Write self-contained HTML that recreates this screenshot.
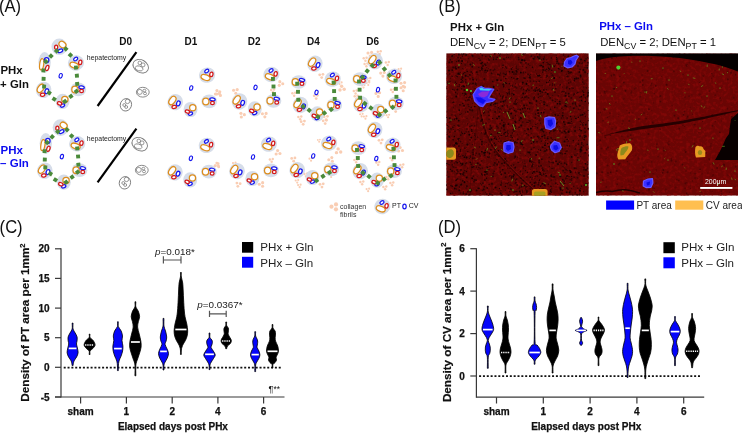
<!DOCTYPE html><html><head><meta charset="utf-8"><title>Figure</title><style>
html,body{margin:0;padding:0;background:#fff;}
body{width:742px;height:433px;overflow:hidden;position:relative;font-family:'Liberation Sans', Arial, Helvetica, sans-serif;}
svg{position:absolute;left:0;top:0;}
text{font-family:'Liberation Sans', Arial, Helvetica, sans-serif;}
</style></head><body>
<svg width="742" height="433" viewBox="0 0 742 433">
<g id="panelA"><circle cx="216.93" cy="90.62" r="1.55" fill="#f9cdb3"/><circle cx="219.25" cy="93.44" r="1.55" fill="#f9cdb3"/><circle cx="215.43" cy="94.02" r="1.55" fill="#f9cdb3"/><circle cx="233.60" cy="90.20" r="1.55" fill="#f9cdb3"/><circle cx="237.20" cy="89.60" r="1.55" fill="#f9cdb3"/><circle cx="235.80" cy="93.20" r="1.55" fill="#f9cdb3"/><circle cx="219.80" cy="91.80" r="1.55" fill="#f9cdb3"/><circle cx="220.40" cy="95.40" r="1.55" fill="#f9cdb3"/><circle cx="216.80" cy="94.00" r="1.55" fill="#f9cdb3"/><circle cx="240.92" cy="113.37" r="1.55" fill="#f9cdb3"/><circle cx="244.34" cy="114.65" r="1.55" fill="#f9cdb3"/><circle cx="241.32" cy="117.07" r="1.55" fill="#f9cdb3"/><circle cx="266.13" cy="113.42" r="1.55" fill="#f9cdb3"/><circle cx="264.85" cy="116.84" r="1.55" fill="#f9cdb3"/><circle cx="262.43" cy="113.82" r="1.55" fill="#f9cdb3"/><circle cx="279.81" cy="81.67" r="1.55" fill="#f9cdb3"/><circle cx="282.77" cy="83.79" r="1.55" fill="#f9cdb3"/><circle cx="279.24" cy="85.34" r="1.55" fill="#f9cdb3"/><circle cx="271.20" cy="89.96" r="1.24" fill="#f9cdb3"/><circle cx="274.08" cy="89.48" r="1.24" fill="#f9cdb3"/><circle cx="272.96" cy="92.36" r="1.24" fill="#f9cdb3"/><circle cx="216.78" cy="163.11" r="1.40" fill="#f9cdb3"/><circle cx="218.40" cy="165.97" r="1.40" fill="#f9cdb3"/><circle cx="214.92" cy="165.89" r="1.40" fill="#f9cdb3"/><circle cx="277.63" cy="150.62" r="1.55" fill="#f9cdb3"/><circle cx="279.95" cy="153.44" r="1.55" fill="#f9cdb3"/><circle cx="276.13" cy="154.02" r="1.55" fill="#f9cdb3"/><circle cx="269.90" cy="159.46" r="1.24" fill="#f9cdb3"/><circle cx="272.78" cy="158.98" r="1.24" fill="#f9cdb3"/><circle cx="271.66" cy="161.86" r="1.24" fill="#f9cdb3"/><circle cx="233.00" cy="163.09" r="1.08" fill="#f9cdb3"/><circle cx="235.52" cy="162.67" r="1.08" fill="#f9cdb3"/><circle cx="234.54" cy="165.19" r="1.08" fill="#f9cdb3"/><circle cx="218.17" cy="163.70" r="1.40" fill="#f9cdb3"/><circle cx="218.71" cy="166.94" r="1.40" fill="#f9cdb3"/><circle cx="215.47" cy="165.68" r="1.40" fill="#f9cdb3"/><circle cx="236.91" cy="183.08" r="1.40" fill="#f9cdb3"/><circle cx="240.14" cy="183.69" r="1.40" fill="#f9cdb3"/><circle cx="237.85" cy="186.30" r="1.40" fill="#f9cdb3"/><circle cx="262.63" cy="182.66" r="1.55" fill="#f9cdb3"/><circle cx="262.59" cy="186.31" r="1.55" fill="#f9cdb3"/><circle cx="259.29" cy="184.30" r="1.55" fill="#f9cdb3"/><circle cx="319.70" cy="74.83" r="1.40" fill="#f9cdb3"/><circle cx="322.94" cy="74.29" r="1.40" fill="#f9cdb3"/><circle cx="321.68" cy="77.53" r="1.40" fill="#f9cdb3"/><circle cx="341.64" cy="86.18" r="1.71" fill="#f9cdb3"/><circle cx="344.19" cy="89.28" r="1.71" fill="#f9cdb3"/><circle cx="339.99" cy="89.93" r="1.71" fill="#f9cdb3"/><circle cx="314.20" cy="95.83" r="1.40" fill="#f9cdb3"/><circle cx="317.44" cy="95.29" r="1.40" fill="#f9cdb3"/><circle cx="316.18" cy="98.53" r="1.40" fill="#f9cdb3"/><circle cx="292.40" cy="93.26" r="1.24" fill="#f9cdb3"/><circle cx="295.28" cy="92.78" r="1.24" fill="#f9cdb3"/><circle cx="294.16" cy="95.66" r="1.24" fill="#f9cdb3"/><circle cx="298.40" cy="116.96" r="1.24" fill="#f9cdb3"/><circle cx="301.28" cy="116.48" r="1.24" fill="#f9cdb3"/><circle cx="300.16" cy="119.36" r="1.24" fill="#f9cdb3"/><circle cx="324.20" cy="116.83" r="1.40" fill="#f9cdb3"/><circle cx="327.44" cy="116.29" r="1.40" fill="#f9cdb3"/><circle cx="326.18" cy="119.53" r="1.40" fill="#f9cdb3"/><circle cx="339.24" cy="81.51" r="1.08" fill="#f9cdb3"/><circle cx="341.63" cy="82.41" r="1.08" fill="#f9cdb3"/><circle cx="339.53" cy="84.10" r="1.08" fill="#f9cdb3"/><circle cx="301.20" cy="121.63" r="1.40" fill="#f9cdb3"/><circle cx="304.44" cy="121.09" r="1.40" fill="#f9cdb3"/><circle cx="303.18" cy="124.33" r="1.40" fill="#f9cdb3"/><circle cx="323.20" cy="120.83" r="1.40" fill="#f9cdb3"/><circle cx="326.44" cy="120.29" r="1.40" fill="#f9cdb3"/><circle cx="325.18" cy="123.53" r="1.40" fill="#f9cdb3"/><circle cx="317.80" cy="139.92" r="0.93" fill="#f9cdb3"/><circle cx="319.96" cy="139.56" r="0.93" fill="#f9cdb3"/><circle cx="319.12" cy="141.72" r="0.93" fill="#f9cdb3"/><circle cx="338.14" cy="148.88" r="1.71" fill="#f9cdb3"/><circle cx="340.69" cy="151.98" r="1.71" fill="#f9cdb3"/><circle cx="336.49" cy="152.63" r="1.71" fill="#f9cdb3"/><circle cx="331.80" cy="157.60" r="1.55" fill="#f9cdb3"/><circle cx="332.40" cy="161.20" r="1.55" fill="#f9cdb3"/><circle cx="328.80" cy="159.80" r="1.55" fill="#f9cdb3"/><circle cx="309.50" cy="158.69" r="1.08" fill="#f9cdb3"/><circle cx="312.02" cy="158.27" r="1.08" fill="#f9cdb3"/><circle cx="311.04" cy="160.79" r="1.08" fill="#f9cdb3"/><circle cx="291.70" cy="158.43" r="1.40" fill="#f9cdb3"/><circle cx="294.94" cy="157.89" r="1.40" fill="#f9cdb3"/><circle cx="293.68" cy="161.13" r="1.40" fill="#f9cdb3"/><circle cx="295.70" cy="180.49" r="1.08" fill="#f9cdb3"/><circle cx="298.22" cy="180.07" r="1.08" fill="#f9cdb3"/><circle cx="297.24" cy="182.59" r="1.08" fill="#f9cdb3"/><circle cx="298.10" cy="185.09" r="1.08" fill="#f9cdb3"/><circle cx="300.62" cy="184.67" r="1.08" fill="#f9cdb3"/><circle cx="299.64" cy="187.19" r="1.08" fill="#f9cdb3"/><circle cx="320.00" cy="184.33" r="1.40" fill="#f9cdb3"/><circle cx="323.24" cy="183.79" r="1.40" fill="#f9cdb3"/><circle cx="321.98" cy="187.03" r="1.40" fill="#f9cdb3"/><circle cx="304.40" cy="173.96" r="1.24" fill="#f9cdb3"/><circle cx="307.28" cy="173.48" r="1.24" fill="#f9cdb3"/><circle cx="306.16" cy="176.36" r="1.24" fill="#f9cdb3"/><circle cx="329.60" cy="174.89" r="1.08" fill="#f9cdb3"/><circle cx="332.12" cy="174.47" r="1.08" fill="#f9cdb3"/><circle cx="331.14" cy="176.99" r="1.08" fill="#f9cdb3"/><circle cx="368.00" cy="53.00" r="1.55" fill="#f9cdb3"/><circle cx="371.60" cy="52.40" r="1.55" fill="#f9cdb3"/><circle cx="370.20" cy="56.00" r="1.55" fill="#f9cdb3"/><circle cx="377.80" cy="51.66" r="1.24" fill="#f9cdb3"/><circle cx="380.68" cy="51.18" r="1.24" fill="#f9cdb3"/><circle cx="379.56" cy="54.06" r="1.24" fill="#f9cdb3"/><circle cx="363.70" cy="58.26" r="1.24" fill="#f9cdb3"/><circle cx="366.58" cy="57.78" r="1.24" fill="#f9cdb3"/><circle cx="365.46" cy="60.66" r="1.24" fill="#f9cdb3"/><circle cx="364.60" cy="63.96" r="1.24" fill="#f9cdb3"/><circle cx="367.48" cy="63.48" r="1.24" fill="#f9cdb3"/><circle cx="366.36" cy="66.36" r="1.24" fill="#f9cdb3"/><circle cx="385.90" cy="62.56" r="1.24" fill="#f9cdb3"/><circle cx="388.78" cy="62.08" r="1.24" fill="#f9cdb3"/><circle cx="387.66" cy="64.96" r="1.24" fill="#f9cdb3"/><circle cx="380.70" cy="73.10" r="1.55" fill="#f9cdb3"/><circle cx="384.30" cy="72.50" r="1.55" fill="#f9cdb3"/><circle cx="382.90" cy="76.10" r="1.55" fill="#f9cdb3"/><circle cx="367.40" cy="78.56" r="1.24" fill="#f9cdb3"/><circle cx="370.28" cy="78.08" r="1.24" fill="#f9cdb3"/><circle cx="369.16" cy="80.96" r="1.24" fill="#f9cdb3"/><circle cx="366.70" cy="82.89" r="1.08" fill="#f9cdb3"/><circle cx="369.22" cy="82.47" r="1.08" fill="#f9cdb3"/><circle cx="368.24" cy="84.99" r="1.08" fill="#f9cdb3"/><circle cx="362.00" cy="85.49" r="1.08" fill="#f9cdb3"/><circle cx="364.52" cy="85.07" r="1.08" fill="#f9cdb3"/><circle cx="363.54" cy="87.59" r="1.08" fill="#f9cdb3"/><circle cx="401.00" cy="83.20" r="1.55" fill="#f9cdb3"/><circle cx="404.60" cy="82.60" r="1.55" fill="#f9cdb3"/><circle cx="403.20" cy="86.20" r="1.55" fill="#f9cdb3"/><circle cx="353.80" cy="91.06" r="1.24" fill="#f9cdb3"/><circle cx="356.68" cy="90.58" r="1.24" fill="#f9cdb3"/><circle cx="355.56" cy="93.46" r="1.24" fill="#f9cdb3"/><circle cx="354.70" cy="96.26" r="1.24" fill="#f9cdb3"/><circle cx="357.58" cy="95.78" r="1.24" fill="#f9cdb3"/><circle cx="356.46" cy="98.66" r="1.24" fill="#f9cdb3"/><circle cx="376.00" cy="93.40" r="1.55" fill="#f9cdb3"/><circle cx="379.60" cy="92.80" r="1.55" fill="#f9cdb3"/><circle cx="378.20" cy="96.40" r="1.55" fill="#f9cdb3"/><circle cx="391.00" cy="89.66" r="1.24" fill="#f9cdb3"/><circle cx="393.88" cy="89.18" r="1.24" fill="#f9cdb3"/><circle cx="392.76" cy="92.06" r="1.24" fill="#f9cdb3"/><circle cx="401.00" cy="87.70" r="1.55" fill="#f9cdb3"/><circle cx="404.60" cy="87.10" r="1.55" fill="#f9cdb3"/><circle cx="403.20" cy="90.70" r="1.55" fill="#f9cdb3"/><circle cx="393.70" cy="108.83" r="1.40" fill="#f9cdb3"/><circle cx="396.94" cy="108.29" r="1.40" fill="#f9cdb3"/><circle cx="395.68" cy="111.53" r="1.40" fill="#f9cdb3"/><circle cx="360.10" cy="114.29" r="1.08" fill="#f9cdb3"/><circle cx="362.62" cy="113.87" r="1.08" fill="#f9cdb3"/><circle cx="361.64" cy="116.39" r="1.08" fill="#f9cdb3"/><circle cx="363.90" cy="116.59" r="1.08" fill="#f9cdb3"/><circle cx="366.42" cy="116.17" r="1.08" fill="#f9cdb3"/><circle cx="365.44" cy="118.69" r="1.08" fill="#f9cdb3"/><circle cx="382.30" cy="112.89" r="1.08" fill="#f9cdb3"/><circle cx="384.82" cy="112.47" r="1.08" fill="#f9cdb3"/><circle cx="383.84" cy="114.99" r="1.08" fill="#f9cdb3"/><circle cx="386.60" cy="115.19" r="1.08" fill="#f9cdb3"/><circle cx="389.12" cy="114.77" r="1.08" fill="#f9cdb3"/><circle cx="388.14" cy="117.29" r="1.08" fill="#f9cdb3"/><circle cx="398.60" cy="69.09" r="1.08" fill="#f9cdb3"/><circle cx="401.12" cy="68.67" r="1.08" fill="#f9cdb3"/><circle cx="400.14" cy="71.19" r="1.08" fill="#f9cdb3"/><circle cx="379.00" cy="140.33" r="1.40" fill="#f9cdb3"/><circle cx="382.24" cy="139.79" r="1.40" fill="#f9cdb3"/><circle cx="380.98" cy="143.03" r="1.40" fill="#f9cdb3"/><circle cx="400.13" cy="147.62" r="1.55" fill="#f9cdb3"/><circle cx="402.45" cy="150.44" r="1.55" fill="#f9cdb3"/><circle cx="398.63" cy="151.02" r="1.55" fill="#f9cdb3"/><circle cx="390.40" cy="157.96" r="1.24" fill="#f9cdb3"/><circle cx="393.28" cy="157.48" r="1.24" fill="#f9cdb3"/><circle cx="392.16" cy="160.36" r="1.24" fill="#f9cdb3"/><circle cx="376.40" cy="162.46" r="1.24" fill="#f9cdb3"/><circle cx="379.28" cy="161.98" r="1.24" fill="#f9cdb3"/><circle cx="378.16" cy="164.86" r="1.24" fill="#f9cdb3"/><circle cx="354.40" cy="159.96" r="1.24" fill="#f9cdb3"/><circle cx="357.28" cy="159.48" r="1.24" fill="#f9cdb3"/><circle cx="356.16" cy="162.36" r="1.24" fill="#f9cdb3"/><circle cx="400.40" cy="164.96" r="1.24" fill="#f9cdb3"/><circle cx="403.28" cy="164.48" r="1.24" fill="#f9cdb3"/><circle cx="402.16" cy="167.36" r="1.24" fill="#f9cdb3"/><circle cx="386.40" cy="176.96" r="1.24" fill="#f9cdb3"/><circle cx="389.28" cy="176.48" r="1.24" fill="#f9cdb3"/><circle cx="388.16" cy="179.36" r="1.24" fill="#f9cdb3"/><circle cx="360.40" cy="181.96" r="1.24" fill="#f9cdb3"/><circle cx="363.28" cy="181.48" r="1.24" fill="#f9cdb3"/><circle cx="362.16" cy="184.36" r="1.24" fill="#f9cdb3"/><circle cx="390.40" cy="182.96" r="1.24" fill="#f9cdb3"/><circle cx="393.28" cy="182.48" r="1.24" fill="#f9cdb3"/><circle cx="392.16" cy="185.36" r="1.24" fill="#f9cdb3"/><circle cx="366.60" cy="189.09" r="1.08" fill="#f9cdb3"/><circle cx="369.12" cy="188.67" r="1.08" fill="#f9cdb3"/><circle cx="368.14" cy="191.19" r="1.08" fill="#f9cdb3"/><circle cx="383.40" cy="186.96" r="1.24" fill="#f9cdb3"/><circle cx="386.28" cy="186.48" r="1.24" fill="#f9cdb3"/><circle cx="385.16" cy="189.36" r="1.24" fill="#f9cdb3"/><text x="119.2" y="44.6" font-size="10" font-weight="bold" fill="#111">D0</text><text x="184.5" y="44.6" font-size="10" font-weight="bold" fill="#111">D1</text><text x="247.7" y="44.6" font-size="10" font-weight="bold" fill="#111">D2</text><text x="307.0" y="44.6" font-size="10" font-weight="bold" fill="#111">D4</text><text x="366.2" y="44.6" font-size="10" font-weight="bold" fill="#111">D6</text><text font-size="11.4" font-weight="bold" fill="#111"><tspan x="0.5" y="74">PHx</tspan><tspan x="0.1" y="88">+ Gln</tspan></text><text font-size="11.5" font-weight="bold" fill="#0c0cf0"><tspan x="0.5" y="153.5">PHx</tspan><tspan x="0.1" y="167.3">– Gln</tspan></text><ellipse cx="59.30" cy="46.80" rx="7.84" ry="8.29" fill="#d6dde9" stroke="none" stroke-width="0.00"/><ellipse cx="62.44" cy="44.56" rx="3.70" ry="2.91" fill="#fff" stroke="#dc8c1c" stroke-width="1.25" transform="rotate(35.0 62.44 44.56)"/><ellipse cx="60.31" cy="50.83" rx="2.58" ry="1.57" fill="#fff" stroke="#1616ee" stroke-width="1.25" transform="rotate(-25.0 60.31 50.83)"/><ellipse cx="56.16" cy="47.36" rx="1.57" ry="2.13" fill="#fff" stroke="#d41818" stroke-width="1.25"/><ellipse cx="44.60" cy="62.50" rx="6.16" ry="10.42" fill="#d6dde9" stroke="none" stroke-width="0.00"/><ellipse cx="41.69" cy="64.29" rx="2.02" ry="5.60" fill="#fff" stroke="#dc8c1c" stroke-width="1.25" transform="rotate(8.0 41.69 64.29)"/><ellipse cx="46.62" cy="60.15" rx="2.24" ry="2.46" fill="#fff" stroke="#1616ee" stroke-width="1.25"/><ellipse cx="47.18" cy="67.99" rx="1.57" ry="2.69" fill="#fff" stroke="#d41818" stroke-width="1.25" transform="rotate(20.0 47.18 67.99)"/><ellipse cx="76.00" cy="63.00" rx="8.18" ry="7.62" fill="#d6dde9" stroke="none" stroke-width="0.00" transform="rotate(-20.0 76.00 63.00)"/><ellipse cx="74.43" cy="65.35" rx="4.70" ry="2.69" fill="#fff" stroke="#dc8c1c" stroke-width="1.25" transform="rotate(20.0 74.43 65.35)"/><ellipse cx="75.66" cy="58.97" rx="2.24" ry="1.51" fill="#fff" stroke="#1616ee" stroke-width="1.25" transform="rotate(-35.0 75.66 58.97)"/><ellipse cx="80.26" cy="62.33" rx="1.62" ry="2.30" fill="#fff" stroke="#d41818" stroke-width="1.25" transform="rotate(10.0 80.26 62.33)"/><ellipse cx="43.60" cy="89.90" rx="7.73" ry="8.18" fill="#d6dde9" stroke="none" stroke-width="0.00" transform="rotate(20.0 43.60 89.90)"/><ellipse cx="40.80" cy="88.33" rx="2.80" ry="4.70" fill="#fff" stroke="#dc8c1c" stroke-width="1.25" transform="rotate(35.0 40.80 88.33)"/><ellipse cx="46.74" cy="91.24" rx="1.74" ry="2.52" fill="#fff" stroke="#1616ee" stroke-width="1.25" transform="rotate(20.0 46.74 91.24)"/><ellipse cx="42.59" cy="94.72" rx="2.24" ry="1.57" fill="#fff" stroke="#d41818" stroke-width="1.25" transform="rotate(-10.0 42.59 94.72)"/><ellipse cx="78.30" cy="89.40" rx="7.84" ry="6.83" fill="#d6dde9" stroke="none" stroke-width="0.00"/><ellipse cx="74.94" cy="89.40" rx="3.14" ry="3.36" fill="#fff" stroke="#dc8c1c" stroke-width="1.25"/><ellipse cx="81.55" cy="87.38" rx="2.74" ry="1.46" fill="#fff" stroke="#1616ee" stroke-width="1.25" transform="rotate(10.0 81.55 87.38)"/><ellipse cx="81.55" cy="91.08" rx="1.90" ry="1.62" fill="#fff" stroke="#d41818" stroke-width="1.25"/><ellipse cx="62.60" cy="101.40" rx="6.94" ry="7.62" fill="#d6dde9" stroke="none" stroke-width="0.00"/><ellipse cx="64.84" cy="99.61" rx="3.14" ry="3.14" fill="#fff" stroke="#dc8c1c" stroke-width="1.25"/><ellipse cx="62.49" cy="105.54" rx="2.24" ry="1.46" fill="#fff" stroke="#1616ee" stroke-width="1.25" transform="rotate(-25.0 62.49 105.54)"/><ellipse cx="59.58" cy="103.42" rx="2.24" ry="1.57" fill="#fff" stroke="#d41818" stroke-width="1.25" transform="rotate(20.0 59.58 103.42)"/><ellipse cx="60.70" cy="75.80" rx="1.55" ry="2.30" fill="#fff" stroke="#1616ee" stroke-width="1.10" transform="rotate(15.0 60.70 75.80)"/><rect x="54.65" y="48.95" width="3.9" height="3.9" fill="#4a8a3a" transform="rotate(43 56.60 50.90)"/><rect x="49.05" y="54.05" width="3.9" height="3.9" fill="#4a8a3a" transform="rotate(43 51.00 56.00)"/><rect x="43.95" y="59.65" width="3.9" height="3.9" fill="#4a8a3a" transform="rotate(43 45.90 61.60)"/><rect x="41.45" y="68.45" width="3.9" height="3.9" fill="#4a8a3a" transform="rotate(92 43.40 70.40)"/><rect x="41.65" y="76.85" width="3.9" height="3.9" fill="#4a8a3a" transform="rotate(92 43.60 78.80)"/><rect x="42.15" y="84.65" width="3.9" height="3.9" fill="#4a8a3a" transform="rotate(92 44.10 86.60)"/><rect x="47.25" y="90.95" width="3.9" height="3.9" fill="#4a8a3a" transform="rotate(31 49.20 92.90)"/><rect x="52.25" y="97.15" width="3.9" height="3.9" fill="#4a8a3a" transform="rotate(31 54.20 99.10)"/><rect x="62.95" y="99.45" width="3.9" height="3.9" fill="#4a8a3a" transform="rotate(-37 64.90 101.40)"/><rect x="68.95" y="94.35" width="3.9" height="3.9" fill="#4a8a3a" transform="rotate(-37 70.90 96.30)"/><rect x="74.45" y="89.35" width="3.9" height="3.9" fill="#4a8a3a" transform="rotate(-37 76.40 91.30)"/><rect x="75.25" y="81.95" width="3.9" height="3.9" fill="#4a8a3a" transform="rotate(-5 77.20 83.90)"/><rect x="74.95" y="73.75" width="3.9" height="3.9" fill="#4a8a3a" transform="rotate(-5 76.90 75.70)"/><rect x="74.05" y="65.65" width="3.9" height="3.9" fill="#4a8a3a" transform="rotate(-5 76.00 67.60)"/><rect x="68.45" y="53.15" width="3.9" height="3.9" fill="#4a8a3a" transform="rotate(44 70.40 55.10)"/><rect x="63.85" y="46.95" width="3.9" height="3.9" fill="#4a8a3a" transform="rotate(44 65.80 48.90)"/><ellipse cx="60.50" cy="127.60" rx="7.84" ry="8.29" fill="#d6dde9" stroke="none" stroke-width="0.00"/><ellipse cx="63.64" cy="125.36" rx="3.70" ry="2.91" fill="#fff" stroke="#dc8c1c" stroke-width="1.25" transform="rotate(35.0 63.64 125.36)"/><ellipse cx="61.51" cy="131.63" rx="2.58" ry="1.57" fill="#fff" stroke="#1616ee" stroke-width="1.25" transform="rotate(-25.0 61.51 131.63)"/><ellipse cx="57.36" cy="128.16" rx="1.57" ry="2.13" fill="#fff" stroke="#d41818" stroke-width="1.25"/><ellipse cx="45.80" cy="143.30" rx="6.16" ry="10.42" fill="#d6dde9" stroke="none" stroke-width="0.00"/><ellipse cx="42.89" cy="145.09" rx="2.02" ry="5.60" fill="#fff" stroke="#dc8c1c" stroke-width="1.25" transform="rotate(8.0 42.89 145.09)"/><ellipse cx="47.82" cy="140.95" rx="2.24" ry="2.46" fill="#fff" stroke="#1616ee" stroke-width="1.25"/><ellipse cx="48.38" cy="148.79" rx="1.57" ry="2.69" fill="#fff" stroke="#d41818" stroke-width="1.25" transform="rotate(20.0 48.38 148.79)"/><ellipse cx="77.20" cy="143.80" rx="8.18" ry="7.62" fill="#d6dde9" stroke="none" stroke-width="0.00" transform="rotate(-20.0 77.20 143.80)"/><ellipse cx="75.63" cy="146.15" rx="4.70" ry="2.69" fill="#fff" stroke="#dc8c1c" stroke-width="1.25" transform="rotate(20.0 75.63 146.15)"/><ellipse cx="76.86" cy="139.77" rx="2.24" ry="1.51" fill="#fff" stroke="#1616ee" stroke-width="1.25" transform="rotate(-35.0 76.86 139.77)"/><ellipse cx="81.46" cy="143.13" rx="1.62" ry="2.30" fill="#fff" stroke="#d41818" stroke-width="1.25" transform="rotate(10.0 81.46 143.13)"/><ellipse cx="44.80" cy="170.70" rx="7.73" ry="8.18" fill="#d6dde9" stroke="none" stroke-width="0.00" transform="rotate(20.0 44.80 170.70)"/><ellipse cx="42.00" cy="169.13" rx="2.80" ry="4.70" fill="#fff" stroke="#dc8c1c" stroke-width="1.25" transform="rotate(35.0 42.00 169.13)"/><ellipse cx="47.94" cy="172.04" rx="1.74" ry="2.52" fill="#fff" stroke="#1616ee" stroke-width="1.25" transform="rotate(20.0 47.94 172.04)"/><ellipse cx="43.79" cy="175.52" rx="2.24" ry="1.57" fill="#fff" stroke="#d41818" stroke-width="1.25" transform="rotate(-10.0 43.79 175.52)"/><ellipse cx="79.50" cy="170.20" rx="7.84" ry="6.83" fill="#d6dde9" stroke="none" stroke-width="0.00"/><ellipse cx="76.14" cy="170.20" rx="3.14" ry="3.36" fill="#fff" stroke="#dc8c1c" stroke-width="1.25"/><ellipse cx="82.75" cy="168.18" rx="2.74" ry="1.46" fill="#fff" stroke="#1616ee" stroke-width="1.25" transform="rotate(10.0 82.75 168.18)"/><ellipse cx="82.75" cy="171.88" rx="1.90" ry="1.62" fill="#fff" stroke="#d41818" stroke-width="1.25"/><ellipse cx="63.80" cy="182.20" rx="6.94" ry="7.62" fill="#d6dde9" stroke="none" stroke-width="0.00"/><ellipse cx="66.04" cy="180.41" rx="3.14" ry="3.14" fill="#fff" stroke="#dc8c1c" stroke-width="1.25"/><ellipse cx="63.69" cy="186.34" rx="2.24" ry="1.46" fill="#fff" stroke="#1616ee" stroke-width="1.25" transform="rotate(-25.0 63.69 186.34)"/><ellipse cx="60.78" cy="184.22" rx="2.24" ry="1.57" fill="#fff" stroke="#d41818" stroke-width="1.25" transform="rotate(20.0 60.78 184.22)"/><ellipse cx="61.90" cy="156.60" rx="1.55" ry="2.30" fill="#fff" stroke="#1616ee" stroke-width="1.10" transform="rotate(15.0 61.90 156.60)"/><rect x="55.85" y="129.75" width="3.9" height="3.9" fill="#4a8a3a" transform="rotate(43 57.80 131.70)"/><rect x="50.25" y="134.85" width="3.9" height="3.9" fill="#4a8a3a" transform="rotate(43 52.20 136.80)"/><rect x="45.15" y="140.45" width="3.9" height="3.9" fill="#4a8a3a" transform="rotate(43 47.10 142.40)"/><rect x="42.65" y="149.25" width="3.9" height="3.9" fill="#4a8a3a" transform="rotate(92 44.60 151.20)"/><rect x="42.85" y="157.65" width="3.9" height="3.9" fill="#4a8a3a" transform="rotate(92 44.80 159.60)"/><rect x="43.35" y="165.45" width="3.9" height="3.9" fill="#4a8a3a" transform="rotate(92 45.30 167.40)"/><rect x="48.45" y="171.75" width="3.9" height="3.9" fill="#4a8a3a" transform="rotate(31 50.40 173.70)"/><rect x="53.45" y="177.95" width="3.9" height="3.9" fill="#4a8a3a" transform="rotate(31 55.40 179.90)"/><rect x="64.15" y="180.25" width="3.9" height="3.9" fill="#4a8a3a" transform="rotate(-37 66.10 182.20)"/><rect x="70.15" y="175.15" width="3.9" height="3.9" fill="#4a8a3a" transform="rotate(-37 72.10 177.10)"/><rect x="75.65" y="170.15" width="3.9" height="3.9" fill="#4a8a3a" transform="rotate(-37 77.60 172.10)"/><rect x="76.45" y="162.75" width="3.9" height="3.9" fill="#4a8a3a" transform="rotate(-5 78.40 164.70)"/><rect x="76.15" y="154.55" width="3.9" height="3.9" fill="#4a8a3a" transform="rotate(-5 78.10 156.50)"/><rect x="75.25" y="146.45" width="3.9" height="3.9" fill="#4a8a3a" transform="rotate(-5 77.20 148.40)"/><rect x="69.65" y="133.95" width="3.9" height="3.9" fill="#4a8a3a" transform="rotate(44 71.60 135.90)"/><rect x="65.05" y="127.75" width="3.9" height="3.9" fill="#4a8a3a" transform="rotate(44 67.00 129.70)"/><line x1="97.6" y1="106" x2="136.4" y2="52.1" stroke="#000" stroke-width="2.2"/><line x1="97.6" y1="182.4" x2="136.4" y2="128.7" stroke="#000" stroke-width="2.2"/><text x="86.8" y="60.2" font-size="6.9" fill="#222">hepatectomy</text><text x="86.8" y="140.7" font-size="6.9" fill="#222">hepatectomy</text><ellipse cx="140.70" cy="66.20" rx="8.20" ry="6.30" fill="none" stroke="#7e7e7e" stroke-width="0.90" transform="rotate(30.0 140.70 66.20)"/><ellipse cx="139.10" cy="68.40" rx="4.00" ry="2.40" fill="none" stroke="#7e7e7e" stroke-width="0.80" transform="rotate(15.0 139.10 68.40)"/><ellipse cx="139.80" cy="62.90" rx="1.80" ry="1.80" fill="none" stroke="#7e7e7e" stroke-width="0.80"/><ellipse cx="143.00" cy="64.90" rx="2.00" ry="2.00" fill="none" stroke="#7e7e7e" stroke-width="0.80"/><ellipse cx="142.80" cy="92.20" rx="6.40" ry="4.90" fill="none" stroke="#7e7e7e" stroke-width="0.90"/><ellipse cx="139.80" cy="91.90" rx="2.50" ry="2.50" fill="none" stroke="#7e7e7e" stroke-width="0.80"/><ellipse cx="144.40" cy="90.60" rx="1.50" ry="1.30" fill="none" stroke="#7e7e7e" stroke-width="0.80"/><ellipse cx="145.00" cy="93.50" rx="1.50" ry="1.30" fill="none" stroke="#7e7e7e" stroke-width="0.80"/><ellipse cx="125.90" cy="104.80" rx="5.60" ry="6.30" fill="none" stroke="#7e7e7e" stroke-width="0.90" transform="rotate(20.0 125.90 104.80)"/><ellipse cx="127.50" cy="101.40" rx="2.20" ry="2.20" fill="none" stroke="#7e7e7e" stroke-width="0.80"/><ellipse cx="124.30" cy="105.00" rx="1.50" ry="1.40" fill="none" stroke="#7e7e7e" stroke-width="0.80"/><ellipse cx="126.20" cy="107.00" rx="1.50" ry="1.40" fill="none" stroke="#7e7e7e" stroke-width="0.80"/><ellipse cx="139.70" cy="144.20" rx="8.20" ry="6.30" fill="none" stroke="#7e7e7e" stroke-width="0.90" transform="rotate(30.0 139.70 144.20)"/><ellipse cx="138.10" cy="146.40" rx="4.00" ry="2.40" fill="none" stroke="#7e7e7e" stroke-width="0.80" transform="rotate(15.0 138.10 146.40)"/><ellipse cx="138.80" cy="140.90" rx="1.80" ry="1.80" fill="none" stroke="#7e7e7e" stroke-width="0.80"/><ellipse cx="142.00" cy="142.90" rx="2.00" ry="2.00" fill="none" stroke="#7e7e7e" stroke-width="0.80"/><ellipse cx="141.80" cy="170.20" rx="6.40" ry="4.90" fill="none" stroke="#7e7e7e" stroke-width="0.90"/><ellipse cx="138.80" cy="169.90" rx="2.50" ry="2.50" fill="none" stroke="#7e7e7e" stroke-width="0.80"/><ellipse cx="143.40" cy="168.60" rx="1.50" ry="1.30" fill="none" stroke="#7e7e7e" stroke-width="0.80"/><ellipse cx="144.00" cy="171.50" rx="1.50" ry="1.30" fill="none" stroke="#7e7e7e" stroke-width="0.80"/><ellipse cx="124.90" cy="182.80" rx="5.60" ry="6.30" fill="none" stroke="#7e7e7e" stroke-width="0.90" transform="rotate(20.0 124.90 182.80)"/><ellipse cx="126.50" cy="179.40" rx="2.20" ry="2.20" fill="none" stroke="#7e7e7e" stroke-width="0.80"/><ellipse cx="123.30" cy="183.00" rx="1.50" ry="1.40" fill="none" stroke="#7e7e7e" stroke-width="0.80"/><ellipse cx="125.20" cy="185.00" rx="1.50" ry="1.40" fill="none" stroke="#7e7e7e" stroke-width="0.80"/><ellipse cx="207.10" cy="75.10" rx="8.18" ry="7.62" fill="#d6dde9" stroke="none" stroke-width="0.00" transform="rotate(-20.0 207.10 75.10)"/><ellipse cx="205.53" cy="77.45" rx="4.70" ry="2.69" fill="#fff" stroke="#dc8c1c" stroke-width="1.25" transform="rotate(20.0 205.53 77.45)"/><ellipse cx="206.76" cy="71.07" rx="2.24" ry="1.51" fill="#fff" stroke="#1616ee" stroke-width="1.25" transform="rotate(-35.0 206.76 71.07)"/><ellipse cx="211.36" cy="74.43" rx="1.62" ry="2.30" fill="#fff" stroke="#d41818" stroke-width="1.25" transform="rotate(10.0 211.36 74.43)"/><ellipse cx="175.20" cy="102.10" rx="7.73" ry="8.18" fill="#d6dde9" stroke="none" stroke-width="0.00" transform="rotate(20.0 175.20 102.10)"/><ellipse cx="172.40" cy="100.53" rx="2.80" ry="4.70" fill="#fff" stroke="#dc8c1c" stroke-width="1.25" transform="rotate(35.0 172.40 100.53)"/><ellipse cx="178.34" cy="103.44" rx="1.74" ry="2.52" fill="#fff" stroke="#1616ee" stroke-width="1.25" transform="rotate(20.0 178.34 103.44)"/><ellipse cx="174.19" cy="106.92" rx="2.24" ry="1.57" fill="#fff" stroke="#d41818" stroke-width="1.25" transform="rotate(-10.0 174.19 106.92)"/><ellipse cx="209.20" cy="101.40" rx="7.84" ry="6.83" fill="#d6dde9" stroke="none" stroke-width="0.00"/><ellipse cx="205.84" cy="101.40" rx="3.14" ry="3.36" fill="#fff" stroke="#dc8c1c" stroke-width="1.25"/><ellipse cx="212.45" cy="99.38" rx="2.74" ry="1.46" fill="#fff" stroke="#1616ee" stroke-width="1.25" transform="rotate(10.0 212.45 99.38)"/><ellipse cx="212.45" cy="103.08" rx="1.90" ry="1.62" fill="#fff" stroke="#d41818" stroke-width="1.25"/><ellipse cx="190.50" cy="109.50" rx="6.94" ry="7.62" fill="#d6dde9" stroke="none" stroke-width="0.00"/><ellipse cx="192.74" cy="107.71" rx="3.14" ry="3.14" fill="#fff" stroke="#dc8c1c" stroke-width="1.25"/><ellipse cx="190.39" cy="113.64" rx="2.24" ry="1.46" fill="#fff" stroke="#1616ee" stroke-width="1.25" transform="rotate(-25.0 190.39 113.64)"/><ellipse cx="187.48" cy="111.52" rx="2.24" ry="1.57" fill="#fff" stroke="#d41818" stroke-width="1.25" transform="rotate(20.0 187.48 111.52)"/><ellipse cx="191.20" cy="88.00" rx="1.55" ry="2.30" fill="#fff" stroke="#1616ee" stroke-width="1.10" transform="rotate(15.0 191.20 88.00)"/><ellipse cx="206.80" cy="145.40" rx="8.18" ry="7.62" fill="#d6dde9" stroke="none" stroke-width="0.00" transform="rotate(-20.0 206.80 145.40)"/><ellipse cx="205.23" cy="147.75" rx="4.70" ry="2.69" fill="#fff" stroke="#dc8c1c" stroke-width="1.25" transform="rotate(20.0 205.23 147.75)"/><ellipse cx="206.46" cy="141.37" rx="2.24" ry="1.51" fill="#fff" stroke="#1616ee" stroke-width="1.25" transform="rotate(-35.0 206.46 141.37)"/><ellipse cx="211.06" cy="144.73" rx="1.62" ry="2.30" fill="#fff" stroke="#d41818" stroke-width="1.25" transform="rotate(10.0 211.06 144.73)"/><ellipse cx="174.90" cy="172.40" rx="7.73" ry="8.18" fill="#d6dde9" stroke="none" stroke-width="0.00" transform="rotate(20.0 174.90 172.40)"/><ellipse cx="172.10" cy="170.83" rx="2.80" ry="4.70" fill="#fff" stroke="#dc8c1c" stroke-width="1.25" transform="rotate(35.0 172.10 170.83)"/><ellipse cx="178.04" cy="173.74" rx="1.74" ry="2.52" fill="#fff" stroke="#1616ee" stroke-width="1.25" transform="rotate(20.0 178.04 173.74)"/><ellipse cx="173.89" cy="177.22" rx="2.24" ry="1.57" fill="#fff" stroke="#d41818" stroke-width="1.25" transform="rotate(-10.0 173.89 177.22)"/><ellipse cx="208.90" cy="171.70" rx="7.84" ry="6.83" fill="#d6dde9" stroke="none" stroke-width="0.00"/><ellipse cx="205.54" cy="171.70" rx="3.14" ry="3.36" fill="#fff" stroke="#dc8c1c" stroke-width="1.25"/><ellipse cx="212.15" cy="169.68" rx="2.74" ry="1.46" fill="#fff" stroke="#1616ee" stroke-width="1.25" transform="rotate(10.0 212.15 169.68)"/><ellipse cx="212.15" cy="173.38" rx="1.90" ry="1.62" fill="#fff" stroke="#d41818" stroke-width="1.25"/><ellipse cx="190.20" cy="179.80" rx="6.94" ry="7.62" fill="#d6dde9" stroke="none" stroke-width="0.00"/><ellipse cx="192.44" cy="178.01" rx="3.14" ry="3.14" fill="#fff" stroke="#dc8c1c" stroke-width="1.25"/><ellipse cx="190.09" cy="183.94" rx="2.24" ry="1.46" fill="#fff" stroke="#1616ee" stroke-width="1.25" transform="rotate(-25.0 190.09 183.94)"/><ellipse cx="187.18" cy="181.82" rx="2.24" ry="1.57" fill="#fff" stroke="#d41818" stroke-width="1.25" transform="rotate(20.0 187.18 181.82)"/><ellipse cx="190.90" cy="158.30" rx="1.55" ry="2.30" fill="#fff" stroke="#1616ee" stroke-width="1.10" transform="rotate(15.0 190.90 158.30)"/><ellipse cx="271.40" cy="74.50" rx="8.18" ry="7.62" fill="#d6dde9" stroke="none" stroke-width="0.00" transform="rotate(-20.0 271.40 74.50)"/><ellipse cx="269.83" cy="76.85" rx="4.70" ry="2.69" fill="#fff" stroke="#dc8c1c" stroke-width="1.25" transform="rotate(20.0 269.83 76.85)"/><ellipse cx="271.06" cy="70.47" rx="2.24" ry="1.51" fill="#fff" stroke="#1616ee" stroke-width="1.25" transform="rotate(-35.0 271.06 70.47)"/><ellipse cx="275.66" cy="73.83" rx="1.62" ry="2.30" fill="#fff" stroke="#d41818" stroke-width="1.25" transform="rotate(10.0 275.66 73.83)"/><ellipse cx="239.50" cy="101.50" rx="7.73" ry="8.18" fill="#d6dde9" stroke="none" stroke-width="0.00" transform="rotate(20.0 239.50 101.50)"/><ellipse cx="236.70" cy="99.93" rx="2.80" ry="4.70" fill="#fff" stroke="#dc8c1c" stroke-width="1.25" transform="rotate(35.0 236.70 99.93)"/><ellipse cx="242.64" cy="102.84" rx="1.74" ry="2.52" fill="#fff" stroke="#1616ee" stroke-width="1.25" transform="rotate(20.0 242.64 102.84)"/><ellipse cx="238.49" cy="106.32" rx="2.24" ry="1.57" fill="#fff" stroke="#d41818" stroke-width="1.25" transform="rotate(-10.0 238.49 106.32)"/><ellipse cx="273.50" cy="100.80" rx="7.84" ry="6.83" fill="#d6dde9" stroke="none" stroke-width="0.00"/><ellipse cx="270.14" cy="100.80" rx="3.14" ry="3.36" fill="#fff" stroke="#dc8c1c" stroke-width="1.25"/><ellipse cx="276.75" cy="98.78" rx="2.74" ry="1.46" fill="#fff" stroke="#1616ee" stroke-width="1.25" transform="rotate(10.0 276.75 98.78)"/><ellipse cx="276.75" cy="102.48" rx="1.90" ry="1.62" fill="#fff" stroke="#d41818" stroke-width="1.25"/><ellipse cx="254.80" cy="108.90" rx="6.94" ry="7.62" fill="#d6dde9" stroke="none" stroke-width="0.00"/><ellipse cx="257.04" cy="107.11" rx="3.14" ry="3.14" fill="#fff" stroke="#dc8c1c" stroke-width="1.25"/><ellipse cx="254.69" cy="113.04" rx="2.24" ry="1.46" fill="#fff" stroke="#1616ee" stroke-width="1.25" transform="rotate(-25.0 254.69 113.04)"/><ellipse cx="251.78" cy="110.92" rx="2.24" ry="1.57" fill="#fff" stroke="#d41818" stroke-width="1.25" transform="rotate(20.0 251.78 110.92)"/><ellipse cx="255.50" cy="87.40" rx="1.55" ry="2.30" fill="#fff" stroke="#1616ee" stroke-width="1.10" transform="rotate(15.0 255.50 87.40)"/><rect x="270.95" y="76.95" width="3.90" height="3.90" fill="#4a8a3a" transform="rotate(0 272.90 78.90)"/><rect x="271.55" y="84.55" width="3.90" height="3.90" fill="#4a8a3a" transform="rotate(0 273.50 86.50)"/><rect x="272.05" y="92.15" width="3.90" height="3.90" fill="#4a8a3a" transform="rotate(0 274.00 94.10)"/><ellipse cx="268.90" cy="144.10" rx="8.18" ry="7.62" fill="#d6dde9" stroke="none" stroke-width="0.00" transform="rotate(-20.0 268.90 144.10)"/><ellipse cx="267.33" cy="146.45" rx="4.70" ry="2.69" fill="#fff" stroke="#dc8c1c" stroke-width="1.25" transform="rotate(20.0 267.33 146.45)"/><ellipse cx="268.56" cy="140.07" rx="2.24" ry="1.51" fill="#fff" stroke="#1616ee" stroke-width="1.25" transform="rotate(-35.0 268.56 140.07)"/><ellipse cx="273.16" cy="143.43" rx="1.62" ry="2.30" fill="#fff" stroke="#d41818" stroke-width="1.25" transform="rotate(10.0 273.16 143.43)"/><ellipse cx="237.00" cy="171.10" rx="7.73" ry="8.18" fill="#d6dde9" stroke="none" stroke-width="0.00" transform="rotate(20.0 237.00 171.10)"/><ellipse cx="234.20" cy="169.53" rx="2.80" ry="4.70" fill="#fff" stroke="#dc8c1c" stroke-width="1.25" transform="rotate(35.0 234.20 169.53)"/><ellipse cx="240.14" cy="172.44" rx="1.74" ry="2.52" fill="#fff" stroke="#1616ee" stroke-width="1.25" transform="rotate(20.0 240.14 172.44)"/><ellipse cx="235.99" cy="175.92" rx="2.24" ry="1.57" fill="#fff" stroke="#d41818" stroke-width="1.25" transform="rotate(-10.0 235.99 175.92)"/><ellipse cx="271.00" cy="170.40" rx="7.84" ry="6.83" fill="#d6dde9" stroke="none" stroke-width="0.00"/><ellipse cx="267.64" cy="170.40" rx="3.14" ry="3.36" fill="#fff" stroke="#dc8c1c" stroke-width="1.25"/><ellipse cx="274.25" cy="168.38" rx="2.74" ry="1.46" fill="#fff" stroke="#1616ee" stroke-width="1.25" transform="rotate(10.0 274.25 168.38)"/><ellipse cx="274.25" cy="172.08" rx="1.90" ry="1.62" fill="#fff" stroke="#d41818" stroke-width="1.25"/><ellipse cx="252.30" cy="178.50" rx="6.94" ry="7.62" fill="#d6dde9" stroke="none" stroke-width="0.00"/><ellipse cx="254.54" cy="176.71" rx="3.14" ry="3.14" fill="#fff" stroke="#dc8c1c" stroke-width="1.25"/><ellipse cx="252.19" cy="182.64" rx="2.24" ry="1.46" fill="#fff" stroke="#1616ee" stroke-width="1.25" transform="rotate(-25.0 252.19 182.64)"/><ellipse cx="249.28" cy="180.52" rx="2.24" ry="1.57" fill="#fff" stroke="#d41818" stroke-width="1.25" transform="rotate(20.0 249.28 180.52)"/><ellipse cx="253.00" cy="157.00" rx="1.55" ry="2.30" fill="#fff" stroke="#1616ee" stroke-width="1.10" transform="rotate(15.0 253.00 157.00)"/><ellipse cx="329.10" cy="143.10" rx="8.18" ry="7.62" fill="#d6dde9" stroke="none" stroke-width="0.00" transform="rotate(-20.0 329.10 143.10)"/><ellipse cx="327.53" cy="145.45" rx="4.70" ry="2.69" fill="#fff" stroke="#dc8c1c" stroke-width="1.25" transform="rotate(20.0 327.53 145.45)"/><ellipse cx="328.76" cy="139.07" rx="2.24" ry="1.51" fill="#fff" stroke="#1616ee" stroke-width="1.25" transform="rotate(-35.0 328.76 139.07)"/><ellipse cx="333.36" cy="142.43" rx="1.62" ry="2.30" fill="#fff" stroke="#d41818" stroke-width="1.25" transform="rotate(10.0 333.36 142.43)"/><ellipse cx="297.20" cy="170.10" rx="7.73" ry="8.18" fill="#d6dde9" stroke="none" stroke-width="0.00" transform="rotate(20.0 297.20 170.10)"/><ellipse cx="294.40" cy="168.53" rx="2.80" ry="4.70" fill="#fff" stroke="#dc8c1c" stroke-width="1.25" transform="rotate(35.0 294.40 168.53)"/><ellipse cx="300.34" cy="171.44" rx="1.74" ry="2.52" fill="#fff" stroke="#1616ee" stroke-width="1.25" transform="rotate(20.0 300.34 171.44)"/><ellipse cx="296.19" cy="174.92" rx="2.24" ry="1.57" fill="#fff" stroke="#d41818" stroke-width="1.25" transform="rotate(-10.0 296.19 174.92)"/><ellipse cx="331.20" cy="169.40" rx="7.84" ry="6.83" fill="#d6dde9" stroke="none" stroke-width="0.00"/><ellipse cx="327.84" cy="169.40" rx="3.14" ry="3.36" fill="#fff" stroke="#dc8c1c" stroke-width="1.25"/><ellipse cx="334.45" cy="167.38" rx="2.74" ry="1.46" fill="#fff" stroke="#1616ee" stroke-width="1.25" transform="rotate(10.0 334.45 167.38)"/><ellipse cx="334.45" cy="171.08" rx="1.90" ry="1.62" fill="#fff" stroke="#d41818" stroke-width="1.25"/><ellipse cx="312.50" cy="177.50" rx="6.94" ry="7.62" fill="#d6dde9" stroke="none" stroke-width="0.00"/><ellipse cx="314.74" cy="175.71" rx="3.14" ry="3.14" fill="#fff" stroke="#dc8c1c" stroke-width="1.25"/><ellipse cx="312.39" cy="181.64" rx="2.24" ry="1.46" fill="#fff" stroke="#1616ee" stroke-width="1.25" transform="rotate(-25.0 312.39 181.64)"/><ellipse cx="309.48" cy="179.52" rx="2.24" ry="1.57" fill="#fff" stroke="#d41818" stroke-width="1.25" transform="rotate(20.0 309.48 179.52)"/><ellipse cx="313.20" cy="156.00" rx="1.55" ry="2.30" fill="#fff" stroke="#1616ee" stroke-width="1.10" transform="rotate(15.0 313.20 156.00)"/><rect x="314.55" y="178.65" width="3.90" height="3.90" fill="#4a8a3a" transform="rotate(-35 316.50 180.60)"/><rect x="321.05" y="174.35" width="3.90" height="3.90" fill="#4a8a3a" transform="rotate(-35 323.00 176.30)"/><rect x="327.55" y="170.55" width="3.90" height="3.90" fill="#4a8a3a" transform="rotate(-35 329.50 172.50)"/><ellipse cx="314.90" cy="63.70" rx="7.73" ry="8.18" fill="#d6dde9" stroke="none" stroke-width="0.00" transform="rotate(20.0 314.90 63.70)"/><ellipse cx="312.10" cy="62.13" rx="2.80" ry="4.70" fill="#fff" stroke="#dc8c1c" stroke-width="1.25" transform="rotate(35.0 312.10 62.13)"/><ellipse cx="318.04" cy="65.04" rx="1.74" ry="2.52" fill="#fff" stroke="#1616ee" stroke-width="1.25" transform="rotate(20.0 318.04 65.04)"/><ellipse cx="313.89" cy="68.52" rx="2.24" ry="1.57" fill="#fff" stroke="#d41818" stroke-width="1.25" transform="rotate(-10.0 313.89 68.52)"/><ellipse cx="298.70" cy="82.00" rx="7.84" ry="6.83" fill="#d6dde9" stroke="none" stroke-width="0.00"/><ellipse cx="295.34" cy="82.00" rx="3.14" ry="3.36" fill="#fff" stroke="#dc8c1c" stroke-width="1.25"/><ellipse cx="301.95" cy="79.98" rx="2.74" ry="1.46" fill="#fff" stroke="#1616ee" stroke-width="1.25" transform="rotate(10.0 301.95 79.98)"/><ellipse cx="301.95" cy="83.68" rx="1.90" ry="1.62" fill="#fff" stroke="#d41818" stroke-width="1.25"/><ellipse cx="332.70" cy="79.10" rx="8.18" ry="7.62" fill="#d6dde9" stroke="none" stroke-width="0.00" transform="rotate(-20.0 332.70 79.10)"/><ellipse cx="331.13" cy="81.45" rx="4.70" ry="2.69" fill="#fff" stroke="#dc8c1c" stroke-width="1.25" transform="rotate(20.0 331.13 81.45)"/><ellipse cx="332.36" cy="75.07" rx="2.24" ry="1.51" fill="#fff" stroke="#1616ee" stroke-width="1.25" transform="rotate(-35.0 332.36 75.07)"/><ellipse cx="336.96" cy="78.43" rx="1.62" ry="2.30" fill="#fff" stroke="#d41818" stroke-width="1.25" transform="rotate(10.0 336.96 78.43)"/><ellipse cx="300.40" cy="105.00" rx="7.73" ry="8.18" fill="#d6dde9" stroke="none" stroke-width="0.00" transform="rotate(20.0 300.40 105.00)"/><ellipse cx="297.60" cy="103.43" rx="2.80" ry="4.70" fill="#fff" stroke="#dc8c1c" stroke-width="1.25" transform="rotate(35.0 297.60 103.43)"/><ellipse cx="303.54" cy="106.34" rx="1.74" ry="2.52" fill="#fff" stroke="#1616ee" stroke-width="1.25" transform="rotate(20.0 303.54 106.34)"/><ellipse cx="299.39" cy="109.82" rx="2.24" ry="1.57" fill="#fff" stroke="#d41818" stroke-width="1.25" transform="rotate(-10.0 299.39 109.82)"/><ellipse cx="334.30" cy="105.00" rx="7.84" ry="6.83" fill="#d6dde9" stroke="none" stroke-width="0.00"/><ellipse cx="330.94" cy="105.00" rx="3.14" ry="3.36" fill="#fff" stroke="#dc8c1c" stroke-width="1.25"/><ellipse cx="337.55" cy="102.98" rx="2.74" ry="1.46" fill="#fff" stroke="#1616ee" stroke-width="1.25" transform="rotate(10.0 337.55 102.98)"/><ellipse cx="337.55" cy="106.68" rx="1.90" ry="1.62" fill="#fff" stroke="#d41818" stroke-width="1.25"/><ellipse cx="317.30" cy="113.90" rx="6.94" ry="7.62" fill="#d6dde9" stroke="none" stroke-width="0.00"/><ellipse cx="319.54" cy="112.11" rx="3.14" ry="3.14" fill="#fff" stroke="#dc8c1c" stroke-width="1.25"/><ellipse cx="317.19" cy="118.04" rx="2.24" ry="1.46" fill="#fff" stroke="#1616ee" stroke-width="1.25" transform="rotate(-25.0 317.19 118.04)"/><ellipse cx="314.28" cy="115.92" rx="2.24" ry="1.57" fill="#fff" stroke="#d41818" stroke-width="1.25" transform="rotate(20.0 314.28 115.92)"/><ellipse cx="316.50" cy="92.40" rx="1.55" ry="2.30" fill="#fff" stroke="#1616ee" stroke-width="1.10" transform="rotate(15.0 316.50 92.40)"/><rect x="295.25" y="81.75" width="3.90" height="3.90" fill="#4a8a3a" transform="rotate(0 297.20 83.70)"/><rect x="296.05" y="89.85" width="3.90" height="3.90" fill="#4a8a3a" transform="rotate(0 298.00 91.80)"/><rect x="296.35" y="97.85" width="3.90" height="3.90" fill="#4a8a3a" transform="rotate(0 298.30 99.80)"/><rect x="301.25" y="104.55" width="3.90" height="3.90" fill="#4a8a3a" transform="rotate(45 303.20 106.50)"/><rect x="307.25" y="108.35" width="3.90" height="3.90" fill="#4a8a3a" transform="rotate(40 309.20 110.30)"/><rect x="315.95" y="114.85" width="3.90" height="3.90" fill="#4a8a3a" transform="rotate(30 317.90 116.80)"/><rect x="322.45" y="111.05" width="3.90" height="3.90" fill="#4a8a3a" transform="rotate(-40 324.40 113.00)"/><rect x="329.25" y="107.55" width="3.90" height="3.90" fill="#4a8a3a" transform="rotate(-40 331.20 109.50)"/><rect x="332.75" y="96.95" width="3.90" height="3.90" fill="#4a8a3a" transform="rotate(0 334.70 98.90)"/><rect x="332.15" y="89.15" width="3.90" height="3.90" fill="#4a8a3a" transform="rotate(0 334.10 91.10)"/><rect x="331.65" y="80.65" width="3.90" height="3.90" fill="#4a8a3a" transform="rotate(0 333.60 82.60)"/><ellipse cx="375.20" cy="61.20" rx="7.73" ry="8.18" fill="#d6dde9" stroke="none" stroke-width="0.00" transform="rotate(20.0 375.20 61.20)"/><ellipse cx="372.40" cy="59.63" rx="2.80" ry="4.70" fill="#fff" stroke="#dc8c1c" stroke-width="1.25" transform="rotate(35.0 372.40 59.63)"/><ellipse cx="378.34" cy="62.54" rx="1.74" ry="2.52" fill="#fff" stroke="#1616ee" stroke-width="1.25" transform="rotate(20.0 378.34 62.54)"/><ellipse cx="374.19" cy="66.02" rx="2.24" ry="1.57" fill="#fff" stroke="#d41818" stroke-width="1.25" transform="rotate(-10.0 374.19 66.02)"/><ellipse cx="360.10" cy="79.10" rx="7.84" ry="6.83" fill="#d6dde9" stroke="none" stroke-width="0.00"/><ellipse cx="356.74" cy="79.10" rx="3.14" ry="3.36" fill="#fff" stroke="#dc8c1c" stroke-width="1.25"/><ellipse cx="363.35" cy="77.08" rx="2.74" ry="1.46" fill="#fff" stroke="#1616ee" stroke-width="1.25" transform="rotate(10.0 363.35 77.08)"/><ellipse cx="363.35" cy="80.78" rx="1.90" ry="1.62" fill="#fff" stroke="#d41818" stroke-width="1.25"/><ellipse cx="394.10" cy="76.30" rx="8.18" ry="7.62" fill="#d6dde9" stroke="none" stroke-width="0.00" transform="rotate(-20.0 394.10 76.30)"/><ellipse cx="392.53" cy="78.65" rx="4.70" ry="2.69" fill="#fff" stroke="#dc8c1c" stroke-width="1.25" transform="rotate(20.0 392.53 78.65)"/><ellipse cx="393.76" cy="72.27" rx="2.24" ry="1.51" fill="#fff" stroke="#1616ee" stroke-width="1.25" transform="rotate(-35.0 393.76 72.27)"/><ellipse cx="398.36" cy="75.63" rx="1.62" ry="2.30" fill="#fff" stroke="#d41818" stroke-width="1.25" transform="rotate(10.0 398.36 75.63)"/><ellipse cx="361.00" cy="104.30" rx="7.73" ry="8.18" fill="#d6dde9" stroke="none" stroke-width="0.00" transform="rotate(20.0 361.00 104.30)"/><ellipse cx="358.20" cy="102.73" rx="2.80" ry="4.70" fill="#fff" stroke="#dc8c1c" stroke-width="1.25" transform="rotate(35.0 358.20 102.73)"/><ellipse cx="364.14" cy="105.64" rx="1.74" ry="2.52" fill="#fff" stroke="#1616ee" stroke-width="1.25" transform="rotate(20.0 364.14 105.64)"/><ellipse cx="359.99" cy="109.12" rx="2.24" ry="1.57" fill="#fff" stroke="#d41818" stroke-width="1.25" transform="rotate(-10.0 359.99 109.12)"/><ellipse cx="395.90" cy="103.40" rx="7.84" ry="6.83" fill="#d6dde9" stroke="none" stroke-width="0.00"/><ellipse cx="392.54" cy="103.40" rx="3.14" ry="3.36" fill="#fff" stroke="#dc8c1c" stroke-width="1.25"/><ellipse cx="399.15" cy="101.38" rx="2.74" ry="1.46" fill="#fff" stroke="#1616ee" stroke-width="1.25" transform="rotate(10.0 399.15 101.38)"/><ellipse cx="399.15" cy="105.08" rx="1.90" ry="1.62" fill="#fff" stroke="#d41818" stroke-width="1.25"/><ellipse cx="378.50" cy="111.40" rx="6.94" ry="7.62" fill="#d6dde9" stroke="none" stroke-width="0.00"/><ellipse cx="380.74" cy="109.61" rx="3.14" ry="3.14" fill="#fff" stroke="#dc8c1c" stroke-width="1.25"/><ellipse cx="378.39" cy="115.54" rx="2.24" ry="1.46" fill="#fff" stroke="#1616ee" stroke-width="1.25" transform="rotate(-25.0 378.39 115.54)"/><ellipse cx="375.48" cy="113.42" rx="2.24" ry="1.57" fill="#fff" stroke="#d41818" stroke-width="1.25" transform="rotate(20.0 375.48 113.42)"/><ellipse cx="378.00" cy="89.70" rx="1.55" ry="2.30" fill="#fff" stroke="#1616ee" stroke-width="1.10" transform="rotate(15.0 378.00 89.70)"/><rect x="370.45" y="63.55" width="3.90" height="3.90" fill="#4a8a3a" transform="rotate(40 372.40 65.50)"/><rect x="377.75" y="60.65" width="3.90" height="3.90" fill="#4a8a3a" transform="rotate(-40 379.70 62.60)"/><rect x="365.25" y="69.15" width="3.90" height="3.90" fill="#4a8a3a" transform="rotate(40 367.20 71.10)"/><rect x="382.45" y="66.95" width="3.90" height="3.90" fill="#4a8a3a" transform="rotate(-40 384.40 68.90)"/><rect x="360.55" y="75.25" width="3.90" height="3.90" fill="#4a8a3a" transform="rotate(40 362.50 77.20)"/><rect x="357.05" y="79.55" width="3.90" height="3.90" fill="#4a8a3a" transform="rotate(0 359.00 81.50)"/><rect x="387.55" y="73.25" width="3.90" height="3.90" fill="#4a8a3a" transform="rotate(-40 389.50 75.20)"/><rect x="393.55" y="78.55" width="3.90" height="3.90" fill="#4a8a3a" transform="rotate(0 395.50 80.50)"/><rect x="357.65" y="87.75" width="3.90" height="3.90" fill="#4a8a3a" transform="rotate(0 359.60 89.70)"/><rect x="358.15" y="95.75" width="3.90" height="3.90" fill="#4a8a3a" transform="rotate(0 360.10 97.70)"/><rect x="393.95" y="86.85" width="3.90" height="3.90" fill="#4a8a3a" transform="rotate(0 395.90 88.80)"/><rect x="394.45" y="94.85" width="3.90" height="3.90" fill="#4a8a3a" transform="rotate(0 396.40 96.80)"/><rect x="362.85" y="101.45" width="3.90" height="3.90" fill="#4a8a3a" transform="rotate(40 364.80 103.40)"/><rect x="368.95" y="106.15" width="3.90" height="3.90" fill="#4a8a3a" transform="rotate(40 370.90 108.10)"/><rect x="383.65" y="108.95" width="3.90" height="3.90" fill="#4a8a3a" transform="rotate(-40 385.60 110.90)"/><rect x="377.45" y="112.75" width="3.90" height="3.90" fill="#4a8a3a" transform="rotate(-40 379.40 114.70)"/><rect x="390.65" y="105.25" width="3.90" height="3.90" fill="#4a8a3a" transform="rotate(-40 392.60 107.20)"/><ellipse cx="374.70" cy="129.90" rx="7.73" ry="8.18" fill="#d6dde9" stroke="none" stroke-width="0.00" transform="rotate(20.0 374.70 129.90)"/><ellipse cx="371.90" cy="128.33" rx="2.80" ry="4.70" fill="#fff" stroke="#dc8c1c" stroke-width="1.25" transform="rotate(35.0 371.90 128.33)"/><ellipse cx="377.84" cy="131.24" rx="1.74" ry="2.52" fill="#fff" stroke="#1616ee" stroke-width="1.25" transform="rotate(20.0 377.84 131.24)"/><ellipse cx="373.69" cy="134.72" rx="2.24" ry="1.57" fill="#fff" stroke="#d41818" stroke-width="1.25" transform="rotate(-10.0 373.69 134.72)"/><ellipse cx="358.50" cy="148.20" rx="7.84" ry="6.83" fill="#d6dde9" stroke="none" stroke-width="0.00"/><ellipse cx="355.14" cy="148.20" rx="3.14" ry="3.36" fill="#fff" stroke="#dc8c1c" stroke-width="1.25"/><ellipse cx="361.75" cy="146.18" rx="2.74" ry="1.46" fill="#fff" stroke="#1616ee" stroke-width="1.25" transform="rotate(10.0 361.75 146.18)"/><ellipse cx="361.75" cy="149.88" rx="1.90" ry="1.62" fill="#fff" stroke="#d41818" stroke-width="1.25"/><ellipse cx="392.50" cy="145.30" rx="8.18" ry="7.62" fill="#d6dde9" stroke="none" stroke-width="0.00" transform="rotate(-20.0 392.50 145.30)"/><ellipse cx="390.93" cy="147.65" rx="4.70" ry="2.69" fill="#fff" stroke="#dc8c1c" stroke-width="1.25" transform="rotate(20.0 390.93 147.65)"/><ellipse cx="392.16" cy="141.27" rx="2.24" ry="1.51" fill="#fff" stroke="#1616ee" stroke-width="1.25" transform="rotate(-35.0 392.16 141.27)"/><ellipse cx="396.76" cy="144.63" rx="1.62" ry="2.30" fill="#fff" stroke="#d41818" stroke-width="1.25" transform="rotate(10.0 396.76 144.63)"/><ellipse cx="360.20" cy="171.20" rx="7.73" ry="8.18" fill="#d6dde9" stroke="none" stroke-width="0.00" transform="rotate(20.0 360.20 171.20)"/><ellipse cx="357.40" cy="169.63" rx="2.80" ry="4.70" fill="#fff" stroke="#dc8c1c" stroke-width="1.25" transform="rotate(35.0 357.40 169.63)"/><ellipse cx="363.34" cy="172.54" rx="1.74" ry="2.52" fill="#fff" stroke="#1616ee" stroke-width="1.25" transform="rotate(20.0 363.34 172.54)"/><ellipse cx="359.19" cy="176.02" rx="2.24" ry="1.57" fill="#fff" stroke="#d41818" stroke-width="1.25" transform="rotate(-10.0 359.19 176.02)"/><ellipse cx="394.10" cy="171.20" rx="7.84" ry="6.83" fill="#d6dde9" stroke="none" stroke-width="0.00"/><ellipse cx="390.74" cy="171.20" rx="3.14" ry="3.36" fill="#fff" stroke="#dc8c1c" stroke-width="1.25"/><ellipse cx="397.35" cy="169.18" rx="2.74" ry="1.46" fill="#fff" stroke="#1616ee" stroke-width="1.25" transform="rotate(10.0 397.35 169.18)"/><ellipse cx="397.35" cy="172.88" rx="1.90" ry="1.62" fill="#fff" stroke="#d41818" stroke-width="1.25"/><ellipse cx="377.10" cy="180.10" rx="6.94" ry="7.62" fill="#d6dde9" stroke="none" stroke-width="0.00"/><ellipse cx="379.34" cy="178.31" rx="3.14" ry="3.14" fill="#fff" stroke="#dc8c1c" stroke-width="1.25"/><ellipse cx="376.99" cy="184.24" rx="2.24" ry="1.46" fill="#fff" stroke="#1616ee" stroke-width="1.25" transform="rotate(-25.0 376.99 184.24)"/><ellipse cx="374.08" cy="182.12" rx="2.24" ry="1.57" fill="#fff" stroke="#d41818" stroke-width="1.25" transform="rotate(20.0 374.08 182.12)"/><ellipse cx="376.30" cy="158.60" rx="1.55" ry="2.30" fill="#fff" stroke="#1616ee" stroke-width="1.10" transform="rotate(15.0 376.30 158.60)"/><rect x="355.05" y="147.95" width="3.90" height="3.90" fill="#4a8a3a" transform="rotate(0 357.00 149.90)"/><rect x="355.85" y="156.05" width="3.90" height="3.90" fill="#4a8a3a" transform="rotate(0 357.80 158.00)"/><rect x="356.15" y="164.05" width="3.90" height="3.90" fill="#4a8a3a" transform="rotate(0 358.10 166.00)"/><rect x="361.05" y="170.75" width="3.90" height="3.90" fill="#4a8a3a" transform="rotate(45 363.00 172.70)"/><rect x="367.05" y="174.55" width="3.90" height="3.90" fill="#4a8a3a" transform="rotate(40 369.00 176.50)"/><rect x="375.75" y="181.05" width="3.90" height="3.90" fill="#4a8a3a" transform="rotate(30 377.70 183.00)"/><rect x="382.25" y="177.25" width="3.90" height="3.90" fill="#4a8a3a" transform="rotate(-40 384.20 179.20)"/><rect x="389.05" y="173.75" width="3.90" height="3.90" fill="#4a8a3a" transform="rotate(-40 391.00 175.70)"/><rect x="392.55" y="163.15" width="3.90" height="3.90" fill="#4a8a3a" transform="rotate(0 394.50 165.10)"/><rect x="391.95" y="155.35" width="3.90" height="3.90" fill="#4a8a3a" transform="rotate(0 393.90 157.30)"/><rect x="391.45" y="146.85" width="3.90" height="3.90" fill="#4a8a3a" transform="rotate(0 393.40 148.80)"/><circle cx="336.00" cy="204.45" r="2.09" fill="#f9cdb3"/><circle cx="335.95" cy="209.37" r="2.09" fill="#f9cdb3"/><circle cx="331.49" cy="206.67" r="2.09" fill="#f9cdb3"/><text font-size="7" fill="#333"><tspan x="340.1" y="208.5">collagen</tspan><tspan x="340.1" y="216.6">fibrils</tspan></text><ellipse cx="382.30" cy="206.50" rx="8.18" ry="7.62" fill="#d6dde9" stroke="none" stroke-width="0.00" transform="rotate(-20.0 382.30 206.50)"/><ellipse cx="380.73" cy="208.85" rx="4.70" ry="2.69" fill="#fff" stroke="#dc8c1c" stroke-width="1.25" transform="rotate(20.0 380.73 208.85)"/><ellipse cx="381.96" cy="202.47" rx="2.24" ry="1.51" fill="#fff" stroke="#1616ee" stroke-width="1.25" transform="rotate(-35.0 381.96 202.47)"/><ellipse cx="386.56" cy="205.83" rx="1.62" ry="2.30" fill="#fff" stroke="#d41818" stroke-width="1.25" transform="rotate(10.0 386.56 205.83)"/><text x="392" y="208.2" font-size="7" fill="#222">PT</text><ellipse cx="404.50" cy="206.50" rx="1.70" ry="2.40" fill="#fff" stroke="#1616ee" stroke-width="1.20"/><text x="408.8" y="208.2" font-size="7" fill="#222">CV</text></g>
<g id="panelB"><text transform="translate(438.6 12) scale(0.95 1)" font-size="17.5" fill="#111">(B)</text><text x="450.1" y="30.6" font-size="11.4" font-weight="bold" fill="#111">PHx + Gln</text><text x="599.2" y="29.8" font-size="11.4" font-weight="bold" fill="#0c0cf0">PHx – Gln</text><text x="449.9" y="45.9" font-size="11.3" fill="#111">DEN<tspan font-size="8.8" dy="3.4">CV</tspan><tspan dy="-3.4"> = 2; DEN</tspan><tspan font-size="8.8" dy="3.4">PT</tspan><tspan dy="-3.4"> = 5</tspan></text><text x="600.2" y="45.8" font-size="11.3" fill="#111">DEN<tspan font-size="8.8" dy="3.4">CV</tspan><tspan dy="-3.4"> = 2; DEN</tspan><tspan font-size="8.8" dy="3.4">PT</tspan><tspan dy="-3.4"> = 1</tspan></text><defs>
<filter id="spk1" x="0" y="0" width="100%" height="100%" color-interpolation-filters="sRGB">
 <feTurbulence type="fractalNoise" baseFrequency="0.5" numOctaves="1" seed="7" result="n"/>
 <feColorMatrix in="n" type="matrix" values="0 0 0 0 0.06  0 0 0 0 0  0 0 0 0 0  9 0 0 0 -4.75"/>
 <feGaussianBlur stdDeviation="0.4"/>
</filter>
<filter id="spk2" x="0" y="0" width="100%" height="100%" color-interpolation-filters="sRGB">
 <feTurbulence type="fractalNoise" baseFrequency="0.3" numOctaves="2" seed="13" result="n"/>
 <feColorMatrix in="n" type="matrix" values="0 0 0 0 0.52  0 0 0 0 0.03  0 0 0 0 0.03  0 3.5 0 0 -1.55"/>
 <feGaussianBlur stdDeviation="0.6"/>
</filter>
<filter id="spk3" x="0" y="0" width="100%" height="100%" color-interpolation-filters="sRGB">
 <feTurbulence type="fractalNoise" baseFrequency="0.3" numOctaves="2" seed="21" result="n"/>
 <feColorMatrix in="n" type="matrix" values="0 0 0 0 0.1  0 0 0 0 0  0 0 0 0 0  4 0 0 0 -2.15"/>
 <feGaussianBlur stdDeviation="0.6"/>
</filter>
<filter id="blur06"><feGaussianBlur stdDeviation="0.6"/></filter>
<filter id="blur04"><feGaussianBlur stdDeviation="0.4"/></filter>
<filter id="blur03"><feGaussianBlur stdDeviation="0.3"/></filter>
<clipPath id="clipL"><rect x="446.2" y="53.2" width="142.6" height="142.6"/></clipPath>
<clipPath id="clipR"><rect x="596" y="53.4" width="142" height="142.3"/></clipPath>
</defs><g clip-path="url(#clipL)"><rect x="446.2" y="53.2" width="142.6" height="142.6" fill="#5c0504"/><rect x="446.2" y="53.2" width="142.6" height="142.6" filter="url(#spk2)" opacity="0.75"/><g fill="#100000" filter="url(#blur03)"><circle cx="537.4" cy="56.8" r="0.57" opacity="0.64"/><circle cx="551.2" cy="149.7" r="0.94" opacity="0.58"/><circle cx="506.4" cy="57.4" r="0.53" opacity="0.75"/><circle cx="450.0" cy="81.6" r="0.79" opacity="0.77"/><circle cx="477.6" cy="137.2" r="0.89" opacity="0.55"/><circle cx="561.1" cy="152.8" r="0.60" opacity="0.61"/><circle cx="582.7" cy="101.2" r="0.46" opacity="0.59"/><circle cx="567.1" cy="139.3" r="0.88" opacity="0.84"/><circle cx="522.7" cy="192.0" r="0.63" opacity="0.77"/><circle cx="564.5" cy="141.4" r="0.92" opacity="0.78"/><circle cx="546.7" cy="59.7" r="0.54" opacity="0.67"/><circle cx="457.6" cy="86.4" r="0.46" opacity="0.66"/><circle cx="536.8" cy="105.2" r="0.62" opacity="0.63"/><circle cx="484.3" cy="186.8" r="0.79" opacity="0.79"/><circle cx="470.6" cy="157.2" r="0.50" opacity="0.70"/><circle cx="587.3" cy="144.5" r="0.73" opacity="0.82"/><circle cx="566.4" cy="163.9" r="0.54" opacity="0.56"/><circle cx="491.2" cy="91.4" r="0.53" opacity="0.93"/><circle cx="571.2" cy="98.1" r="0.79" opacity="0.71"/><circle cx="576.6" cy="118.6" r="0.56" opacity="0.65"/><circle cx="526.3" cy="90.7" r="0.75" opacity="0.91"/><circle cx="503.2" cy="84.5" r="1.00" opacity="0.75"/><circle cx="459.2" cy="59.9" r="0.47" opacity="0.80"/><circle cx="559.2" cy="113.4" r="0.44" opacity="0.70"/><circle cx="588.2" cy="128.7" r="0.98" opacity="0.89"/><circle cx="447.8" cy="156.0" r="0.81" opacity="0.76"/><circle cx="484.2" cy="144.6" r="0.47" opacity="0.72"/><circle cx="510.9" cy="189.2" r="0.93" opacity="0.66"/><circle cx="517.6" cy="78.7" r="0.95" opacity="0.90"/><circle cx="488.8" cy="144.3" r="0.77" opacity="0.61"/><circle cx="554.9" cy="130.1" r="0.87" opacity="0.76"/><circle cx="446.3" cy="99.4" r="0.41" opacity="0.92"/><circle cx="571.5" cy="171.8" r="0.58" opacity="0.57"/><circle cx="571.4" cy="188.2" r="0.45" opacity="0.74"/><circle cx="456.1" cy="161.7" r="0.86" opacity="0.60"/><circle cx="514.0" cy="131.6" r="0.56" opacity="0.90"/><circle cx="506.5" cy="83.4" r="0.72" opacity="0.84"/><circle cx="474.9" cy="97.7" r="1.00" opacity="0.81"/><circle cx="508.7" cy="127.0" r="0.47" opacity="0.64"/><circle cx="494.4" cy="137.1" r="0.54" opacity="0.64"/><circle cx="456.3" cy="143.2" r="0.54" opacity="0.91"/><circle cx="568.8" cy="63.3" r="0.54" opacity="0.82"/><circle cx="476.8" cy="72.1" r="0.96" opacity="0.78"/><circle cx="513.6" cy="165.1" r="0.88" opacity="0.63"/><circle cx="460.0" cy="114.7" r="0.65" opacity="0.74"/><circle cx="550.2" cy="149.2" r="0.99" opacity="0.59"/><circle cx="503.6" cy="101.6" r="0.92" opacity="0.65"/><circle cx="473.3" cy="117.2" r="0.65" opacity="0.66"/><circle cx="481.8" cy="184.9" r="0.67" opacity="0.89"/><circle cx="524.7" cy="60.4" r="1.00" opacity="0.88"/><circle cx="584.4" cy="185.3" r="0.91" opacity="0.62"/><circle cx="515.5" cy="83.7" r="0.64" opacity="0.57"/><circle cx="500.2" cy="193.7" r="0.56" opacity="0.86"/><circle cx="511.1" cy="113.5" r="0.97" opacity="0.95"/><circle cx="525.5" cy="155.6" r="0.49" opacity="0.67"/><circle cx="584.3" cy="135.8" r="0.73" opacity="0.85"/><circle cx="454.4" cy="136.5" r="0.70" opacity="0.89"/><circle cx="468.6" cy="190.2" r="0.45" opacity="0.62"/><circle cx="531.1" cy="149.5" r="0.54" opacity="0.60"/><circle cx="573.2" cy="88.3" r="0.76" opacity="0.80"/><circle cx="506.0" cy="136.4" r="0.71" opacity="0.92"/><circle cx="475.3" cy="155.3" r="0.54" opacity="0.71"/><circle cx="542.0" cy="96.0" r="0.59" opacity="0.85"/><circle cx="456.5" cy="118.6" r="1.00" opacity="0.95"/><circle cx="456.6" cy="83.6" r="0.56" opacity="0.92"/><circle cx="571.8" cy="178.6" r="0.62" opacity="0.61"/><circle cx="565.1" cy="153.5" r="0.77" opacity="0.94"/><circle cx="539.5" cy="54.3" r="0.89" opacity="0.67"/><circle cx="540.8" cy="187.1" r="0.48" opacity="0.60"/><circle cx="461.5" cy="132.1" r="0.56" opacity="0.79"/><circle cx="548.5" cy="82.2" r="0.78" opacity="0.66"/><circle cx="515.9" cy="182.3" r="0.91" opacity="0.59"/><circle cx="506.6" cy="92.7" r="0.40" opacity="0.86"/><circle cx="537.1" cy="90.6" r="0.84" opacity="0.77"/><circle cx="507.2" cy="54.6" r="0.45" opacity="0.90"/><circle cx="575.1" cy="131.0" r="0.90" opacity="0.78"/><circle cx="467.3" cy="71.4" r="0.58" opacity="0.91"/><circle cx="559.7" cy="175.9" r="0.94" opacity="0.63"/><circle cx="481.8" cy="67.9" r="0.87" opacity="0.90"/><circle cx="504.1" cy="141.7" r="0.49" opacity="0.92"/><circle cx="569.5" cy="192.4" r="0.89" opacity="0.90"/><circle cx="449.7" cy="158.2" r="0.60" opacity="0.92"/><circle cx="560.6" cy="176.4" r="0.89" opacity="0.66"/><circle cx="558.5" cy="68.6" r="0.92" opacity="0.89"/><circle cx="477.9" cy="169.6" r="0.68" opacity="0.67"/><circle cx="559.6" cy="85.7" r="0.41" opacity="0.63"/><circle cx="493.0" cy="176.5" r="0.98" opacity="0.66"/><circle cx="537.7" cy="110.2" r="0.99" opacity="0.76"/><circle cx="580.1" cy="69.6" r="0.98" opacity="0.62"/><circle cx="583.5" cy="91.1" r="0.47" opacity="0.72"/><circle cx="550.1" cy="97.9" r="0.76" opacity="0.75"/><circle cx="501.1" cy="135.4" r="0.55" opacity="0.83"/><circle cx="446.4" cy="185.2" r="0.72" opacity="0.84"/><circle cx="552.0" cy="148.8" r="0.62" opacity="0.58"/><circle cx="540.9" cy="100.3" r="0.59" opacity="0.89"/><circle cx="548.8" cy="96.0" r="0.59" opacity="0.71"/><circle cx="503.6" cy="95.4" r="0.48" opacity="0.72"/><circle cx="580.3" cy="149.8" r="0.94" opacity="0.80"/><circle cx="489.1" cy="131.3" r="0.40" opacity="0.66"/><circle cx="507.5" cy="135.9" r="0.79" opacity="0.74"/><circle cx="509.3" cy="83.7" r="0.68" opacity="0.91"/><circle cx="559.7" cy="77.4" r="0.45" opacity="0.76"/><circle cx="536.5" cy="101.0" r="0.89" opacity="0.85"/><circle cx="542.1" cy="85.2" r="0.52" opacity="0.56"/><circle cx="481.1" cy="121.0" r="0.91" opacity="0.58"/><circle cx="505.3" cy="143.0" r="0.52" opacity="0.83"/><circle cx="516.7" cy="88.0" r="0.79" opacity="0.55"/><circle cx="553.3" cy="163.0" r="0.46" opacity="0.72"/><circle cx="471.3" cy="189.8" r="0.71" opacity="0.57"/><circle cx="481.7" cy="174.2" r="0.67" opacity="0.87"/><circle cx="541.4" cy="194.1" r="0.76" opacity="0.93"/><circle cx="573.3" cy="140.6" r="0.83" opacity="0.75"/><circle cx="564.6" cy="131.3" r="0.94" opacity="0.85"/><circle cx="513.9" cy="90.2" r="0.55" opacity="0.81"/><circle cx="555.4" cy="127.5" r="0.78" opacity="0.66"/><circle cx="457.2" cy="93.9" r="0.56" opacity="0.68"/><circle cx="523.2" cy="72.9" r="0.54" opacity="0.83"/><circle cx="546.9" cy="62.4" r="0.64" opacity="0.77"/><circle cx="505.5" cy="82.7" r="0.65" opacity="0.91"/><circle cx="529.5" cy="152.4" r="0.91" opacity="0.86"/><circle cx="500.4" cy="54.0" r="0.61" opacity="0.85"/><circle cx="567.9" cy="189.2" r="0.65" opacity="0.85"/><circle cx="524.1" cy="139.2" r="0.53" opacity="0.64"/><circle cx="508.4" cy="57.3" r="0.60" opacity="0.82"/><circle cx="503.9" cy="76.7" r="0.68" opacity="0.60"/><circle cx="534.9" cy="57.0" r="0.64" opacity="0.78"/><circle cx="450.1" cy="144.9" r="0.48" opacity="0.73"/><circle cx="453.4" cy="107.3" r="0.53" opacity="0.68"/><circle cx="554.8" cy="107.3" r="0.85" opacity="0.88"/><circle cx="482.2" cy="64.9" r="0.41" opacity="0.77"/><circle cx="588.8" cy="103.1" r="0.79" opacity="0.86"/><circle cx="539.1" cy="160.8" r="0.97" opacity="0.63"/><circle cx="449.1" cy="74.9" r="0.48" opacity="0.82"/><circle cx="526.6" cy="84.3" r="0.82" opacity="0.86"/><circle cx="470.1" cy="139.8" r="0.85" opacity="0.60"/><circle cx="563.0" cy="190.8" r="0.46" opacity="0.56"/><circle cx="490.7" cy="149.8" r="0.97" opacity="0.71"/><circle cx="548.2" cy="64.0" r="0.81" opacity="0.80"/><circle cx="460.7" cy="163.4" r="0.91" opacity="0.79"/><circle cx="463.5" cy="193.5" r="0.87" opacity="0.69"/><circle cx="507.3" cy="106.0" r="0.70" opacity="0.69"/><circle cx="567.3" cy="170.5" r="0.46" opacity="0.93"/><circle cx="536.8" cy="171.4" r="0.82" opacity="0.72"/><circle cx="550.8" cy="190.9" r="0.56" opacity="0.87"/><circle cx="522.9" cy="122.1" r="0.66" opacity="0.84"/><circle cx="484.5" cy="174.7" r="0.90" opacity="0.58"/><circle cx="571.9" cy="88.0" r="0.68" opacity="0.79"/><circle cx="500.2" cy="57.3" r="0.91" opacity="0.62"/><circle cx="476.4" cy="167.0" r="0.60" opacity="0.90"/><circle cx="546.2" cy="92.6" r="0.41" opacity="0.93"/><circle cx="458.4" cy="155.9" r="0.69" opacity="0.85"/><circle cx="544.7" cy="145.3" r="0.69" opacity="0.87"/><circle cx="459.5" cy="84.8" r="0.82" opacity="0.67"/><circle cx="529.1" cy="120.7" r="0.72" opacity="0.72"/><circle cx="552.6" cy="100.4" r="0.82" opacity="0.66"/><circle cx="482.1" cy="70.4" r="0.52" opacity="0.60"/><circle cx="522.6" cy="161.9" r="0.51" opacity="0.64"/><circle cx="515.2" cy="156.5" r="0.99" opacity="0.76"/><circle cx="486.6" cy="67.5" r="0.52" opacity="0.64"/><circle cx="471.8" cy="55.2" r="0.72" opacity="0.66"/><circle cx="585.1" cy="132.1" r="0.82" opacity="0.60"/><circle cx="570.0" cy="123.2" r="0.92" opacity="0.78"/><circle cx="513.1" cy="116.0" r="0.51" opacity="0.57"/><circle cx="580.4" cy="121.3" r="0.89" opacity="0.71"/><circle cx="456.8" cy="143.0" r="0.43" opacity="0.61"/><circle cx="526.5" cy="96.5" r="1.00" opacity="0.60"/><circle cx="555.2" cy="139.7" r="0.87" opacity="0.64"/><circle cx="520.7" cy="117.4" r="0.67" opacity="0.89"/><circle cx="587.4" cy="96.7" r="0.77" opacity="0.79"/><circle cx="551.7" cy="188.3" r="0.52" opacity="0.63"/><circle cx="540.4" cy="75.6" r="0.50" opacity="0.58"/><circle cx="446.6" cy="117.4" r="0.76" opacity="0.67"/><circle cx="479.2" cy="154.0" r="0.82" opacity="0.73"/><circle cx="544.2" cy="184.9" r="0.87" opacity="0.80"/><circle cx="540.5" cy="186.3" r="0.66" opacity="0.77"/><circle cx="538.6" cy="182.7" r="0.90" opacity="0.58"/><circle cx="469.9" cy="97.1" r="0.85" opacity="0.78"/><circle cx="487.4" cy="70.9" r="0.81" opacity="0.83"/><circle cx="580.6" cy="124.6" r="0.70" opacity="0.58"/><circle cx="451.9" cy="114.8" r="0.59" opacity="0.65"/><circle cx="459.2" cy="190.4" r="0.90" opacity="0.78"/><circle cx="581.8" cy="195.7" r="0.80" opacity="0.66"/><circle cx="451.9" cy="161.0" r="0.68" opacity="0.81"/><circle cx="576.8" cy="79.1" r="0.75" opacity="0.80"/><circle cx="516.3" cy="66.2" r="0.61" opacity="0.68"/><circle cx="541.8" cy="175.5" r="0.60" opacity="0.83"/><circle cx="487.3" cy="188.0" r="0.89" opacity="0.77"/><circle cx="511.1" cy="98.1" r="0.59" opacity="0.94"/><circle cx="503.8" cy="126.6" r="0.99" opacity="0.81"/><circle cx="523.6" cy="112.1" r="0.51" opacity="0.69"/><circle cx="554.1" cy="142.4" r="0.86" opacity="0.63"/><circle cx="524.5" cy="185.5" r="0.66" opacity="0.83"/><circle cx="463.5" cy="192.0" r="0.77" opacity="0.65"/><circle cx="468.8" cy="131.7" r="0.73" opacity="0.59"/><circle cx="587.7" cy="183.4" r="0.68" opacity="0.60"/><circle cx="564.9" cy="124.3" r="0.83" opacity="0.75"/><circle cx="485.2" cy="172.2" r="0.99" opacity="0.65"/><circle cx="524.8" cy="107.9" r="0.95" opacity="0.75"/><circle cx="571.6" cy="176.4" r="0.57" opacity="0.87"/><circle cx="505.4" cy="186.4" r="0.70" opacity="0.88"/><circle cx="486.5" cy="95.8" r="0.75" opacity="0.95"/><circle cx="516.0" cy="74.4" r="0.72" opacity="0.69"/><circle cx="524.9" cy="130.7" r="0.67" opacity="0.68"/><circle cx="473.1" cy="152.7" r="0.74" opacity="0.64"/><circle cx="556.8" cy="59.4" r="0.85" opacity="0.83"/><circle cx="561.9" cy="108.3" r="0.80" opacity="0.88"/><circle cx="586.1" cy="123.8" r="0.42" opacity="0.75"/><circle cx="530.4" cy="177.2" r="0.92" opacity="0.73"/><circle cx="521.2" cy="118.4" r="0.83" opacity="0.71"/><circle cx="539.6" cy="75.2" r="0.68" opacity="0.94"/><circle cx="494.5" cy="152.0" r="0.79" opacity="0.89"/><circle cx="567.7" cy="175.7" r="0.63" opacity="0.68"/><circle cx="548.7" cy="161.5" r="0.92" opacity="0.56"/><circle cx="456.0" cy="143.2" r="0.95" opacity="0.95"/><circle cx="552.7" cy="115.1" r="0.46" opacity="0.80"/><circle cx="570.6" cy="116.5" r="0.82" opacity="0.91"/><circle cx="452.8" cy="166.7" r="0.58" opacity="0.70"/><circle cx="467.0" cy="128.9" r="0.74" opacity="0.87"/><circle cx="470.4" cy="64.5" r="0.92" opacity="0.80"/><circle cx="480.5" cy="183.4" r="0.49" opacity="0.73"/><circle cx="482.4" cy="89.6" r="0.41" opacity="0.87"/><circle cx="574.7" cy="149.8" r="0.49" opacity="0.73"/><circle cx="495.5" cy="137.0" r="0.78" opacity="0.72"/><circle cx="481.9" cy="173.7" r="0.52" opacity="0.70"/><circle cx="515.1" cy="87.0" r="0.74" opacity="0.78"/><circle cx="587.8" cy="95.3" r="0.99" opacity="0.81"/><circle cx="485.3" cy="133.9" r="0.81" opacity="0.85"/><circle cx="453.2" cy="139.7" r="0.70" opacity="0.91"/><circle cx="487.0" cy="167.1" r="0.76" opacity="0.69"/><circle cx="537.0" cy="141.7" r="0.81" opacity="0.84"/><circle cx="540.2" cy="172.7" r="0.78" opacity="0.91"/><circle cx="538.4" cy="97.3" r="0.66" opacity="0.78"/><circle cx="550.6" cy="66.1" r="0.58" opacity="0.85"/><circle cx="471.2" cy="72.0" r="0.72" opacity="0.94"/><circle cx="521.9" cy="183.5" r="0.90" opacity="0.65"/><circle cx="563.8" cy="121.9" r="0.88" opacity="0.85"/><circle cx="494.5" cy="69.6" r="0.98" opacity="0.61"/><circle cx="584.0" cy="175.9" r="0.83" opacity="0.94"/><circle cx="584.1" cy="167.9" r="0.62" opacity="0.87"/><circle cx="448.2" cy="129.7" r="0.67" opacity="0.82"/><circle cx="542.1" cy="136.6" r="0.89" opacity="0.93"/><circle cx="461.7" cy="86.5" r="0.42" opacity="0.90"/><circle cx="526.3" cy="183.7" r="0.53" opacity="0.58"/><circle cx="563.7" cy="182.9" r="0.58" opacity="0.71"/><circle cx="466.1" cy="188.1" r="0.58" opacity="0.75"/><circle cx="460.1" cy="179.7" r="0.48" opacity="0.73"/><circle cx="541.8" cy="159.2" r="0.97" opacity="0.72"/><circle cx="552.0" cy="75.2" r="0.65" opacity="0.59"/><circle cx="516.0" cy="111.4" r="0.97" opacity="0.56"/><circle cx="499.0" cy="116.4" r="0.97" opacity="0.89"/><circle cx="460.4" cy="151.0" r="0.73" opacity="0.94"/><circle cx="497.3" cy="110.0" r="0.51" opacity="0.60"/><circle cx="567.1" cy="118.0" r="0.80" opacity="0.81"/><circle cx="531.4" cy="56.2" r="0.87" opacity="0.65"/><circle cx="464.2" cy="133.7" r="0.44" opacity="0.86"/><circle cx="475.7" cy="84.0" r="0.92" opacity="0.68"/><circle cx="467.2" cy="181.6" r="0.40" opacity="0.89"/><circle cx="466.8" cy="71.7" r="0.55" opacity="0.62"/><circle cx="540.5" cy="56.9" r="0.41" opacity="0.87"/><circle cx="480.1" cy="99.4" r="0.50" opacity="0.57"/><circle cx="552.0" cy="128.2" r="0.85" opacity="0.74"/><circle cx="557.1" cy="126.4" r="0.47" opacity="0.75"/><circle cx="581.0" cy="59.4" r="0.87" opacity="0.90"/><circle cx="520.6" cy="118.5" r="0.98" opacity="0.57"/><circle cx="514.5" cy="110.5" r="0.81" opacity="0.75"/><circle cx="575.9" cy="63.7" r="0.45" opacity="0.79"/><circle cx="455.6" cy="92.4" r="0.78" opacity="0.77"/><circle cx="492.6" cy="195.0" r="0.72" opacity="0.73"/><circle cx="532.5" cy="67.3" r="0.82" opacity="0.89"/><circle cx="539.0" cy="162.9" r="0.83" opacity="0.64"/><circle cx="510.6" cy="85.8" r="0.60" opacity="0.73"/><circle cx="505.5" cy="66.8" r="0.66" opacity="0.82"/><circle cx="499.6" cy="75.0" r="0.95" opacity="0.58"/><circle cx="564.8" cy="66.5" r="0.46" opacity="0.85"/><circle cx="562.0" cy="132.5" r="0.75" opacity="0.77"/><circle cx="493.2" cy="70.6" r="0.61" opacity="0.82"/><circle cx="553.2" cy="177.0" r="0.83" opacity="0.94"/><circle cx="531.8" cy="103.3" r="0.75" opacity="0.64"/><circle cx="539.9" cy="85.2" r="0.46" opacity="0.89"/><circle cx="498.6" cy="161.9" r="0.74" opacity="0.87"/><circle cx="566.7" cy="192.2" r="0.89" opacity="0.80"/><circle cx="537.8" cy="56.9" r="0.96" opacity="0.88"/><circle cx="484.3" cy="78.9" r="0.82" opacity="0.67"/><circle cx="494.7" cy="54.1" r="0.92" opacity="0.78"/><circle cx="503.4" cy="73.4" r="0.78" opacity="0.56"/><circle cx="552.6" cy="83.9" r="0.65" opacity="0.69"/><circle cx="499.0" cy="156.1" r="0.87" opacity="0.78"/><circle cx="458.3" cy="60.7" r="0.49" opacity="0.80"/><circle cx="542.3" cy="92.0" r="0.80" opacity="0.74"/><circle cx="509.2" cy="92.2" r="0.85" opacity="0.60"/><circle cx="507.5" cy="93.6" r="0.81" opacity="0.74"/><circle cx="541.3" cy="59.7" r="0.64" opacity="0.79"/><circle cx="447.3" cy="96.2" r="0.53" opacity="0.60"/><circle cx="482.6" cy="100.0" r="0.40" opacity="0.85"/><circle cx="471.3" cy="107.4" r="0.82" opacity="0.75"/><circle cx="565.0" cy="168.2" r="0.44" opacity="0.89"/><circle cx="452.2" cy="55.9" r="0.95" opacity="0.89"/><circle cx="528.3" cy="135.0" r="0.83" opacity="0.72"/><circle cx="462.6" cy="56.2" r="0.59" opacity="0.87"/><circle cx="534.3" cy="171.8" r="0.95" opacity="0.59"/><circle cx="566.6" cy="87.9" r="0.75" opacity="0.76"/><circle cx="502.6" cy="97.4" r="0.60" opacity="0.68"/><circle cx="470.2" cy="126.0" r="0.47" opacity="0.75"/><circle cx="575.4" cy="103.0" r="0.84" opacity="0.88"/><circle cx="562.4" cy="86.9" r="0.49" opacity="0.63"/><circle cx="532.1" cy="161.6" r="0.79" opacity="0.62"/><circle cx="556.4" cy="123.7" r="0.85" opacity="0.85"/><circle cx="510.2" cy="185.0" r="0.74" opacity="0.80"/><circle cx="535.3" cy="176.4" r="0.78" opacity="0.61"/><circle cx="455.9" cy="116.3" r="0.58" opacity="0.66"/><circle cx="454.2" cy="125.5" r="0.59" opacity="0.73"/><circle cx="454.3" cy="171.8" r="0.45" opacity="0.90"/><circle cx="568.2" cy="140.9" r="0.70" opacity="0.74"/><circle cx="525.2" cy="166.1" r="0.94" opacity="0.73"/><circle cx="561.7" cy="146.2" r="0.59" opacity="0.74"/><circle cx="467.7" cy="62.0" r="0.46" opacity="0.91"/><circle cx="495.2" cy="155.1" r="0.70" opacity="0.62"/><circle cx="481.5" cy="115.6" r="0.66" opacity="0.76"/><circle cx="468.8" cy="106.4" r="0.57" opacity="0.71"/><circle cx="494.5" cy="138.5" r="0.87" opacity="0.81"/><circle cx="455.6" cy="66.7" r="0.81" opacity="0.66"/><circle cx="549.4" cy="146.8" r="0.94" opacity="0.90"/><circle cx="493.7" cy="136.3" r="0.48" opacity="0.69"/><circle cx="584.2" cy="152.8" r="0.64" opacity="0.79"/><circle cx="580.0" cy="97.3" r="0.63" opacity="0.87"/><circle cx="562.2" cy="148.8" r="0.90" opacity="0.85"/><circle cx="543.9" cy="128.3" r="0.79" opacity="0.72"/><circle cx="497.8" cy="104.9" r="0.51" opacity="0.64"/><circle cx="581.3" cy="122.5" r="0.54" opacity="0.61"/><circle cx="457.2" cy="173.6" r="0.46" opacity="0.86"/><circle cx="565.3" cy="179.2" r="0.42" opacity="0.68"/><circle cx="555.5" cy="71.9" r="0.63" opacity="0.61"/><circle cx="564.7" cy="163.2" r="0.89" opacity="0.62"/><circle cx="508.6" cy="111.8" r="0.81" opacity="0.65"/><circle cx="509.5" cy="93.8" r="0.85" opacity="0.73"/><circle cx="522.3" cy="97.3" r="0.89" opacity="0.74"/><circle cx="565.3" cy="105.7" r="0.97" opacity="0.94"/><circle cx="512.0" cy="93.4" r="0.63" opacity="0.76"/><circle cx="584.0" cy="169.7" r="0.88" opacity="0.61"/><circle cx="481.9" cy="144.6" r="0.92" opacity="0.77"/><circle cx="460.8" cy="173.8" r="0.91" opacity="0.66"/><circle cx="555.0" cy="92.1" r="0.94" opacity="0.61"/><circle cx="508.6" cy="188.2" r="0.53" opacity="0.73"/><circle cx="496.1" cy="57.0" r="0.43" opacity="0.75"/><circle cx="479.8" cy="195.0" r="0.62" opacity="0.56"/><circle cx="578.9" cy="172.9" r="0.79" opacity="0.87"/><circle cx="465.8" cy="94.1" r="0.90" opacity="0.83"/><circle cx="466.0" cy="153.8" r="0.67" opacity="0.55"/><circle cx="457.5" cy="89.7" r="0.90" opacity="0.77"/><circle cx="549.9" cy="128.5" r="0.47" opacity="0.67"/><circle cx="489.1" cy="60.0" r="0.65" opacity="0.87"/><circle cx="511.4" cy="69.0" r="0.94" opacity="0.79"/><circle cx="448.5" cy="126.7" r="0.55" opacity="0.61"/><circle cx="507.4" cy="140.9" r="0.54" opacity="0.72"/><circle cx="540.9" cy="65.4" r="0.98" opacity="0.58"/><circle cx="521.2" cy="125.5" r="0.99" opacity="0.77"/><circle cx="501.9" cy="120.2" r="0.78" opacity="0.94"/><circle cx="482.4" cy="55.5" r="0.87" opacity="0.69"/><circle cx="550.7" cy="142.8" r="0.86" opacity="0.84"/><circle cx="493.6" cy="59.5" r="0.73" opacity="0.88"/><circle cx="471.2" cy="164.3" r="0.68" opacity="0.83"/><circle cx="536.3" cy="168.9" r="0.44" opacity="0.86"/><circle cx="511.5" cy="95.0" r="0.43" opacity="0.63"/><circle cx="452.2" cy="186.3" r="0.71" opacity="0.95"/><circle cx="523.6" cy="89.3" r="0.85" opacity="0.63"/><circle cx="497.1" cy="164.5" r="0.92" opacity="0.68"/><circle cx="464.0" cy="105.7" r="0.93" opacity="0.85"/><circle cx="573.8" cy="108.3" r="0.98" opacity="0.75"/><circle cx="517.1" cy="185.0" r="0.71" opacity="0.87"/><circle cx="549.9" cy="64.5" r="0.76" opacity="0.88"/><circle cx="524.0" cy="99.0" r="0.45" opacity="0.81"/><circle cx="489.9" cy="139.1" r="0.66" opacity="0.83"/><circle cx="496.3" cy="59.2" r="0.92" opacity="0.69"/><circle cx="588.5" cy="92.4" r="0.99" opacity="0.93"/><circle cx="456.9" cy="144.1" r="0.62" opacity="0.87"/><circle cx="543.1" cy="189.1" r="0.49" opacity="0.79"/><circle cx="557.6" cy="58.2" r="0.44" opacity="0.86"/><circle cx="498.4" cy="107.8" r="0.74" opacity="0.79"/><circle cx="543.0" cy="188.5" r="0.62" opacity="0.86"/><circle cx="528.0" cy="128.7" r="0.64" opacity="0.81"/><circle cx="481.8" cy="69.4" r="0.84" opacity="0.75"/><circle cx="501.4" cy="133.3" r="0.56" opacity="0.65"/><circle cx="509.8" cy="195.3" r="0.57" opacity="0.92"/><circle cx="516.2" cy="70.7" r="0.91" opacity="0.73"/><circle cx="574.4" cy="116.7" r="0.45" opacity="0.82"/><circle cx="566.8" cy="98.8" r="0.61" opacity="0.58"/><circle cx="523.5" cy="180.3" r="0.91" opacity="0.83"/><circle cx="578.4" cy="144.1" r="0.88" opacity="0.75"/><circle cx="463.5" cy="81.9" r="0.48" opacity="0.87"/><circle cx="449.9" cy="132.2" r="0.62" opacity="0.87"/><circle cx="524.9" cy="140.5" r="0.45" opacity="0.67"/><circle cx="588.7" cy="155.7" r="0.72" opacity="0.86"/><circle cx="563.6" cy="63.7" r="0.98" opacity="0.81"/><circle cx="510.4" cy="150.2" r="0.61" opacity="0.90"/><circle cx="557.5" cy="144.4" r="0.51" opacity="0.94"/><circle cx="507.9" cy="183.1" r="0.43" opacity="0.60"/><circle cx="468.0" cy="76.7" r="0.59" opacity="0.83"/><circle cx="495.5" cy="187.4" r="0.94" opacity="0.89"/><circle cx="481.9" cy="143.8" r="0.73" opacity="0.60"/><circle cx="489.4" cy="129.3" r="0.70" opacity="0.62"/><circle cx="580.5" cy="75.2" r="0.80" opacity="0.84"/><circle cx="532.5" cy="173.3" r="0.74" opacity="0.88"/><circle cx="450.2" cy="59.7" r="0.78" opacity="0.78"/><circle cx="539.1" cy="162.6" r="0.65" opacity="0.81"/><circle cx="517.2" cy="142.6" r="0.57" opacity="0.93"/><circle cx="515.1" cy="167.9" r="0.81" opacity="0.67"/><circle cx="456.6" cy="61.7" r="0.66" opacity="0.74"/><circle cx="475.3" cy="139.7" r="0.59" opacity="0.84"/><circle cx="550.9" cy="175.9" r="0.99" opacity="0.60"/><circle cx="499.0" cy="133.3" r="0.59" opacity="0.74"/><circle cx="484.3" cy="88.6" r="0.46" opacity="0.67"/><circle cx="501.0" cy="141.0" r="0.55" opacity="0.90"/><circle cx="469.0" cy="99.9" r="0.75" opacity="0.68"/><circle cx="555.0" cy="124.3" r="0.71" opacity="0.75"/><circle cx="490.2" cy="56.5" r="0.97" opacity="0.75"/><circle cx="584.0" cy="83.9" r="0.61" opacity="0.57"/><circle cx="516.8" cy="179.0" r="0.79" opacity="0.74"/><circle cx="522.7" cy="174.0" r="0.66" opacity="0.90"/><circle cx="549.9" cy="162.1" r="0.62" opacity="0.71"/><circle cx="527.5" cy="81.0" r="0.73" opacity="0.58"/><circle cx="518.1" cy="162.2" r="0.57" opacity="0.95"/><circle cx="543.2" cy="70.1" r="0.99" opacity="0.71"/><circle cx="559.6" cy="101.6" r="0.96" opacity="0.85"/><circle cx="474.6" cy="125.8" r="0.70" opacity="0.57"/><circle cx="465.7" cy="100.7" r="0.68" opacity="0.73"/><circle cx="532.7" cy="126.7" r="0.60" opacity="0.80"/><circle cx="469.4" cy="194.5" r="0.84" opacity="0.67"/><circle cx="494.2" cy="171.3" r="0.72" opacity="0.83"/><circle cx="489.0" cy="169.5" r="0.62" opacity="0.82"/><circle cx="585.9" cy="136.4" r="0.88" opacity="0.84"/><circle cx="544.3" cy="57.0" r="0.68" opacity="0.94"/><circle cx="557.8" cy="163.9" r="0.75" opacity="0.84"/><circle cx="529.4" cy="77.5" r="0.78" opacity="0.80"/><circle cx="566.2" cy="74.3" r="0.81" opacity="0.56"/><circle cx="581.4" cy="68.9" r="0.41" opacity="0.68"/><circle cx="467.8" cy="151.7" r="0.65" opacity="0.86"/><circle cx="577.5" cy="177.7" r="0.84" opacity="0.57"/><circle cx="465.9" cy="82.8" r="0.60" opacity="0.81"/><circle cx="521.1" cy="97.9" r="0.50" opacity="0.91"/><circle cx="495.0" cy="103.7" r="0.86" opacity="0.84"/><circle cx="537.9" cy="152.1" r="0.77" opacity="0.63"/><circle cx="481.4" cy="132.8" r="0.53" opacity="0.94"/><circle cx="488.6" cy="94.4" r="0.52" opacity="0.83"/><circle cx="491.4" cy="102.9" r="0.96" opacity="0.87"/><circle cx="485.2" cy="70.6" r="0.81" opacity="0.70"/><circle cx="586.0" cy="169.9" r="0.97" opacity="0.87"/><circle cx="487.6" cy="94.2" r="0.83" opacity="0.69"/><circle cx="509.3" cy="89.8" r="0.69" opacity="0.63"/><circle cx="523.0" cy="186.2" r="0.82" opacity="0.60"/><circle cx="534.0" cy="136.9" r="0.55" opacity="0.82"/><circle cx="521.9" cy="144.2" r="0.43" opacity="0.72"/><circle cx="548.5" cy="67.5" r="0.86" opacity="0.55"/><circle cx="524.7" cy="185.7" r="0.64" opacity="0.92"/><circle cx="571.5" cy="121.3" r="0.52" opacity="0.94"/><circle cx="492.0" cy="145.3" r="0.94" opacity="0.59"/><circle cx="528.1" cy="129.5" r="0.83" opacity="0.92"/><circle cx="576.4" cy="78.2" r="0.93" opacity="0.62"/><circle cx="577.3" cy="195.4" r="0.64" opacity="0.75"/><circle cx="579.8" cy="190.4" r="0.96" opacity="0.90"/><circle cx="447.5" cy="134.2" r="0.46" opacity="0.94"/><circle cx="486.8" cy="194.2" r="0.73" opacity="0.75"/><circle cx="580.0" cy="174.6" r="0.68" opacity="0.63"/><circle cx="462.3" cy="76.4" r="0.68" opacity="0.65"/><circle cx="472.8" cy="158.2" r="0.87" opacity="0.78"/><circle cx="554.2" cy="78.2" r="0.91" opacity="0.91"/><circle cx="564.1" cy="126.7" r="0.45" opacity="0.82"/><circle cx="472.5" cy="73.3" r="0.59" opacity="0.65"/><circle cx="483.4" cy="86.8" r="0.85" opacity="0.93"/><circle cx="489.3" cy="156.3" r="0.41" opacity="0.81"/><circle cx="545.0" cy="62.1" r="0.47" opacity="0.67"/><circle cx="504.0" cy="124.9" r="0.94" opacity="0.83"/><circle cx="490.5" cy="69.9" r="0.95" opacity="0.67"/><circle cx="533.8" cy="84.4" r="0.48" opacity="0.61"/><circle cx="552.8" cy="139.6" r="0.65" opacity="0.77"/><circle cx="513.3" cy="129.9" r="0.80" opacity="0.64"/><circle cx="481.5" cy="160.8" r="0.92" opacity="0.58"/><circle cx="509.9" cy="153.6" r="0.45" opacity="0.78"/><circle cx="455.0" cy="131.3" r="0.70" opacity="0.78"/><circle cx="467.6" cy="100.0" r="0.71" opacity="0.60"/><circle cx="475.5" cy="136.4" r="0.45" opacity="0.75"/><circle cx="561.5" cy="117.9" r="0.71" opacity="0.73"/><circle cx="454.4" cy="119.1" r="0.88" opacity="0.84"/><circle cx="502.7" cy="169.6" r="0.85" opacity="0.78"/><circle cx="452.7" cy="102.3" r="0.44" opacity="0.95"/><circle cx="579.5" cy="63.0" r="0.96" opacity="0.56"/><circle cx="504.5" cy="162.9" r="0.86" opacity="0.94"/><circle cx="538.3" cy="113.1" r="1.00" opacity="0.70"/><circle cx="570.2" cy="182.5" r="0.63" opacity="0.82"/><circle cx="540.6" cy="130.1" r="0.79" opacity="0.69"/><circle cx="471.7" cy="129.8" r="0.72" opacity="0.84"/><circle cx="478.0" cy="53.7" r="0.41" opacity="0.67"/><circle cx="542.2" cy="130.8" r="0.72" opacity="0.88"/><circle cx="481.5" cy="102.6" r="0.57" opacity="0.92"/><circle cx="549.6" cy="69.3" r="0.89" opacity="0.72"/><circle cx="555.4" cy="179.2" r="0.41" opacity="0.63"/><circle cx="460.6" cy="58.0" r="0.76" opacity="0.83"/><circle cx="453.1" cy="158.8" r="0.64" opacity="0.64"/><circle cx="477.2" cy="176.4" r="0.43" opacity="0.75"/><circle cx="487.4" cy="169.5" r="0.84" opacity="0.68"/><circle cx="531.5" cy="149.1" r="0.59" opacity="0.67"/><circle cx="466.6" cy="147.3" r="0.53" opacity="0.67"/><circle cx="454.9" cy="188.5" r="0.93" opacity="0.91"/><circle cx="535.5" cy="114.1" r="0.70" opacity="0.94"/><circle cx="580.5" cy="148.9" r="0.87" opacity="0.68"/><circle cx="505.6" cy="74.5" r="0.63" opacity="0.85"/><circle cx="513.7" cy="174.3" r="0.58" opacity="0.83"/><circle cx="561.1" cy="183.6" r="0.74" opacity="0.94"/><circle cx="525.7" cy="72.3" r="0.55" opacity="0.63"/><circle cx="538.4" cy="184.7" r="0.91" opacity="0.59"/><circle cx="549.5" cy="80.4" r="0.56" opacity="0.82"/><circle cx="532.2" cy="177.8" r="0.51" opacity="0.85"/><circle cx="549.5" cy="132.9" r="0.69" opacity="0.90"/><circle cx="493.7" cy="189.7" r="0.41" opacity="0.92"/><circle cx="583.4" cy="69.9" r="1.00" opacity="0.74"/><circle cx="480.8" cy="139.4" r="0.52" opacity="0.92"/><circle cx="524.9" cy="163.8" r="0.63" opacity="0.76"/><circle cx="497.4" cy="90.5" r="0.71" opacity="0.75"/><circle cx="460.3" cy="193.1" r="0.68" opacity="0.89"/><circle cx="576.6" cy="106.1" r="0.65" opacity="0.78"/><circle cx="477.8" cy="74.0" r="0.56" opacity="0.92"/><circle cx="528.8" cy="112.7" r="0.49" opacity="0.68"/><circle cx="500.4" cy="172.0" r="0.70" opacity="0.81"/><circle cx="543.9" cy="89.9" r="0.89" opacity="0.94"/><circle cx="537.7" cy="123.2" r="0.50" opacity="0.87"/><circle cx="470.3" cy="155.9" r="0.69" opacity="0.92"/><circle cx="523.5" cy="144.7" r="0.44" opacity="0.56"/><circle cx="566.9" cy="188.0" r="0.80" opacity="0.86"/><circle cx="505.0" cy="173.3" r="0.54" opacity="0.83"/><circle cx="447.5" cy="125.3" r="0.62" opacity="0.80"/><circle cx="541.3" cy="141.1" r="0.69" opacity="0.75"/><circle cx="447.1" cy="131.9" r="0.41" opacity="0.76"/><circle cx="485.4" cy="192.6" r="0.41" opacity="0.88"/><circle cx="542.3" cy="168.2" r="0.95" opacity="0.59"/><circle cx="459.9" cy="74.4" r="0.52" opacity="0.76"/><circle cx="562.4" cy="91.3" r="0.64" opacity="0.70"/><circle cx="504.1" cy="133.8" r="0.99" opacity="0.64"/><circle cx="543.7" cy="174.1" r="0.79" opacity="0.89"/><circle cx="554.5" cy="66.5" r="0.63" opacity="0.77"/><circle cx="454.2" cy="54.5" r="0.50" opacity="0.75"/><circle cx="508.1" cy="165.1" r="0.74" opacity="0.89"/><circle cx="459.8" cy="128.5" r="0.43" opacity="0.63"/><circle cx="570.0" cy="179.8" r="0.69" opacity="0.57"/><circle cx="456.8" cy="185.2" r="0.94" opacity="0.78"/><circle cx="450.9" cy="185.6" r="0.59" opacity="0.93"/><circle cx="529.9" cy="160.5" r="0.83" opacity="0.71"/><circle cx="457.2" cy="76.4" r="0.54" opacity="0.88"/><circle cx="501.7" cy="181.0" r="0.60" opacity="0.85"/><circle cx="466.2" cy="194.2" r="0.83" opacity="0.75"/><circle cx="585.1" cy="60.9" r="0.66" opacity="0.89"/><circle cx="494.8" cy="162.9" r="0.97" opacity="0.71"/><circle cx="556.5" cy="57.4" r="0.56" opacity="0.95"/><circle cx="516.2" cy="103.9" r="0.96" opacity="0.72"/><circle cx="543.1" cy="147.4" r="0.45" opacity="0.80"/><circle cx="560.0" cy="154.9" r="0.45" opacity="0.61"/><circle cx="547.7" cy="143.6" r="0.84" opacity="0.68"/><circle cx="461.4" cy="53.9" r="0.58" opacity="0.69"/><circle cx="484.7" cy="72.1" r="0.51" opacity="0.73"/><circle cx="525.3" cy="111.4" r="0.42" opacity="0.69"/><circle cx="459.5" cy="138.5" r="0.59" opacity="0.70"/><circle cx="487.8" cy="108.5" r="0.45" opacity="0.91"/><circle cx="575.3" cy="192.7" r="0.74" opacity="0.62"/><circle cx="500.5" cy="73.0" r="0.58" opacity="0.75"/><circle cx="455.2" cy="115.2" r="0.65" opacity="0.74"/><circle cx="457.2" cy="89.1" r="0.55" opacity="0.80"/><circle cx="530.9" cy="81.1" r="0.46" opacity="0.67"/><circle cx="581.5" cy="100.6" r="0.77" opacity="0.87"/><circle cx="493.2" cy="100.9" r="0.89" opacity="0.89"/><circle cx="585.1" cy="72.6" r="0.59" opacity="0.93"/><circle cx="474.8" cy="98.0" r="0.98" opacity="0.94"/><circle cx="487.8" cy="152.3" r="0.69" opacity="0.78"/><circle cx="480.8" cy="106.8" r="0.89" opacity="0.71"/><circle cx="462.4" cy="133.6" r="0.76" opacity="0.77"/><circle cx="543.4" cy="131.6" r="0.97" opacity="0.73"/><circle cx="547.2" cy="115.7" r="0.57" opacity="0.83"/><circle cx="563.0" cy="166.7" r="0.65" opacity="0.75"/><circle cx="536.5" cy="87.7" r="0.80" opacity="0.84"/><circle cx="558.7" cy="63.7" r="0.99" opacity="0.74"/><circle cx="503.4" cy="125.4" r="0.95" opacity="0.83"/><circle cx="523.7" cy="166.0" r="0.62" opacity="0.91"/><circle cx="522.8" cy="144.2" r="0.45" opacity="0.86"/><circle cx="540.0" cy="103.8" r="0.79" opacity="0.57"/><circle cx="586.5" cy="149.8" r="0.64" opacity="0.85"/><circle cx="583.9" cy="114.6" r="0.41" opacity="0.65"/><circle cx="519.0" cy="127.2" r="0.75" opacity="0.78"/><circle cx="509.8" cy="109.0" r="0.86" opacity="0.79"/><circle cx="517.6" cy="102.4" r="0.41" opacity="0.59"/><circle cx="505.5" cy="190.3" r="0.47" opacity="0.93"/><circle cx="466.4" cy="97.7" r="0.67" opacity="0.63"/><circle cx="515.1" cy="121.1" r="0.66" opacity="0.83"/><circle cx="491.7" cy="96.0" r="0.89" opacity="0.60"/><circle cx="567.3" cy="145.6" r="0.81" opacity="0.62"/><circle cx="586.5" cy="88.0" r="0.50" opacity="0.61"/><circle cx="526.0" cy="189.9" r="0.54" opacity="0.71"/><circle cx="472.5" cy="144.5" r="0.66" opacity="0.56"/><circle cx="533.8" cy="81.3" r="0.76" opacity="0.71"/><circle cx="546.7" cy="82.5" r="0.85" opacity="0.87"/><circle cx="455.1" cy="67.7" r="0.92" opacity="0.62"/><circle cx="492.7" cy="118.4" r="0.56" opacity="0.90"/><circle cx="521.5" cy="144.3" r="0.76" opacity="0.79"/><circle cx="529.9" cy="102.8" r="0.91" opacity="0.80"/><circle cx="562.2" cy="153.9" r="0.58" opacity="0.80"/><circle cx="458.3" cy="72.3" r="0.47" opacity="0.67"/><circle cx="472.3" cy="152.1" r="0.71" opacity="0.72"/><circle cx="465.9" cy="107.9" r="0.51" opacity="0.80"/><circle cx="545.1" cy="145.2" r="1.00" opacity="0.77"/><circle cx="516.0" cy="73.2" r="0.59" opacity="0.73"/><circle cx="453.8" cy="104.4" r="0.41" opacity="0.60"/><circle cx="562.4" cy="190.6" r="0.70" opacity="0.75"/><circle cx="543.8" cy="112.5" r="0.90" opacity="0.75"/><circle cx="458.0" cy="57.6" r="0.86" opacity="0.67"/><circle cx="485.4" cy="129.9" r="0.50" opacity="0.73"/><circle cx="552.1" cy="162.4" r="0.73" opacity="0.60"/><circle cx="462.5" cy="163.7" r="0.89" opacity="0.70"/><circle cx="563.5" cy="59.1" r="0.83" opacity="0.77"/><circle cx="587.3" cy="67.8" r="0.90" opacity="0.85"/><circle cx="488.7" cy="195.7" r="0.67" opacity="0.69"/><circle cx="562.7" cy="115.8" r="1.00" opacity="0.86"/><circle cx="480.0" cy="168.8" r="0.75" opacity="0.69"/><circle cx="547.6" cy="143.4" r="0.50" opacity="0.61"/><circle cx="475.7" cy="82.7" r="0.44" opacity="0.69"/><circle cx="486.3" cy="130.0" r="0.59" opacity="0.83"/><circle cx="487.5" cy="91.3" r="0.91" opacity="0.94"/><circle cx="543.1" cy="66.8" r="0.98" opacity="0.86"/><circle cx="577.2" cy="194.7" r="0.92" opacity="0.60"/><circle cx="569.7" cy="88.8" r="0.83" opacity="0.88"/><circle cx="554.8" cy="149.6" r="0.69" opacity="0.78"/><circle cx="484.5" cy="112.3" r="0.67" opacity="0.80"/><circle cx="571.7" cy="66.5" r="0.71" opacity="0.66"/><circle cx="579.7" cy="105.8" r="0.97" opacity="0.68"/><circle cx="446.6" cy="163.6" r="0.84" opacity="0.84"/><circle cx="511.6" cy="147.9" r="0.61" opacity="0.58"/><circle cx="522.4" cy="84.3" r="0.66" opacity="0.63"/><circle cx="484.5" cy="171.3" r="0.60" opacity="0.78"/><circle cx="526.9" cy="122.4" r="0.61" opacity="0.82"/><circle cx="453.1" cy="67.4" r="0.87" opacity="0.73"/><circle cx="463.9" cy="175.5" r="0.66" opacity="0.55"/><circle cx="582.8" cy="82.1" r="0.81" opacity="0.60"/><circle cx="538.9" cy="75.9" r="0.96" opacity="0.66"/><circle cx="539.5" cy="88.9" r="0.62" opacity="0.91"/><circle cx="469.8" cy="109.7" r="0.58" opacity="0.83"/><circle cx="479.6" cy="146.7" r="0.82" opacity="0.55"/><circle cx="514.2" cy="72.1" r="0.54" opacity="0.82"/><circle cx="447.5" cy="152.4" r="0.89" opacity="0.95"/><circle cx="506.4" cy="72.0" r="0.44" opacity="0.70"/><circle cx="550.4" cy="67.8" r="0.59" opacity="0.90"/><circle cx="465.8" cy="163.5" r="0.85" opacity="0.60"/><circle cx="587.8" cy="73.6" r="0.72" opacity="0.55"/><circle cx="538.9" cy="116.0" r="0.83" opacity="0.80"/><circle cx="467.8" cy="111.9" r="0.81" opacity="0.89"/><circle cx="458.6" cy="67.5" r="0.85" opacity="0.79"/><circle cx="501.0" cy="190.6" r="0.59" opacity="0.61"/><circle cx="485.7" cy="65.2" r="0.73" opacity="0.79"/><circle cx="532.8" cy="164.3" r="0.81" opacity="0.89"/><circle cx="540.1" cy="96.2" r="0.71" opacity="0.75"/><circle cx="552.8" cy="95.3" r="0.43" opacity="0.91"/><circle cx="582.3" cy="123.8" r="0.47" opacity="0.75"/><circle cx="530.9" cy="128.5" r="0.99" opacity="0.94"/><circle cx="579.4" cy="72.0" r="0.92" opacity="0.78"/><circle cx="498.3" cy="150.6" r="0.86" opacity="0.93"/><circle cx="556.1" cy="55.6" r="0.44" opacity="0.65"/><circle cx="451.9" cy="61.8" r="0.87" opacity="0.75"/><circle cx="535.8" cy="124.6" r="0.65" opacity="0.83"/><circle cx="458.0" cy="129.7" r="0.77" opacity="0.66"/><circle cx="490.4" cy="126.1" r="0.52" opacity="0.87"/><circle cx="522.7" cy="108.9" r="0.78" opacity="0.88"/><circle cx="543.3" cy="62.6" r="0.82" opacity="0.84"/><circle cx="566.9" cy="61.5" r="0.45" opacity="0.72"/><circle cx="510.9" cy="140.0" r="0.59" opacity="0.85"/><circle cx="551.8" cy="70.2" r="0.82" opacity="0.83"/><circle cx="469.6" cy="189.1" r="0.71" opacity="0.86"/><circle cx="549.0" cy="77.0" r="0.48" opacity="0.86"/><circle cx="484.5" cy="179.6" r="0.86" opacity="0.56"/><circle cx="561.3" cy="92.0" r="0.44" opacity="0.83"/><circle cx="528.4" cy="64.2" r="0.67" opacity="0.69"/><circle cx="517.4" cy="134.0" r="0.62" opacity="0.65"/><circle cx="460.9" cy="135.0" r="0.83" opacity="0.64"/><circle cx="518.8" cy="59.5" r="0.92" opacity="0.65"/><circle cx="513.5" cy="107.8" r="0.49" opacity="0.92"/><circle cx="568.5" cy="132.0" r="0.95" opacity="0.85"/><circle cx="506.0" cy="99.1" r="0.65" opacity="0.84"/><circle cx="484.9" cy="64.3" r="0.62" opacity="0.75"/><circle cx="574.8" cy="78.8" r="0.88" opacity="0.94"/><circle cx="582.3" cy="63.0" r="0.68" opacity="0.66"/><circle cx="566.7" cy="99.9" r="0.73" opacity="0.55"/><circle cx="474.8" cy="133.6" r="0.58" opacity="0.80"/><circle cx="512.4" cy="137.6" r="0.70" opacity="0.86"/><circle cx="474.1" cy="181.6" r="0.86" opacity="0.65"/><circle cx="447.1" cy="111.7" r="0.54" opacity="0.69"/><circle cx="565.9" cy="178.3" r="0.97" opacity="0.55"/><circle cx="539.9" cy="174.3" r="0.84" opacity="0.59"/><circle cx="521.8" cy="87.2" r="0.70" opacity="0.57"/><circle cx="588.4" cy="154.7" r="0.46" opacity="0.92"/><circle cx="574.2" cy="127.3" r="0.82" opacity="0.70"/><circle cx="585.2" cy="65.3" r="0.46" opacity="0.60"/><circle cx="563.1" cy="63.9" r="0.74" opacity="0.72"/><circle cx="583.7" cy="87.0" r="0.56" opacity="0.68"/><circle cx="560.4" cy="153.1" r="0.84" opacity="0.68"/><circle cx="485.0" cy="63.9" r="0.52" opacity="0.86"/><circle cx="529.6" cy="75.4" r="0.50" opacity="0.74"/><circle cx="504.2" cy="129.6" r="0.98" opacity="0.63"/><circle cx="490.2" cy="91.0" r="0.47" opacity="0.61"/><circle cx="544.0" cy="171.0" r="0.82" opacity="0.57"/><circle cx="565.4" cy="99.9" r="0.45" opacity="0.65"/><circle cx="496.9" cy="126.4" r="0.81" opacity="0.65"/><circle cx="587.5" cy="57.6" r="0.64" opacity="0.73"/><circle cx="552.9" cy="88.8" r="0.68" opacity="0.87"/><circle cx="466.1" cy="54.9" r="0.90" opacity="0.94"/><circle cx="464.8" cy="170.7" r="0.62" opacity="0.80"/><circle cx="538.1" cy="136.2" r="0.56" opacity="0.88"/><circle cx="449.3" cy="62.4" r="0.94" opacity="0.73"/><circle cx="464.6" cy="182.3" r="0.90" opacity="0.68"/><circle cx="452.3" cy="118.9" r="0.50" opacity="0.78"/><circle cx="563.4" cy="109.5" r="0.42" opacity="0.82"/><circle cx="470.8" cy="83.8" r="0.51" opacity="0.66"/><circle cx="572.2" cy="58.1" r="0.77" opacity="0.65"/><circle cx="488.3" cy="112.0" r="0.73" opacity="0.57"/><circle cx="486.1" cy="72.8" r="0.52" opacity="0.90"/><circle cx="521.2" cy="143.1" r="0.88" opacity="0.87"/><circle cx="587.3" cy="164.7" r="0.62" opacity="0.77"/><circle cx="515.3" cy="183.3" r="0.70" opacity="0.71"/><circle cx="471.8" cy="98.7" r="0.53" opacity="0.91"/><circle cx="557.2" cy="61.6" r="0.99" opacity="0.76"/><circle cx="555.6" cy="195.7" r="0.98" opacity="0.59"/><circle cx="539.9" cy="91.2" r="0.89" opacity="0.92"/><circle cx="454.2" cy="195.3" r="0.53" opacity="0.89"/><circle cx="559.9" cy="103.8" r="0.90" opacity="0.89"/><circle cx="471.3" cy="137.7" r="0.88" opacity="0.83"/><circle cx="576.5" cy="57.2" r="0.82" opacity="0.93"/><circle cx="526.6" cy="133.5" r="0.51" opacity="0.95"/><circle cx="571.9" cy="123.4" r="0.59" opacity="0.75"/><circle cx="459.1" cy="86.4" r="0.53" opacity="0.76"/><circle cx="446.3" cy="184.1" r="0.52" opacity="0.60"/><circle cx="548.4" cy="184.2" r="0.91" opacity="0.68"/><circle cx="449.3" cy="136.9" r="0.95" opacity="0.86"/><circle cx="566.9" cy="175.9" r="0.98" opacity="0.70"/><circle cx="580.5" cy="109.6" r="0.46" opacity="0.67"/><circle cx="465.7" cy="75.7" r="0.97" opacity="0.87"/><circle cx="583.2" cy="145.8" r="0.50" opacity="0.94"/><circle cx="545.1" cy="185.7" r="0.87" opacity="0.64"/><circle cx="530.2" cy="78.2" r="0.58" opacity="0.83"/><circle cx="464.4" cy="157.1" r="0.97" opacity="0.93"/><circle cx="502.0" cy="195.0" r="0.98" opacity="0.56"/><circle cx="532.1" cy="184.5" r="0.98" opacity="0.64"/><circle cx="526.8" cy="186.8" r="0.48" opacity="0.85"/><circle cx="480.1" cy="193.3" r="0.50" opacity="0.90"/><circle cx="458.9" cy="154.3" r="0.78" opacity="0.90"/><circle cx="509.9" cy="91.0" r="0.55" opacity="0.58"/><circle cx="482.8" cy="68.6" r="0.40" opacity="0.70"/><circle cx="550.7" cy="191.4" r="0.93" opacity="0.75"/><circle cx="500.2" cy="131.1" r="0.46" opacity="0.74"/><circle cx="569.4" cy="146.0" r="0.81" opacity="0.62"/><circle cx="456.7" cy="173.8" r="0.58" opacity="0.68"/><circle cx="581.9" cy="63.8" r="0.50" opacity="0.70"/><circle cx="550.6" cy="131.2" r="0.94" opacity="0.59"/><circle cx="530.9" cy="140.7" r="0.69" opacity="0.56"/><circle cx="580.6" cy="76.7" r="0.93" opacity="0.61"/><circle cx="460.6" cy="82.5" r="0.51" opacity="0.83"/><circle cx="549.2" cy="157.3" r="0.56" opacity="0.66"/><circle cx="480.1" cy="60.3" r="0.74" opacity="0.89"/><circle cx="468.1" cy="104.7" r="0.66" opacity="0.67"/><circle cx="540.6" cy="138.8" r="0.52" opacity="0.56"/><circle cx="470.6" cy="94.8" r="0.45" opacity="0.89"/><circle cx="490.2" cy="109.9" r="0.69" opacity="0.81"/><circle cx="459.2" cy="130.8" r="0.51" opacity="0.90"/><circle cx="498.9" cy="116.8" r="0.56" opacity="0.74"/><circle cx="478.5" cy="91.5" r="0.44" opacity="0.85"/><circle cx="541.4" cy="65.4" r="0.61" opacity="0.77"/><circle cx="584.6" cy="137.3" r="0.73" opacity="0.89"/><circle cx="562.9" cy="112.9" r="0.72" opacity="0.90"/><circle cx="513.9" cy="178.9" r="0.69" opacity="0.58"/><circle cx="574.9" cy="155.1" r="0.70" opacity="0.91"/><circle cx="560.3" cy="149.8" r="0.77" opacity="0.60"/><circle cx="554.2" cy="77.9" r="0.99" opacity="0.94"/><circle cx="561.5" cy="71.2" r="0.65" opacity="0.95"/><circle cx="508.3" cy="195.4" r="0.78" opacity="0.88"/><circle cx="483.0" cy="183.1" r="0.95" opacity="0.58"/><circle cx="501.5" cy="109.9" r="0.60" opacity="0.66"/><circle cx="511.5" cy="177.8" r="0.87" opacity="0.80"/><circle cx="520.7" cy="113.0" r="0.65" opacity="0.61"/><circle cx="530.0" cy="161.3" r="0.96" opacity="0.92"/><circle cx="526.4" cy="67.6" r="0.57" opacity="0.76"/><circle cx="495.2" cy="111.8" r="0.63" opacity="0.74"/><circle cx="533.0" cy="58.5" r="0.57" opacity="0.61"/><circle cx="533.0" cy="152.1" r="0.42" opacity="0.91"/><circle cx="493.5" cy="87.1" r="0.85" opacity="0.92"/><circle cx="574.1" cy="56.1" r="0.89" opacity="0.67"/><circle cx="486.2" cy="123.3" r="0.82" opacity="0.59"/><circle cx="570.1" cy="72.4" r="0.98" opacity="0.73"/><circle cx="564.0" cy="91.6" r="0.65" opacity="0.81"/><circle cx="473.0" cy="83.3" r="0.89" opacity="0.85"/><circle cx="554.5" cy="176.9" r="0.89" opacity="0.76"/><circle cx="468.9" cy="97.6" r="0.70" opacity="0.60"/><circle cx="567.6" cy="178.6" r="0.42" opacity="0.63"/><circle cx="565.0" cy="172.6" r="0.55" opacity="0.73"/><circle cx="577.1" cy="153.7" r="0.56" opacity="0.88"/><circle cx="518.2" cy="143.8" r="0.47" opacity="0.56"/><circle cx="499.3" cy="137.9" r="0.51" opacity="0.90"/><circle cx="529.9" cy="103.1" r="0.50" opacity="0.91"/><circle cx="553.0" cy="151.4" r="0.57" opacity="0.70"/><circle cx="469.4" cy="134.8" r="0.98" opacity="0.89"/><circle cx="538.5" cy="149.8" r="0.56" opacity="0.71"/><circle cx="449.1" cy="164.5" r="0.86" opacity="0.55"/><circle cx="576.2" cy="145.5" r="0.76" opacity="0.55"/><circle cx="482.2" cy="168.0" r="0.58" opacity="0.94"/><circle cx="537.9" cy="113.6" r="0.63" opacity="0.69"/><circle cx="482.1" cy="119.8" r="0.81" opacity="0.88"/><circle cx="502.8" cy="67.8" r="0.71" opacity="0.81"/><circle cx="566.5" cy="106.6" r="0.79" opacity="0.79"/><circle cx="488.8" cy="68.6" r="0.44" opacity="0.95"/><circle cx="537.5" cy="176.0" r="0.56" opacity="0.83"/><circle cx="573.5" cy="95.8" r="0.49" opacity="0.86"/><circle cx="574.5" cy="168.1" r="0.88" opacity="0.79"/><circle cx="540.4" cy="150.3" r="0.83" opacity="0.81"/><circle cx="588.4" cy="90.2" r="0.65" opacity="0.71"/><circle cx="451.2" cy="154.2" r="0.74" opacity="0.63"/><circle cx="549.8" cy="84.9" r="0.72" opacity="0.86"/><circle cx="575.5" cy="149.0" r="0.70" opacity="0.89"/><circle cx="566.1" cy="178.2" r="0.51" opacity="0.59"/><circle cx="464.4" cy="90.1" r="0.89" opacity="0.86"/><circle cx="472.3" cy="150.1" r="0.60" opacity="0.59"/><circle cx="496.9" cy="159.3" r="0.58" opacity="0.87"/><circle cx="493.4" cy="90.4" r="0.58" opacity="0.89"/><circle cx="513.3" cy="176.7" r="0.75" opacity="0.93"/><circle cx="456.4" cy="180.0" r="0.70" opacity="0.90"/><circle cx="500.6" cy="95.7" r="0.43" opacity="0.89"/><circle cx="465.8" cy="81.8" r="0.65" opacity="0.78"/><circle cx="575.5" cy="118.4" r="0.59" opacity="0.84"/><circle cx="557.3" cy="122.7" r="0.78" opacity="0.62"/><circle cx="536.7" cy="53.9" r="0.56" opacity="0.85"/><circle cx="470.2" cy="162.2" r="0.69" opacity="0.86"/><circle cx="458.8" cy="140.8" r="0.78" opacity="0.71"/><circle cx="583.9" cy="107.9" r="0.42" opacity="0.63"/><circle cx="499.4" cy="55.2" r="0.59" opacity="0.88"/><circle cx="473.4" cy="149.7" r="0.78" opacity="0.65"/><circle cx="545.1" cy="102.3" r="0.48" opacity="0.70"/><circle cx="530.1" cy="77.0" r="0.89" opacity="0.67"/><circle cx="487.7" cy="157.0" r="0.76" opacity="0.69"/><circle cx="572.8" cy="195.2" r="0.61" opacity="0.91"/><circle cx="497.4" cy="80.1" r="0.97" opacity="0.92"/><circle cx="503.7" cy="85.8" r="0.84" opacity="0.60"/><circle cx="550.9" cy="137.3" r="0.50" opacity="0.70"/><circle cx="539.0" cy="58.5" r="0.93" opacity="0.65"/><circle cx="522.5" cy="60.1" r="1.00" opacity="0.81"/><circle cx="539.4" cy="56.0" r="0.81" opacity="0.72"/><circle cx="500.4" cy="131.2" r="0.68" opacity="0.61"/><circle cx="545.3" cy="143.1" r="0.58" opacity="0.81"/><circle cx="540.7" cy="91.7" r="0.76" opacity="0.60"/><circle cx="564.7" cy="68.2" r="0.83" opacity="0.60"/><circle cx="462.5" cy="68.4" r="0.52" opacity="0.63"/><circle cx="483.7" cy="127.8" r="0.52" opacity="0.83"/><circle cx="488.3" cy="58.8" r="0.70" opacity="0.63"/><circle cx="579.3" cy="100.3" r="0.40" opacity="0.82"/><circle cx="575.5" cy="172.3" r="0.80" opacity="0.61"/><circle cx="459.0" cy="126.2" r="0.83" opacity="0.59"/><circle cx="482.7" cy="86.2" r="0.99" opacity="0.67"/><circle cx="512.4" cy="67.4" r="0.50" opacity="0.57"/><circle cx="487.6" cy="167.5" r="0.59" opacity="0.85"/><circle cx="459.7" cy="161.3" r="0.43" opacity="0.89"/><circle cx="540.8" cy="77.5" r="0.61" opacity="0.73"/><circle cx="534.9" cy="178.5" r="0.46" opacity="0.88"/><circle cx="472.3" cy="110.4" r="0.98" opacity="0.66"/><circle cx="501.2" cy="174.5" r="0.88" opacity="0.81"/><circle cx="559.8" cy="69.3" r="0.82" opacity="0.57"/><circle cx="580.6" cy="75.9" r="0.65" opacity="0.79"/><circle cx="560.6" cy="149.9" r="0.51" opacity="0.70"/><circle cx="497.3" cy="57.3" r="0.81" opacity="0.89"/><circle cx="585.0" cy="71.8" r="0.95" opacity="0.60"/><circle cx="504.8" cy="59.8" r="0.56" opacity="0.68"/><circle cx="546.7" cy="149.9" r="0.86" opacity="0.78"/><circle cx="526.8" cy="192.6" r="0.80" opacity="0.69"/><circle cx="520.8" cy="153.1" r="0.46" opacity="0.81"/><circle cx="481.6" cy="102.5" r="0.81" opacity="0.70"/><circle cx="565.8" cy="132.8" r="0.99" opacity="0.57"/><circle cx="537.9" cy="75.6" r="0.91" opacity="0.89"/><circle cx="570.2" cy="63.9" r="0.69" opacity="0.65"/><circle cx="584.5" cy="60.4" r="0.53" opacity="0.81"/><circle cx="503.7" cy="86.7" r="0.68" opacity="0.87"/><circle cx="510.1" cy="175.3" r="0.67" opacity="0.60"/><circle cx="517.1" cy="146.4" r="0.46" opacity="0.71"/><circle cx="525.6" cy="53.2" r="0.45" opacity="0.79"/><circle cx="534.5" cy="96.6" r="0.71" opacity="0.63"/><circle cx="542.0" cy="188.7" r="0.62" opacity="0.57"/><circle cx="478.0" cy="118.0" r="0.74" opacity="0.80"/><circle cx="513.7" cy="146.9" r="0.83" opacity="0.60"/><circle cx="554.5" cy="84.8" r="0.60" opacity="0.88"/><circle cx="583.7" cy="94.8" r="0.71" opacity="0.83"/><circle cx="452.7" cy="76.6" r="0.48" opacity="0.84"/><circle cx="549.1" cy="68.5" r="0.77" opacity="0.63"/><circle cx="578.8" cy="109.2" r="0.67" opacity="0.86"/><circle cx="548.4" cy="68.6" r="0.65" opacity="0.92"/><circle cx="565.6" cy="137.2" r="0.86" opacity="0.73"/><circle cx="540.1" cy="189.6" r="0.48" opacity="0.75"/><circle cx="521.8" cy="60.1" r="0.96" opacity="0.89"/><circle cx="515.1" cy="125.7" r="0.95" opacity="0.62"/><circle cx="528.7" cy="157.4" r="0.48" opacity="0.70"/><circle cx="531.8" cy="179.1" r="0.70" opacity="0.70"/><circle cx="585.9" cy="183.8" r="0.86" opacity="0.66"/><circle cx="583.6" cy="191.6" r="0.67" opacity="0.60"/><circle cx="505.1" cy="153.0" r="0.85" opacity="0.67"/><circle cx="546.2" cy="175.9" r="0.83" opacity="0.92"/><circle cx="536.4" cy="81.8" r="0.77" opacity="0.67"/><circle cx="495.4" cy="149.1" r="0.99" opacity="0.81"/><circle cx="582.9" cy="125.1" r="0.82" opacity="0.68"/><circle cx="462.7" cy="103.4" r="0.69" opacity="0.78"/><circle cx="541.3" cy="112.7" r="0.85" opacity="0.89"/><circle cx="487.0" cy="174.0" r="0.88" opacity="0.76"/><circle cx="449.8" cy="73.9" r="0.80" opacity="0.63"/><circle cx="553.2" cy="76.1" r="0.57" opacity="0.65"/><circle cx="565.9" cy="151.7" r="0.58" opacity="0.85"/><circle cx="450.8" cy="169.3" r="0.46" opacity="0.90"/><circle cx="551.7" cy="176.5" r="0.85" opacity="0.77"/><circle cx="480.1" cy="165.0" r="0.88" opacity="0.67"/><circle cx="541.0" cy="185.3" r="0.63" opacity="0.93"/><circle cx="585.4" cy="97.8" r="0.73" opacity="0.56"/><circle cx="482.0" cy="141.7" r="0.87" opacity="0.90"/><circle cx="564.6" cy="183.2" r="0.82" opacity="0.81"/><circle cx="553.9" cy="131.1" r="0.76" opacity="0.86"/><circle cx="583.7" cy="95.1" r="0.51" opacity="0.82"/><circle cx="472.9" cy="78.0" r="0.71" opacity="0.70"/><circle cx="507.3" cy="132.6" r="0.48" opacity="0.78"/><circle cx="482.6" cy="100.3" r="0.83" opacity="0.61"/><circle cx="468.1" cy="99.2" r="0.43" opacity="0.92"/><circle cx="534.0" cy="147.6" r="0.69" opacity="0.78"/><circle cx="497.3" cy="165.0" r="0.59" opacity="0.64"/><circle cx="472.4" cy="62.9" r="0.70" opacity="0.72"/><circle cx="522.8" cy="66.3" r="0.53" opacity="0.64"/><circle cx="493.5" cy="104.6" r="0.53" opacity="0.85"/><circle cx="521.8" cy="195.3" r="0.89" opacity="0.94"/><circle cx="447.5" cy="148.6" r="0.67" opacity="0.91"/><circle cx="533.7" cy="141.8" r="0.98" opacity="0.82"/><circle cx="492.0" cy="183.8" r="0.97" opacity="0.70"/><circle cx="523.2" cy="93.5" r="0.95" opacity="0.88"/><circle cx="499.7" cy="167.7" r="0.67" opacity="0.57"/><circle cx="574.3" cy="80.7" r="0.71" opacity="0.93"/><circle cx="470.1" cy="189.6" r="0.72" opacity="0.55"/><circle cx="455.5" cy="148.8" r="0.86" opacity="0.90"/><circle cx="506.7" cy="68.0" r="0.72" opacity="0.83"/><circle cx="585.4" cy="163.7" r="0.79" opacity="0.93"/><circle cx="552.7" cy="75.1" r="0.68" opacity="0.68"/><circle cx="458.7" cy="60.9" r="0.88" opacity="0.77"/><circle cx="528.2" cy="85.7" r="0.56" opacity="0.71"/><circle cx="536.1" cy="114.9" r="0.41" opacity="0.82"/><circle cx="522.5" cy="144.7" r="0.77" opacity="0.85"/><circle cx="529.7" cy="153.1" r="0.44" opacity="0.92"/><circle cx="461.3" cy="165.4" r="0.58" opacity="0.58"/><circle cx="555.3" cy="115.6" r="0.64" opacity="0.81"/><circle cx="513.8" cy="129.3" r="0.48" opacity="0.71"/><circle cx="559.9" cy="131.0" r="0.98" opacity="0.61"/><circle cx="542.8" cy="183.6" r="0.88" opacity="0.84"/><circle cx="499.4" cy="188.6" r="0.73" opacity="0.77"/><circle cx="463.8" cy="53.9" r="0.76" opacity="0.76"/><circle cx="581.2" cy="96.6" r="0.85" opacity="0.91"/><circle cx="495.2" cy="112.0" r="0.79" opacity="0.76"/><circle cx="469.2" cy="84.7" r="0.90" opacity="0.63"/><circle cx="472.1" cy="167.2" r="0.91" opacity="0.89"/><circle cx="579.2" cy="195.0" r="0.68" opacity="0.77"/><circle cx="487.6" cy="62.8" r="0.46" opacity="0.84"/><circle cx="515.7" cy="100.4" r="0.48" opacity="0.81"/><circle cx="460.5" cy="141.5" r="0.94" opacity="0.68"/><circle cx="510.5" cy="141.1" r="0.58" opacity="0.78"/><circle cx="526.8" cy="105.2" r="0.59" opacity="0.72"/><circle cx="446.9" cy="88.3" r="0.53" opacity="0.85"/><circle cx="508.4" cy="173.0" r="0.48" opacity="0.84"/><circle cx="571.4" cy="119.2" r="0.62" opacity="0.67"/><circle cx="524.9" cy="78.3" r="0.76" opacity="0.89"/><circle cx="568.7" cy="73.2" r="0.72" opacity="0.66"/><circle cx="572.6" cy="64.1" r="0.45" opacity="0.56"/><circle cx="518.5" cy="57.6" r="0.75" opacity="0.71"/><circle cx="530.3" cy="182.4" r="0.73" opacity="0.77"/><circle cx="588.6" cy="120.5" r="0.87" opacity="0.70"/><circle cx="478.0" cy="163.3" r="0.84" opacity="0.67"/><circle cx="512.5" cy="126.0" r="0.64" opacity="0.75"/><circle cx="540.7" cy="174.1" r="0.88" opacity="0.80"/><circle cx="469.8" cy="126.5" r="0.67" opacity="0.62"/><circle cx="581.5" cy="147.2" r="0.98" opacity="0.84"/><circle cx="515.1" cy="104.4" r="0.53" opacity="0.75"/><circle cx="455.2" cy="105.9" r="0.43" opacity="0.63"/><circle cx="575.6" cy="104.7" r="0.68" opacity="0.73"/><circle cx="452.8" cy="193.0" r="0.59" opacity="0.83"/><circle cx="520.5" cy="171.5" r="0.90" opacity="0.66"/><circle cx="523.8" cy="78.0" r="0.79" opacity="0.70"/><circle cx="539.4" cy="172.3" r="0.71" opacity="0.70"/><circle cx="575.6" cy="126.8" r="0.61" opacity="0.90"/><circle cx="515.6" cy="121.9" r="0.76" opacity="0.75"/><circle cx="466.0" cy="76.8" r="0.45" opacity="0.81"/><circle cx="476.4" cy="79.9" r="0.62" opacity="0.84"/><circle cx="463.1" cy="86.0" r="0.89" opacity="0.84"/><circle cx="514.9" cy="121.5" r="0.53" opacity="0.61"/><circle cx="565.0" cy="56.4" r="0.43" opacity="0.78"/><circle cx="469.2" cy="143.0" r="0.42" opacity="0.78"/><circle cx="454.2" cy="90.0" r="0.51" opacity="0.93"/><circle cx="531.7" cy="133.6" r="0.41" opacity="0.84"/><circle cx="540.6" cy="93.6" r="0.45" opacity="0.73"/><circle cx="587.8" cy="176.9" r="0.50" opacity="0.88"/><circle cx="531.9" cy="166.5" r="0.89" opacity="0.62"/><circle cx="540.3" cy="90.9" r="0.83" opacity="0.69"/><circle cx="510.9" cy="137.4" r="0.54" opacity="0.70"/><circle cx="461.7" cy="82.1" r="0.92" opacity="0.75"/><circle cx="506.1" cy="74.5" r="0.46" opacity="0.74"/><circle cx="533.9" cy="58.8" r="0.87" opacity="0.75"/><circle cx="463.0" cy="122.0" r="0.48" opacity="0.79"/><circle cx="564.2" cy="181.1" r="0.86" opacity="0.81"/><circle cx="520.6" cy="106.0" r="0.43" opacity="0.76"/><circle cx="478.9" cy="167.6" r="0.87" opacity="0.70"/><circle cx="530.2" cy="158.9" r="0.86" opacity="0.83"/><circle cx="460.1" cy="72.3" r="0.69" opacity="0.64"/><circle cx="568.7" cy="93.6" r="0.93" opacity="0.71"/><circle cx="473.2" cy="154.3" r="0.87" opacity="0.78"/><circle cx="463.0" cy="54.2" r="0.79" opacity="0.83"/><circle cx="491.2" cy="104.9" r="0.49" opacity="0.81"/><circle cx="482.4" cy="175.1" r="0.65" opacity="0.70"/><circle cx="485.5" cy="150.3" r="0.85" opacity="0.72"/><circle cx="558.0" cy="122.0" r="0.62" opacity="0.77"/><circle cx="482.4" cy="96.9" r="0.61" opacity="0.83"/><circle cx="551.1" cy="175.1" r="0.80" opacity="0.85"/><circle cx="509.9" cy="152.9" r="0.50" opacity="0.64"/><circle cx="503.3" cy="101.5" r="0.73" opacity="0.83"/><circle cx="547.0" cy="76.1" r="0.98" opacity="0.55"/><circle cx="459.2" cy="73.9" r="0.96" opacity="0.72"/><circle cx="455.3" cy="84.8" r="0.45" opacity="0.57"/><circle cx="501.0" cy="193.6" r="0.77" opacity="0.76"/><circle cx="547.7" cy="138.4" r="0.97" opacity="0.88"/><circle cx="537.5" cy="115.8" r="0.52" opacity="0.81"/><circle cx="560.8" cy="94.0" r="0.42" opacity="0.79"/><circle cx="519.8" cy="86.2" r="0.50" opacity="0.56"/><circle cx="480.3" cy="53.2" r="0.49" opacity="0.95"/><circle cx="557.4" cy="103.6" r="0.64" opacity="0.78"/><circle cx="520.0" cy="158.3" r="0.44" opacity="0.59"/><circle cx="486.8" cy="171.5" r="0.95" opacity="0.69"/><circle cx="583.6" cy="92.6" r="0.76" opacity="0.63"/><circle cx="578.8" cy="135.2" r="0.56" opacity="0.71"/><circle cx="461.4" cy="63.5" r="0.58" opacity="0.93"/><circle cx="560.7" cy="189.6" r="0.93" opacity="0.88"/><circle cx="528.2" cy="152.2" r="0.98" opacity="0.78"/><circle cx="556.0" cy="161.2" r="0.98" opacity="0.73"/><circle cx="511.9" cy="136.9" r="0.42" opacity="0.60"/><circle cx="455.8" cy="143.6" r="1.00" opacity="0.82"/><circle cx="479.0" cy="98.2" r="0.97" opacity="0.76"/><circle cx="447.6" cy="171.9" r="0.55" opacity="0.59"/><circle cx="542.3" cy="170.3" r="0.45" opacity="0.92"/><circle cx="514.2" cy="103.6" r="0.94" opacity="0.66"/><circle cx="581.3" cy="150.6" r="0.95" opacity="0.75"/><circle cx="474.7" cy="158.1" r="0.92" opacity="0.63"/><circle cx="475.1" cy="88.8" r="0.77" opacity="0.61"/><circle cx="461.4" cy="184.4" r="0.81" opacity="0.82"/><circle cx="533.7" cy="162.2" r="0.72" opacity="0.57"/><circle cx="515.0" cy="141.7" r="0.70" opacity="0.94"/><circle cx="574.1" cy="177.1" r="0.69" opacity="0.94"/><circle cx="576.8" cy="93.2" r="0.53" opacity="0.78"/><circle cx="453.9" cy="167.2" r="0.69" opacity="0.77"/><circle cx="517.9" cy="109.3" r="0.81" opacity="0.62"/><circle cx="585.4" cy="152.8" r="0.68" opacity="0.83"/><circle cx="447.9" cy="83.3" r="0.75" opacity="0.68"/><circle cx="533.6" cy="90.2" r="0.73" opacity="0.64"/><circle cx="513.4" cy="140.6" r="0.62" opacity="0.75"/><circle cx="476.2" cy="153.1" r="0.62" opacity="0.89"/><circle cx="486.1" cy="78.9" r="0.48" opacity="0.78"/><circle cx="478.8" cy="67.4" r="0.56" opacity="0.64"/><circle cx="507.8" cy="107.5" r="0.49" opacity="0.93"/><circle cx="467.5" cy="168.1" r="0.51" opacity="0.75"/><circle cx="588.2" cy="174.3" r="0.71" opacity="0.84"/><circle cx="558.2" cy="96.0" r="0.74" opacity="0.78"/><circle cx="503.0" cy="151.7" r="0.44" opacity="0.88"/><circle cx="514.2" cy="143.0" r="0.67" opacity="0.68"/><circle cx="497.7" cy="133.1" r="0.96" opacity="0.65"/><circle cx="449.0" cy="70.5" r="0.92" opacity="0.94"/><circle cx="474.6" cy="135.3" r="0.79" opacity="0.62"/><circle cx="557.5" cy="103.8" r="0.80" opacity="0.74"/><circle cx="551.2" cy="180.1" r="0.63" opacity="0.66"/><circle cx="536.3" cy="73.9" r="0.50" opacity="0.87"/><circle cx="494.3" cy="143.2" r="0.74" opacity="0.89"/><circle cx="456.4" cy="76.3" r="0.54" opacity="0.68"/><circle cx="487.7" cy="91.3" r="0.79" opacity="0.66"/><circle cx="509.6" cy="176.2" r="0.62" opacity="0.78"/><circle cx="583.9" cy="112.2" r="0.51" opacity="0.56"/><circle cx="550.0" cy="147.6" r="0.96" opacity="0.83"/><circle cx="457.6" cy="77.0" r="0.46" opacity="0.58"/><circle cx="571.5" cy="131.4" r="0.42" opacity="0.71"/><circle cx="555.3" cy="65.1" r="0.56" opacity="0.61"/><circle cx="539.6" cy="179.5" r="0.59" opacity="0.65"/><circle cx="486.7" cy="142.5" r="0.48" opacity="0.89"/><circle cx="450.3" cy="147.8" r="0.92" opacity="0.68"/><circle cx="514.1" cy="192.2" r="0.72" opacity="0.66"/><circle cx="509.6" cy="191.5" r="0.82" opacity="0.62"/><circle cx="531.4" cy="143.2" r="0.78" opacity="0.78"/><circle cx="520.8" cy="144.4" r="0.59" opacity="0.69"/><circle cx="523.2" cy="168.0" r="0.67" opacity="0.70"/><circle cx="483.2" cy="96.5" r="0.40" opacity="0.88"/><circle cx="567.1" cy="102.2" r="0.68" opacity="0.55"/><circle cx="577.7" cy="188.2" r="0.69" opacity="0.55"/><circle cx="507.6" cy="95.0" r="0.54" opacity="0.55"/><circle cx="499.5" cy="111.9" r="0.74" opacity="0.71"/><circle cx="469.5" cy="158.3" r="0.63" opacity="0.70"/><circle cx="483.7" cy="113.4" r="0.54" opacity="0.86"/><circle cx="576.0" cy="168.4" r="0.81" opacity="0.66"/><circle cx="552.1" cy="168.5" r="0.65" opacity="0.89"/><circle cx="472.2" cy="94.5" r="0.78" opacity="0.80"/><circle cx="485.0" cy="142.0" r="0.51" opacity="0.56"/><circle cx="453.3" cy="129.5" r="0.51" opacity="0.59"/><circle cx="484.6" cy="155.2" r="0.84" opacity="0.64"/><circle cx="467.7" cy="123.6" r="0.61" opacity="0.67"/><circle cx="560.2" cy="195.5" r="0.68" opacity="0.87"/><circle cx="493.3" cy="173.5" r="0.97" opacity="0.57"/><circle cx="556.8" cy="63.4" r="0.68" opacity="0.63"/><circle cx="566.2" cy="169.7" r="0.90" opacity="0.60"/><circle cx="555.7" cy="88.7" r="0.86" opacity="0.73"/><circle cx="551.4" cy="58.0" r="0.68" opacity="0.86"/><circle cx="520.5" cy="193.2" r="0.68" opacity="0.82"/><circle cx="490.7" cy="99.3" r="0.78" opacity="0.57"/><circle cx="579.9" cy="127.5" r="0.55" opacity="0.81"/><circle cx="474.5" cy="179.8" r="0.92" opacity="0.64"/><circle cx="462.3" cy="143.5" r="0.59" opacity="0.62"/><circle cx="485.6" cy="70.3" r="0.87" opacity="0.55"/><circle cx="452.2" cy="164.9" r="0.69" opacity="0.79"/><circle cx="499.2" cy="66.0" r="0.49" opacity="0.59"/><circle cx="534.4" cy="185.9" r="1.00" opacity="0.80"/><circle cx="454.7" cy="145.1" r="0.82" opacity="0.87"/><circle cx="464.1" cy="86.4" r="0.99" opacity="0.87"/><circle cx="554.1" cy="168.1" r="0.66" opacity="0.63"/><circle cx="544.5" cy="104.3" r="0.48" opacity="0.91"/><circle cx="515.4" cy="115.6" r="0.58" opacity="0.83"/><circle cx="473.3" cy="79.8" r="0.61" opacity="0.84"/><circle cx="485.5" cy="171.8" r="0.95" opacity="0.77"/><circle cx="456.0" cy="75.3" r="0.58" opacity="0.66"/><circle cx="498.6" cy="53.3" r="0.78" opacity="0.70"/><circle cx="472.7" cy="55.9" r="0.91" opacity="0.86"/><circle cx="480.3" cy="156.0" r="0.79" opacity="0.77"/><circle cx="501.5" cy="127.9" r="0.70" opacity="0.77"/><circle cx="533.6" cy="99.2" r="0.78" opacity="0.59"/><circle cx="520.8" cy="62.7" r="0.90" opacity="0.60"/><circle cx="570.8" cy="82.0" r="0.69" opacity="0.59"/><circle cx="527.6" cy="172.5" r="0.79" opacity="0.76"/><circle cx="546.2" cy="89.7" r="0.62" opacity="0.79"/><circle cx="456.3" cy="185.8" r="0.53" opacity="0.75"/><circle cx="573.1" cy="64.6" r="0.88" opacity="0.57"/><circle cx="525.8" cy="187.0" r="0.65" opacity="0.70"/><circle cx="547.2" cy="170.7" r="0.56" opacity="0.57"/><circle cx="456.2" cy="96.5" r="0.97" opacity="0.93"/><circle cx="460.0" cy="156.6" r="0.72" opacity="0.63"/><circle cx="521.2" cy="88.7" r="0.78" opacity="0.62"/><circle cx="553.0" cy="112.4" r="0.46" opacity="0.81"/><circle cx="497.2" cy="118.6" r="0.80" opacity="0.90"/><circle cx="470.0" cy="78.9" r="0.64" opacity="0.69"/><circle cx="468.8" cy="195.6" r="0.67" opacity="0.69"/><circle cx="491.1" cy="194.6" r="0.59" opacity="0.70"/><circle cx="555.2" cy="114.6" r="0.84" opacity="0.79"/><circle cx="526.5" cy="83.7" r="0.86" opacity="0.92"/><circle cx="482.4" cy="190.3" r="0.67" opacity="0.71"/><circle cx="549.8" cy="193.4" r="0.76" opacity="0.76"/><circle cx="587.9" cy="96.2" r="0.58" opacity="0.64"/><circle cx="568.2" cy="56.3" r="0.89" opacity="0.83"/><circle cx="485.6" cy="132.2" r="0.73" opacity="0.92"/><circle cx="468.3" cy="58.6" r="0.61" opacity="0.61"/><circle cx="498.5" cy="136.2" r="0.54" opacity="0.87"/><circle cx="459.3" cy="110.2" r="0.95" opacity="0.84"/><circle cx="549.4" cy="166.3" r="0.50" opacity="0.88"/><circle cx="544.5" cy="135.4" r="0.94" opacity="0.79"/><circle cx="489.0" cy="157.4" r="0.75" opacity="0.58"/><circle cx="454.2" cy="163.1" r="0.61" opacity="0.88"/><circle cx="505.6" cy="177.0" r="0.92" opacity="0.64"/><circle cx="539.3" cy="139.1" r="0.41" opacity="0.86"/><circle cx="500.7" cy="96.7" r="0.42" opacity="0.77"/><circle cx="467.5" cy="124.8" r="0.53" opacity="0.57"/><circle cx="550.5" cy="109.2" r="0.67" opacity="0.79"/><circle cx="518.2" cy="84.9" r="0.57" opacity="0.71"/><circle cx="465.1" cy="65.0" r="0.74" opacity="0.57"/><circle cx="503.1" cy="65.3" r="0.70" opacity="0.86"/><circle cx="464.8" cy="72.4" r="0.74" opacity="0.75"/><circle cx="539.2" cy="81.2" r="0.77" opacity="0.84"/><circle cx="481.3" cy="63.4" r="0.87" opacity="0.68"/><circle cx="578.0" cy="66.0" r="0.80" opacity="0.72"/><circle cx="495.9" cy="98.9" r="0.76" opacity="0.56"/><circle cx="489.7" cy="194.0" r="0.77" opacity="0.95"/><circle cx="509.3" cy="74.0" r="0.43" opacity="0.88"/><circle cx="474.7" cy="106.5" r="0.85" opacity="0.89"/><circle cx="462.2" cy="61.0" r="0.97" opacity="0.92"/><circle cx="570.1" cy="170.2" r="0.41" opacity="0.83"/><circle cx="462.1" cy="117.4" r="0.41" opacity="0.63"/><circle cx="522.9" cy="82.3" r="0.71" opacity="0.65"/><circle cx="515.1" cy="157.3" r="0.48" opacity="0.83"/><circle cx="448.8" cy="136.3" r="0.80" opacity="0.57"/><circle cx="470.5" cy="93.7" r="0.87" opacity="0.80"/><circle cx="453.8" cy="146.6" r="0.41" opacity="0.71"/><circle cx="484.9" cy="174.7" r="0.80" opacity="0.90"/><circle cx="448.9" cy="176.9" r="0.79" opacity="0.64"/><circle cx="500.5" cy="192.5" r="0.46" opacity="0.68"/><circle cx="569.8" cy="129.0" r="0.51" opacity="0.75"/><circle cx="511.5" cy="185.3" r="0.41" opacity="0.65"/><circle cx="521.7" cy="100.8" r="0.64" opacity="0.61"/><circle cx="495.7" cy="103.4" r="0.78" opacity="0.64"/><circle cx="585.7" cy="124.7" r="0.89" opacity="0.80"/><circle cx="571.5" cy="180.2" r="0.89" opacity="0.56"/><circle cx="525.3" cy="93.2" r="0.49" opacity="0.91"/><circle cx="539.9" cy="65.7" r="0.63" opacity="0.93"/><circle cx="533.5" cy="142.4" r="0.54" opacity="0.65"/><circle cx="468.0" cy="191.6" r="0.95" opacity="0.68"/><circle cx="523.5" cy="82.7" r="0.48" opacity="0.77"/><circle cx="560.3" cy="176.2" r="0.59" opacity="0.83"/><circle cx="520.9" cy="72.5" r="1.00" opacity="0.94"/><circle cx="466.9" cy="186.3" r="0.95" opacity="0.68"/><circle cx="525.7" cy="188.5" r="0.47" opacity="0.68"/><circle cx="571.6" cy="156.9" r="0.86" opacity="0.90"/><circle cx="505.2" cy="111.8" r="0.67" opacity="0.92"/><circle cx="573.7" cy="186.3" r="0.56" opacity="0.86"/><circle cx="461.4" cy="79.5" r="0.86" opacity="0.79"/><circle cx="484.3" cy="134.1" r="0.54" opacity="0.64"/><circle cx="544.2" cy="104.4" r="0.81" opacity="0.74"/><circle cx="517.8" cy="139.4" r="0.83" opacity="0.70"/><circle cx="567.7" cy="123.3" r="0.48" opacity="0.63"/><circle cx="450.8" cy="162.2" r="0.41" opacity="0.66"/><circle cx="505.1" cy="159.1" r="0.99" opacity="0.85"/><circle cx="455.6" cy="185.4" r="0.99" opacity="0.90"/><circle cx="516.1" cy="99.5" r="0.67" opacity="0.65"/><circle cx="503.9" cy="59.2" r="0.84" opacity="0.70"/><circle cx="490.8" cy="140.4" r="0.85" opacity="0.79"/><circle cx="521.1" cy="178.1" r="0.87" opacity="0.76"/><circle cx="510.6" cy="171.1" r="0.43" opacity="0.95"/><circle cx="520.2" cy="109.6" r="0.84" opacity="0.77"/><circle cx="519.8" cy="143.1" r="0.43" opacity="0.67"/><circle cx="503.0" cy="96.6" r="0.90" opacity="0.73"/><circle cx="506.4" cy="140.6" r="0.43" opacity="0.76"/><circle cx="466.5" cy="171.5" r="0.67" opacity="0.84"/><circle cx="462.3" cy="164.2" r="0.96" opacity="0.83"/><circle cx="465.5" cy="112.2" r="0.67" opacity="0.62"/><circle cx="530.4" cy="154.8" r="0.52" opacity="0.73"/><circle cx="481.9" cy="151.8" r="0.94" opacity="0.87"/><circle cx="548.6" cy="70.8" r="0.47" opacity="0.73"/><circle cx="498.0" cy="127.9" r="0.63" opacity="0.87"/><circle cx="519.2" cy="188.6" r="0.63" opacity="0.70"/><circle cx="555.8" cy="183.3" r="0.74" opacity="0.81"/><circle cx="467.6" cy="177.1" r="0.51" opacity="0.83"/><circle cx="506.0" cy="97.3" r="0.86" opacity="0.73"/><circle cx="535.5" cy="70.0" r="0.48" opacity="0.63"/><circle cx="535.0" cy="89.3" r="0.68" opacity="0.89"/><circle cx="523.7" cy="54.0" r="0.93" opacity="0.65"/><circle cx="530.2" cy="121.0" r="0.65" opacity="0.58"/><circle cx="531.8" cy="88.1" r="0.73" opacity="0.80"/><circle cx="525.7" cy="170.9" r="0.43" opacity="0.61"/><circle cx="539.4" cy="58.4" r="0.91" opacity="0.82"/><circle cx="565.7" cy="95.8" r="0.95" opacity="0.57"/><circle cx="505.7" cy="78.6" r="0.80" opacity="0.79"/><circle cx="544.8" cy="138.0" r="0.87" opacity="0.62"/><circle cx="511.1" cy="135.8" r="0.96" opacity="0.59"/><circle cx="488.9" cy="105.8" r="0.63" opacity="0.58"/><circle cx="507.1" cy="131.7" r="0.58" opacity="0.60"/><circle cx="545.3" cy="92.3" r="0.72" opacity="0.76"/><circle cx="545.4" cy="140.5" r="0.47" opacity="0.84"/><circle cx="535.9" cy="194.0" r="0.69" opacity="0.83"/><circle cx="579.4" cy="193.8" r="0.57" opacity="0.79"/><circle cx="491.3" cy="128.1" r="1.00" opacity="0.69"/><circle cx="464.7" cy="133.4" r="0.71" opacity="0.80"/><circle cx="516.4" cy="78.9" r="0.77" opacity="0.83"/><circle cx="585.8" cy="53.4" r="0.41" opacity="0.80"/><circle cx="463.0" cy="174.1" r="0.88" opacity="0.95"/><circle cx="505.2" cy="100.8" r="0.74" opacity="0.81"/><circle cx="447.8" cy="81.9" r="0.57" opacity="0.87"/><circle cx="490.1" cy="125.5" r="0.59" opacity="0.55"/><circle cx="544.0" cy="101.9" r="0.83" opacity="0.80"/><circle cx="450.4" cy="78.2" r="0.60" opacity="0.69"/><circle cx="542.1" cy="183.8" r="0.88" opacity="0.81"/><circle cx="514.9" cy="142.6" r="0.94" opacity="0.76"/><circle cx="494.0" cy="165.0" r="0.65" opacity="0.85"/><circle cx="565.3" cy="95.9" r="0.83" opacity="0.68"/><circle cx="522.6" cy="82.9" r="0.81" opacity="0.87"/><circle cx="572.8" cy="103.6" r="0.98" opacity="0.66"/><circle cx="450.6" cy="193.5" r="0.78" opacity="0.89"/><circle cx="527.6" cy="108.8" r="0.76" opacity="0.90"/><circle cx="553.4" cy="153.8" r="0.59" opacity="0.56"/><circle cx="505.2" cy="124.1" r="0.54" opacity="0.73"/><circle cx="581.8" cy="84.0" r="0.58" opacity="0.59"/><circle cx="558.1" cy="164.1" r="0.95" opacity="0.73"/><circle cx="449.8" cy="122.0" r="0.70" opacity="0.63"/><circle cx="577.9" cy="157.6" r="0.71" opacity="0.86"/><circle cx="466.6" cy="177.5" r="0.89" opacity="0.93"/><circle cx="542.7" cy="72.1" r="0.83" opacity="0.73"/><circle cx="548.0" cy="127.7" r="0.40" opacity="0.92"/><circle cx="544.2" cy="137.9" r="0.45" opacity="0.74"/><circle cx="452.8" cy="127.4" r="0.80" opacity="0.67"/><circle cx="528.6" cy="97.7" r="0.94" opacity="0.68"/><circle cx="473.7" cy="92.7" r="0.59" opacity="0.73"/><circle cx="463.0" cy="74.5" r="0.56" opacity="0.56"/><circle cx="535.0" cy="126.5" r="0.52" opacity="0.69"/><circle cx="491.6" cy="73.4" r="0.82" opacity="0.66"/><circle cx="481.1" cy="63.4" r="0.77" opacity="0.69"/><circle cx="509.5" cy="71.7" r="0.68" opacity="0.82"/><circle cx="461.3" cy="60.9" r="0.66" opacity="0.62"/><circle cx="531.2" cy="137.7" r="0.90" opacity="0.83"/><circle cx="534.1" cy="97.8" r="0.89" opacity="0.84"/><circle cx="541.9" cy="129.3" r="0.98" opacity="0.85"/><circle cx="512.6" cy="72.0" r="0.89" opacity="0.92"/><circle cx="513.0" cy="118.2" r="0.81" opacity="0.83"/><circle cx="512.6" cy="86.2" r="0.53" opacity="0.89"/><circle cx="534.2" cy="183.4" r="0.64" opacity="0.83"/><circle cx="541.1" cy="165.7" r="0.93" opacity="0.73"/><circle cx="450.5" cy="121.0" r="0.61" opacity="0.73"/><circle cx="470.6" cy="162.7" r="0.76" opacity="0.60"/><circle cx="460.9" cy="169.8" r="0.88" opacity="0.68"/><circle cx="538.8" cy="166.2" r="0.72" opacity="0.71"/><circle cx="505.2" cy="141.7" r="0.73" opacity="0.94"/><circle cx="500.9" cy="101.8" r="0.89" opacity="0.79"/><circle cx="558.0" cy="115.3" r="0.87" opacity="0.77"/><circle cx="479.9" cy="147.7" r="0.45" opacity="0.92"/><circle cx="528.1" cy="122.6" r="0.76" opacity="0.74"/><circle cx="525.4" cy="170.4" r="0.51" opacity="0.93"/><circle cx="456.1" cy="68.7" r="0.89" opacity="0.86"/><circle cx="500.2" cy="123.7" r="0.80" opacity="0.59"/><circle cx="562.7" cy="179.7" r="0.94" opacity="0.80"/><circle cx="446.2" cy="74.1" r="0.49" opacity="0.76"/><circle cx="501.8" cy="135.6" r="0.52" opacity="0.82"/><circle cx="491.3" cy="134.5" r="0.95" opacity="0.67"/><circle cx="580.7" cy="115.2" r="0.99" opacity="0.69"/><circle cx="458.9" cy="54.4" r="0.99" opacity="0.71"/><circle cx="464.4" cy="95.2" r="0.62" opacity="0.77"/><circle cx="453.8" cy="153.5" r="0.89" opacity="0.69"/><circle cx="569.0" cy="176.6" r="0.54" opacity="0.83"/><circle cx="502.4" cy="98.6" r="0.63" opacity="0.70"/><circle cx="523.9" cy="147.7" r="0.68" opacity="0.63"/><circle cx="501.0" cy="185.0" r="0.90" opacity="0.61"/><circle cx="588.4" cy="148.8" r="0.48" opacity="0.58"/><circle cx="448.4" cy="156.1" r="0.69" opacity="0.72"/><circle cx="587.4" cy="65.3" r="0.79" opacity="0.72"/><circle cx="511.2" cy="165.7" r="0.76" opacity="0.72"/><circle cx="471.8" cy="125.8" r="0.73" opacity="0.73"/><circle cx="496.9" cy="79.7" r="0.76" opacity="0.78"/><circle cx="567.0" cy="87.0" r="0.70" opacity="0.71"/><circle cx="524.1" cy="105.5" r="0.99" opacity="0.78"/><circle cx="546.7" cy="69.3" r="0.69" opacity="0.83"/><circle cx="466.5" cy="157.5" r="0.99" opacity="0.94"/><circle cx="557.3" cy="119.5" r="0.45" opacity="0.91"/><circle cx="458.8" cy="120.6" r="0.85" opacity="0.93"/><circle cx="457.3" cy="143.6" r="0.88" opacity="0.67"/><circle cx="453.7" cy="102.2" r="0.87" opacity="0.74"/><circle cx="519.3" cy="120.1" r="0.84" opacity="0.72"/><circle cx="583.2" cy="167.0" r="0.57" opacity="0.56"/><circle cx="577.8" cy="160.1" r="0.84" opacity="0.78"/><circle cx="455.0" cy="120.7" r="0.50" opacity="0.57"/><circle cx="587.4" cy="168.5" r="0.77" opacity="0.66"/><circle cx="458.0" cy="125.3" r="0.91" opacity="0.66"/><circle cx="465.1" cy="93.3" r="0.91" opacity="0.56"/><circle cx="462.1" cy="78.1" r="0.76" opacity="0.61"/><circle cx="509.9" cy="168.4" r="0.56" opacity="0.83"/><circle cx="515.3" cy="167.2" r="0.92" opacity="0.69"/><circle cx="458.2" cy="73.9" r="0.96" opacity="0.61"/><circle cx="516.9" cy="194.9" r="0.86" opacity="0.65"/><circle cx="509.0" cy="144.1" r="0.53" opacity="0.84"/><circle cx="495.4" cy="144.8" r="0.85" opacity="0.60"/><circle cx="470.1" cy="110.1" r="0.58" opacity="0.85"/><circle cx="553.5" cy="129.1" r="0.63" opacity="0.83"/><circle cx="513.9" cy="73.9" r="0.92" opacity="0.55"/><circle cx="578.4" cy="117.2" r="0.81" opacity="0.93"/><circle cx="543.6" cy="59.0" r="0.95" opacity="0.80"/><circle cx="582.6" cy="114.8" r="0.95" opacity="0.89"/><circle cx="494.0" cy="91.3" r="0.46" opacity="0.81"/><circle cx="502.0" cy="163.5" r="0.85" opacity="0.84"/><circle cx="530.2" cy="81.0" r="0.60" opacity="0.83"/><circle cx="471.9" cy="131.3" r="0.80" opacity="0.88"/><circle cx="447.9" cy="67.1" r="0.46" opacity="0.73"/><circle cx="477.5" cy="93.6" r="0.52" opacity="0.56"/><circle cx="459.3" cy="187.0" r="0.79" opacity="0.88"/><circle cx="581.7" cy="144.2" r="0.82" opacity="0.60"/><circle cx="568.3" cy="71.7" r="0.79" opacity="0.91"/><circle cx="526.9" cy="191.1" r="0.94" opacity="0.83"/><circle cx="482.3" cy="119.8" r="0.96" opacity="0.81"/><circle cx="577.8" cy="92.6" r="0.66" opacity="0.91"/><circle cx="556.0" cy="99.3" r="0.50" opacity="0.58"/><circle cx="557.0" cy="107.8" r="0.60" opacity="0.57"/><circle cx="582.5" cy="90.9" r="0.66" opacity="0.75"/><circle cx="578.6" cy="140.2" r="0.51" opacity="0.75"/><circle cx="466.7" cy="162.8" r="0.53" opacity="0.81"/><circle cx="576.3" cy="155.2" r="0.46" opacity="0.58"/><circle cx="527.7" cy="88.9" r="0.67" opacity="0.91"/><circle cx="467.4" cy="144.5" r="0.96" opacity="0.82"/><circle cx="484.2" cy="153.0" r="0.94" opacity="0.78"/><circle cx="519.7" cy="187.2" r="0.69" opacity="0.72"/><circle cx="566.6" cy="164.6" r="0.87" opacity="0.77"/><circle cx="446.7" cy="189.3" r="0.89" opacity="0.74"/><circle cx="527.1" cy="186.5" r="0.62" opacity="0.82"/><circle cx="503.3" cy="143.4" r="0.98" opacity="0.59"/><circle cx="522.4" cy="190.2" r="0.45" opacity="0.73"/><circle cx="555.5" cy="145.6" r="0.51" opacity="0.57"/><circle cx="501.0" cy="80.4" r="0.82" opacity="0.91"/><circle cx="536.1" cy="104.4" r="0.45" opacity="0.80"/><circle cx="551.1" cy="73.2" r="0.52" opacity="0.84"/><circle cx="530.8" cy="123.0" r="0.44" opacity="0.77"/><circle cx="490.1" cy="129.3" r="0.90" opacity="0.73"/><circle cx="588.2" cy="58.5" r="0.43" opacity="0.87"/><circle cx="452.3" cy="70.1" r="0.88" opacity="0.82"/><circle cx="511.6" cy="149.9" r="0.92" opacity="0.61"/><circle cx="528.8" cy="185.1" r="0.42" opacity="0.61"/><circle cx="539.4" cy="120.4" r="0.95" opacity="0.57"/><circle cx="546.2" cy="71.8" r="0.50" opacity="0.57"/><circle cx="490.0" cy="166.4" r="0.67" opacity="0.62"/><circle cx="530.5" cy="169.8" r="0.46" opacity="0.75"/><circle cx="560.2" cy="84.7" r="0.88" opacity="0.72"/><circle cx="561.9" cy="193.3" r="0.81" opacity="0.68"/><circle cx="585.4" cy="135.3" r="0.48" opacity="0.88"/><circle cx="559.3" cy="162.2" r="0.76" opacity="0.68"/><circle cx="463.4" cy="73.3" r="0.65" opacity="0.83"/><circle cx="525.1" cy="115.8" r="0.96" opacity="0.57"/><circle cx="460.5" cy="174.0" r="0.77" opacity="0.86"/><circle cx="448.4" cy="122.6" r="0.40" opacity="0.62"/><circle cx="458.9" cy="146.1" r="0.93" opacity="0.72"/><circle cx="561.3" cy="163.4" r="0.82" opacity="0.63"/><circle cx="537.4" cy="127.8" r="0.65" opacity="0.93"/><circle cx="533.3" cy="58.6" r="0.51" opacity="0.75"/><circle cx="581.7" cy="142.6" r="0.87" opacity="0.69"/><circle cx="446.9" cy="86.8" r="0.47" opacity="0.76"/><circle cx="459.8" cy="104.8" r="0.86" opacity="0.77"/><circle cx="477.5" cy="163.0" r="0.80" opacity="0.66"/><circle cx="473.8" cy="166.8" r="0.81" opacity="0.94"/><circle cx="513.9" cy="78.3" r="0.80" opacity="0.57"/><circle cx="538.2" cy="93.9" r="0.66" opacity="0.68"/><circle cx="561.0" cy="161.3" r="0.43" opacity="0.85"/><circle cx="578.1" cy="78.3" r="0.87" opacity="0.74"/><circle cx="462.8" cy="180.8" r="0.83" opacity="0.79"/><circle cx="492.7" cy="81.5" r="0.81" opacity="0.68"/><circle cx="557.3" cy="99.7" r="0.46" opacity="0.85"/><circle cx="570.2" cy="106.8" r="0.53" opacity="0.74"/><circle cx="515.3" cy="180.2" r="0.49" opacity="0.92"/><circle cx="511.1" cy="108.4" r="0.48" opacity="0.84"/><circle cx="536.3" cy="192.3" r="0.52" opacity="0.60"/><circle cx="544.9" cy="61.7" r="0.48" opacity="0.89"/><circle cx="511.6" cy="77.6" r="0.61" opacity="0.90"/><circle cx="532.3" cy="165.8" r="0.78" opacity="0.79"/><circle cx="470.4" cy="191.5" r="0.91" opacity="0.58"/><circle cx="568.4" cy="123.0" r="1.00" opacity="0.79"/><circle cx="565.6" cy="93.0" r="0.84" opacity="0.84"/><circle cx="481.4" cy="99.9" r="0.75" opacity="0.91"/><circle cx="530.6" cy="74.4" r="0.74" opacity="0.55"/><circle cx="586.0" cy="58.9" r="0.68" opacity="0.86"/><circle cx="451.0" cy="128.9" r="0.69" opacity="0.87"/><circle cx="563.3" cy="117.7" r="0.54" opacity="0.77"/><circle cx="448.0" cy="157.6" r="0.97" opacity="0.60"/><circle cx="488.4" cy="145.6" r="0.45" opacity="0.74"/><circle cx="489.7" cy="153.5" r="0.91" opacity="0.85"/><circle cx="449.7" cy="118.1" r="0.86" opacity="0.90"/><circle cx="504.0" cy="165.8" r="0.62" opacity="0.74"/><circle cx="536.5" cy="175.9" r="0.44" opacity="0.91"/><circle cx="493.7" cy="57.9" r="0.66" opacity="0.66"/><circle cx="581.1" cy="130.6" r="0.88" opacity="0.87"/><circle cx="457.7" cy="178.8" r="0.84" opacity="0.57"/><circle cx="581.0" cy="149.4" r="0.93" opacity="0.59"/><circle cx="498.3" cy="141.5" r="0.62" opacity="0.62"/><circle cx="525.9" cy="62.8" r="0.83" opacity="0.63"/><circle cx="586.1" cy="87.2" r="0.47" opacity="0.74"/><circle cx="580.1" cy="135.9" r="0.98" opacity="0.63"/><circle cx="552.4" cy="85.3" r="0.61" opacity="0.66"/><circle cx="543.2" cy="92.7" r="0.44" opacity="0.69"/><circle cx="515.5" cy="128.3" r="0.47" opacity="0.83"/><circle cx="542.9" cy="129.2" r="0.58" opacity="0.80"/><circle cx="560.3" cy="188.0" r="0.89" opacity="0.93"/><circle cx="455.6" cy="180.4" r="0.67" opacity="0.58"/><circle cx="574.2" cy="94.3" r="0.97" opacity="0.59"/><circle cx="485.5" cy="152.6" r="0.70" opacity="0.90"/><circle cx="520.5" cy="142.6" r="0.58" opacity="0.94"/><circle cx="523.4" cy="72.0" r="0.61" opacity="0.73"/><circle cx="538.1" cy="94.8" r="0.44" opacity="0.90"/><circle cx="479.3" cy="188.3" r="0.79" opacity="0.71"/><circle cx="495.1" cy="145.3" r="0.60" opacity="0.79"/><circle cx="545.6" cy="173.3" r="0.67" opacity="0.67"/><circle cx="465.0" cy="165.8" r="0.50" opacity="0.65"/><circle cx="515.3" cy="191.6" r="0.86" opacity="0.57"/><circle cx="496.6" cy="118.2" r="0.50" opacity="0.92"/><circle cx="547.7" cy="93.9" r="0.98" opacity="0.89"/><circle cx="545.0" cy="148.2" r="0.49" opacity="0.65"/><circle cx="452.1" cy="98.4" r="0.48" opacity="0.65"/><circle cx="472.5" cy="133.4" r="0.42" opacity="0.68"/><circle cx="495.2" cy="106.4" r="0.72" opacity="0.62"/><circle cx="489.2" cy="184.5" r="0.64" opacity="0.75"/><circle cx="466.9" cy="118.5" r="0.59" opacity="0.55"/><circle cx="551.5" cy="192.3" r="0.60" opacity="0.83"/><circle cx="513.8" cy="94.5" r="0.97" opacity="0.94"/><circle cx="528.0" cy="74.2" r="0.74" opacity="0.91"/><circle cx="509.2" cy="151.5" r="0.84" opacity="0.91"/><circle cx="466.1" cy="131.8" r="0.58" opacity="0.71"/><circle cx="566.1" cy="116.8" r="0.46" opacity="0.57"/><circle cx="537.7" cy="136.4" r="0.53" opacity="0.92"/><circle cx="485.8" cy="56.4" r="0.72" opacity="0.73"/><circle cx="542.0" cy="65.7" r="0.71" opacity="0.63"/><circle cx="491.5" cy="139.5" r="0.97" opacity="0.91"/><circle cx="497.7" cy="74.3" r="0.91" opacity="0.70"/><circle cx="499.4" cy="93.8" r="0.61" opacity="0.94"/><circle cx="570.9" cy="65.7" r="0.84" opacity="0.73"/><circle cx="587.7" cy="167.8" r="0.57" opacity="0.87"/><circle cx="584.6" cy="113.6" r="0.94" opacity="0.61"/><circle cx="529.9" cy="65.5" r="0.52" opacity="0.74"/><circle cx="569.9" cy="193.9" r="0.44" opacity="0.93"/><circle cx="554.0" cy="65.8" r="0.65" opacity="0.92"/><circle cx="505.3" cy="132.5" r="0.83" opacity="0.85"/><circle cx="465.7" cy="79.7" r="0.63" opacity="0.77"/><circle cx="452.2" cy="171.0" r="0.90" opacity="0.67"/><circle cx="526.0" cy="119.3" r="0.42" opacity="0.55"/><circle cx="483.7" cy="189.5" r="0.90" opacity="0.74"/><circle cx="539.4" cy="180.5" r="0.65" opacity="0.75"/><circle cx="544.3" cy="88.1" r="0.47" opacity="0.66"/><circle cx="588.0" cy="62.7" r="0.85" opacity="0.78"/><circle cx="526.9" cy="177.0" r="0.78" opacity="0.74"/><circle cx="545.2" cy="70.3" r="0.71" opacity="0.78"/><circle cx="566.7" cy="76.4" r="0.44" opacity="0.68"/><circle cx="571.4" cy="72.5" r="0.50" opacity="0.66"/><circle cx="506.0" cy="183.3" r="0.61" opacity="0.67"/><circle cx="521.7" cy="186.7" r="0.71" opacity="0.86"/><circle cx="472.3" cy="66.7" r="0.85" opacity="0.77"/><circle cx="570.6" cy="171.1" r="0.81" opacity="0.67"/><circle cx="543.9" cy="151.4" r="0.46" opacity="0.78"/><circle cx="563.6" cy="55.0" r="0.71" opacity="0.70"/><circle cx="515.3" cy="101.7" r="0.95" opacity="0.59"/><circle cx="468.2" cy="84.7" r="0.51" opacity="0.91"/><circle cx="533.7" cy="171.8" r="0.72" opacity="0.76"/><circle cx="524.8" cy="161.0" r="0.47" opacity="0.73"/><circle cx="457.1" cy="170.0" r="0.95" opacity="0.74"/><circle cx="490.6" cy="104.9" r="0.89" opacity="0.91"/><circle cx="531.4" cy="162.1" r="0.61" opacity="0.83"/><circle cx="450.3" cy="169.4" r="0.53" opacity="0.89"/><circle cx="466.5" cy="85.5" r="0.48" opacity="0.60"/><circle cx="457.4" cy="151.7" r="0.87" opacity="0.58"/><circle cx="556.7" cy="161.2" r="0.43" opacity="0.59"/><circle cx="559.3" cy="126.4" r="0.44" opacity="0.60"/><circle cx="482.3" cy="62.6" r="0.80" opacity="0.85"/><circle cx="557.8" cy="184.4" r="0.52" opacity="0.91"/><circle cx="472.5" cy="103.3" r="0.45" opacity="0.89"/><circle cx="580.5" cy="188.5" r="0.61" opacity="0.61"/><circle cx="517.6" cy="157.1" r="0.55" opacity="0.78"/><circle cx="460.3" cy="135.6" r="0.41" opacity="0.64"/><circle cx="473.5" cy="93.4" r="0.94" opacity="0.76"/><circle cx="585.0" cy="67.3" r="0.53" opacity="0.75"/><circle cx="547.1" cy="105.5" r="0.75" opacity="0.73"/><circle cx="582.8" cy="79.0" r="0.61" opacity="0.70"/><circle cx="476.8" cy="85.6" r="0.47" opacity="0.94"/><circle cx="463.8" cy="68.9" r="0.48" opacity="0.85"/><circle cx="546.7" cy="132.6" r="0.42" opacity="0.68"/><circle cx="462.7" cy="93.6" r="0.76" opacity="0.67"/><circle cx="585.4" cy="116.5" r="0.73" opacity="0.67"/><circle cx="568.2" cy="80.1" r="0.44" opacity="0.89"/><circle cx="514.0" cy="150.0" r="0.51" opacity="0.95"/><circle cx="516.3" cy="68.2" r="0.66" opacity="0.81"/><circle cx="458.3" cy="73.6" r="0.64" opacity="0.79"/><circle cx="460.7" cy="185.1" r="0.99" opacity="0.58"/><circle cx="585.3" cy="101.5" r="0.76" opacity="0.95"/><circle cx="463.7" cy="172.7" r="0.84" opacity="0.66"/><circle cx="547.9" cy="136.2" r="0.56" opacity="0.87"/><circle cx="538.0" cy="110.3" r="0.69" opacity="0.79"/><circle cx="503.9" cy="122.3" r="0.57" opacity="0.86"/><circle cx="461.6" cy="88.9" r="0.70" opacity="0.80"/><circle cx="465.4" cy="67.4" r="0.43" opacity="0.58"/><circle cx="542.9" cy="191.8" r="0.63" opacity="0.82"/><circle cx="468.0" cy="141.9" r="0.46" opacity="0.58"/><circle cx="553.4" cy="162.7" r="0.88" opacity="0.63"/><circle cx="540.6" cy="123.1" r="0.56" opacity="0.69"/><circle cx="568.8" cy="131.1" r="0.97" opacity="0.56"/><circle cx="507.6" cy="183.7" r="0.63" opacity="0.68"/><circle cx="499.9" cy="118.7" r="0.42" opacity="0.77"/><circle cx="568.9" cy="96.4" r="0.82" opacity="0.75"/><circle cx="465.4" cy="155.3" r="0.69" opacity="0.59"/><circle cx="542.5" cy="147.3" r="0.81" opacity="0.78"/><circle cx="514.1" cy="175.0" r="0.70" opacity="0.71"/><circle cx="516.7" cy="191.6" r="0.77" opacity="0.69"/><circle cx="585.6" cy="98.9" r="0.42" opacity="0.57"/><circle cx="565.5" cy="102.9" r="0.85" opacity="0.56"/><circle cx="573.3" cy="101.9" r="0.46" opacity="0.69"/><circle cx="497.2" cy="103.3" r="0.80" opacity="0.65"/><circle cx="538.6" cy="137.7" r="0.95" opacity="0.58"/><circle cx="489.7" cy="101.3" r="0.41" opacity="0.68"/><circle cx="511.9" cy="176.3" r="0.74" opacity="0.91"/><circle cx="484.2" cy="152.4" r="0.75" opacity="0.94"/><circle cx="500.1" cy="108.9" r="0.74" opacity="0.87"/><circle cx="460.5" cy="149.5" r="0.60" opacity="0.75"/><circle cx="555.3" cy="101.6" r="0.77" opacity="0.70"/><circle cx="508.4" cy="124.1" r="0.91" opacity="0.86"/><circle cx="566.0" cy="129.6" r="0.57" opacity="0.57"/><circle cx="588.3" cy="110.5" r="0.54" opacity="0.85"/><circle cx="459.3" cy="173.6" r="0.46" opacity="0.68"/><circle cx="455.8" cy="167.4" r="0.69" opacity="0.63"/><circle cx="559.7" cy="146.1" r="0.58" opacity="0.87"/><circle cx="507.9" cy="130.2" r="0.52" opacity="0.71"/><circle cx="535.3" cy="117.8" r="0.86" opacity="0.62"/><circle cx="448.9" cy="153.5" r="0.92" opacity="0.78"/><circle cx="476.6" cy="190.4" r="0.85" opacity="0.74"/><circle cx="579.8" cy="129.2" r="0.77" opacity="0.86"/><circle cx="508.0" cy="133.9" r="0.78" opacity="0.76"/><circle cx="498.1" cy="74.3" r="0.49" opacity="0.82"/><circle cx="489.0" cy="115.3" r="0.59" opacity="0.88"/><circle cx="455.4" cy="82.2" r="0.65" opacity="0.88"/><circle cx="538.3" cy="89.8" r="0.76" opacity="0.71"/><circle cx="462.4" cy="80.6" r="0.55" opacity="0.88"/><circle cx="512.4" cy="133.0" r="0.66" opacity="0.81"/><circle cx="451.5" cy="75.9" r="0.48" opacity="0.65"/><circle cx="560.8" cy="147.1" r="0.51" opacity="0.89"/><circle cx="583.6" cy="122.5" r="0.41" opacity="0.89"/><circle cx="458.2" cy="139.0" r="0.92" opacity="0.91"/><circle cx="504.2" cy="105.0" r="0.79" opacity="0.59"/><circle cx="580.7" cy="156.5" r="0.48" opacity="0.59"/><circle cx="550.9" cy="186.2" r="0.71" opacity="0.88"/><circle cx="581.6" cy="186.0" r="0.55" opacity="0.90"/><circle cx="480.1" cy="70.6" r="0.88" opacity="0.68"/><circle cx="529.5" cy="108.8" r="0.85" opacity="0.64"/><circle cx="506.5" cy="73.8" r="0.51" opacity="0.94"/><circle cx="508.9" cy="89.5" r="0.75" opacity="0.75"/><circle cx="499.6" cy="188.5" r="0.59" opacity="0.72"/><circle cx="543.6" cy="190.6" r="0.93" opacity="0.92"/><circle cx="498.0" cy="155.3" r="0.89" opacity="0.56"/><circle cx="584.1" cy="139.6" r="0.90" opacity="0.81"/><circle cx="580.4" cy="151.7" r="0.87" opacity="0.65"/><circle cx="525.0" cy="97.3" r="0.98" opacity="0.70"/><circle cx="562.0" cy="70.6" r="0.92" opacity="0.89"/><circle cx="501.6" cy="182.9" r="0.64" opacity="0.94"/><circle cx="482.6" cy="66.1" r="0.89" opacity="0.64"/><circle cx="476.2" cy="180.1" r="0.95" opacity="0.80"/><circle cx="571.6" cy="162.5" r="0.64" opacity="0.56"/><circle cx="569.8" cy="170.6" r="0.96" opacity="0.74"/><circle cx="505.1" cy="173.1" r="0.83" opacity="0.90"/><circle cx="563.2" cy="170.8" r="0.82" opacity="0.75"/><circle cx="496.4" cy="139.1" r="0.89" opacity="0.85"/><circle cx="510.8" cy="57.1" r="0.43" opacity="0.81"/><circle cx="536.1" cy="166.0" r="0.48" opacity="0.71"/><circle cx="535.8" cy="97.9" r="0.45" opacity="0.61"/><circle cx="519.8" cy="191.5" r="0.90" opacity="0.86"/><circle cx="567.0" cy="151.0" r="0.88" opacity="0.68"/><circle cx="514.4" cy="158.0" r="0.56" opacity="0.82"/><circle cx="564.1" cy="167.2" r="0.52" opacity="0.72"/><circle cx="472.1" cy="178.2" r="0.97" opacity="0.90"/><circle cx="478.2" cy="188.4" r="0.95" opacity="0.81"/><circle cx="535.6" cy="182.5" r="0.98" opacity="0.63"/><circle cx="546.2" cy="77.3" r="0.64" opacity="0.72"/><circle cx="483.3" cy="65.9" r="0.62" opacity="0.93"/><circle cx="462.9" cy="155.7" r="0.66" opacity="0.92"/><circle cx="510.9" cy="149.3" r="0.47" opacity="0.84"/><circle cx="473.4" cy="176.1" r="0.87" opacity="0.67"/><circle cx="516.7" cy="71.8" r="0.91" opacity="0.79"/><circle cx="588.1" cy="93.6" r="0.81" opacity="0.72"/><circle cx="504.5" cy="74.0" r="0.57" opacity="0.65"/><circle cx="534.3" cy="182.6" r="0.62" opacity="0.82"/><circle cx="511.5" cy="54.7" r="0.48" opacity="0.68"/><circle cx="545.0" cy="151.1" r="0.83" opacity="0.83"/><circle cx="551.2" cy="89.7" r="0.46" opacity="0.57"/><circle cx="493.7" cy="86.7" r="0.94" opacity="0.95"/><circle cx="580.1" cy="191.1" r="0.76" opacity="0.85"/><circle cx="452.7" cy="89.4" r="0.77" opacity="0.67"/><circle cx="502.5" cy="106.1" r="0.98" opacity="0.77"/><circle cx="529.0" cy="90.3" r="0.70" opacity="0.92"/><circle cx="571.4" cy="72.0" r="0.59" opacity="0.76"/><circle cx="466.4" cy="69.9" r="0.43" opacity="0.60"/><circle cx="570.5" cy="172.2" r="0.85" opacity="0.92"/><circle cx="486.5" cy="178.3" r="0.77" opacity="0.85"/><circle cx="483.8" cy="97.8" r="0.94" opacity="0.68"/><circle cx="588.0" cy="162.1" r="0.49" opacity="0.89"/><circle cx="539.9" cy="167.0" r="0.43" opacity="0.61"/><circle cx="479.0" cy="58.3" r="0.56" opacity="0.83"/><circle cx="508.4" cy="195.1" r="0.96" opacity="0.57"/><circle cx="497.0" cy="154.3" r="0.69" opacity="0.75"/><circle cx="566.8" cy="176.8" r="0.47" opacity="0.59"/><circle cx="570.0" cy="79.0" r="0.50" opacity="0.75"/><circle cx="485.1" cy="180.2" r="0.75" opacity="0.78"/><circle cx="584.8" cy="128.2" r="0.74" opacity="0.72"/><circle cx="457.2" cy="162.8" r="0.81" opacity="0.90"/><circle cx="449.9" cy="150.4" r="0.81" opacity="0.71"/><circle cx="530.4" cy="188.8" r="0.90" opacity="0.61"/><circle cx="457.8" cy="171.7" r="0.80" opacity="0.73"/><circle cx="582.4" cy="137.9" r="0.40" opacity="0.94"/><circle cx="539.8" cy="188.8" r="0.59" opacity="0.84"/><circle cx="550.9" cy="189.7" r="0.74" opacity="0.63"/><circle cx="453.1" cy="145.0" r="0.59" opacity="0.57"/><circle cx="456.3" cy="188.9" r="0.63" opacity="0.71"/><circle cx="471.6" cy="190.8" r="0.92" opacity="0.59"/><circle cx="567.7" cy="76.4" r="0.87" opacity="0.66"/><circle cx="553.5" cy="146.5" r="0.47" opacity="0.75"/><circle cx="507.9" cy="168.2" r="0.59" opacity="0.82"/><circle cx="464.9" cy="148.1" r="0.90" opacity="0.76"/><circle cx="516.0" cy="179.5" r="0.69" opacity="0.78"/><circle cx="506.5" cy="161.1" r="0.89" opacity="0.80"/><circle cx="508.1" cy="114.0" r="0.42" opacity="0.69"/><circle cx="512.3" cy="85.2" r="0.81" opacity="0.61"/><circle cx="516.8" cy="143.0" r="0.71" opacity="0.67"/><circle cx="508.6" cy="182.6" r="0.69" opacity="0.61"/><circle cx="464.4" cy="182.0" r="0.90" opacity="0.76"/><circle cx="488.3" cy="60.0" r="0.45" opacity="0.57"/><circle cx="461.5" cy="113.8" r="0.46" opacity="0.81"/><circle cx="527.3" cy="89.3" r="0.55" opacity="0.58"/><circle cx="518.0" cy="69.4" r="0.80" opacity="0.62"/><circle cx="472.2" cy="109.2" r="0.45" opacity="0.90"/><circle cx="488.6" cy="136.9" r="0.67" opacity="0.82"/><circle cx="535.2" cy="91.0" r="0.98" opacity="0.90"/><circle cx="472.9" cy="79.6" r="0.85" opacity="0.79"/><circle cx="570.5" cy="68.4" r="0.72" opacity="0.55"/><circle cx="462.8" cy="77.7" r="0.69" opacity="0.83"/><circle cx="570.1" cy="190.9" r="0.76" opacity="0.74"/><circle cx="534.4" cy="192.1" r="0.62" opacity="0.82"/><circle cx="544.6" cy="109.5" r="0.58" opacity="0.60"/><circle cx="448.2" cy="69.2" r="0.41" opacity="0.94"/><circle cx="568.7" cy="83.0" r="0.79" opacity="0.81"/><circle cx="508.3" cy="142.5" r="0.87" opacity="0.63"/><circle cx="489.1" cy="119.3" r="0.68" opacity="0.56"/><circle cx="469.9" cy="74.9" r="0.82" opacity="0.94"/><circle cx="513.4" cy="175.8" r="0.75" opacity="0.63"/><circle cx="527.4" cy="172.1" r="0.43" opacity="0.55"/><circle cx="536.1" cy="154.9" r="0.99" opacity="0.89"/><circle cx="551.3" cy="138.2" r="0.73" opacity="0.67"/><circle cx="515.7" cy="122.5" r="0.75" opacity="0.79"/><circle cx="543.0" cy="169.7" r="0.69" opacity="0.84"/><circle cx="521.5" cy="113.4" r="0.59" opacity="0.58"/></g><path d="M478,102 C482,120 485,137 495,150 C505,163 520,178 534,190" fill="none" stroke="#2a0000" stroke-width="1.5" opacity="0.6"/><path d="M479.5,102 C483.5,120 486.5,137 496.5,150 C506.5,163 521.5,178 535.5,190" fill="none" stroke="#9a1a12" stroke-width="0.8" opacity="0.5"/><path d="M478,108 C476,140 470,170 470,196" fill="none" stroke="#3a0202" stroke-width="1" opacity="0.5"/><circle cx="467" cy="90" r="1.2" fill="#4fd030"/><circle cx="471" cy="91" r="1.0" fill="#4fd030"/><circle cx="500" cy="58" r="0.8" fill="#4fd030"/><circle cx="520" cy="150" r="0.6" fill="#4fd030"/><circle cx="533" cy="140" r="0.7" fill="#4fd030"/><circle cx="555" cy="72" r="0.7" fill="#4fd030"/><circle cx="470" cy="190" r="0.8" fill="#4fd030"/><circle cx="487" cy="170" r="0.6" fill="#4fd030"/><circle cx="586" cy="185" r="0.9" fill="#4fd030"/><circle cx="560" cy="175" r="0.7" fill="#4fd030"/><circle cx="510" cy="102" r="0.6" fill="#4fd030"/><circle cx="575" cy="100" r="0.6" fill="#4fd030"/><circle cx="459" cy="65" r="0.7" fill="#4fd030"/><circle cx="495" cy="130" r="0.6" fill="#4fd030"/><circle cx="538" cy="108" r="0.6" fill="#4fd030"/><circle cx="579" cy="160" r="0.6" fill="#4fd030"/><circle cx="451" cy="120" r="0.6" fill="#4fd030"/><circle cx="513" cy="190" r="0.7" fill="#4fd030"/><circle cx="563" cy="188" r="0.6" fill="#4fd030"/><line x1="507" y1="112" x2="510" y2="119" stroke="#6ab030" stroke-width="0.8"/><line x1="513" y1="124" x2="515" y2="130" stroke="#6ab030" stroke-width="0.8"/><line x1="560" y1="181" x2="564" y2="186" stroke="#6ab030" stroke-width="0.8"/><line x1="523" y1="113" x2="525" y2="118" stroke="#6ab030" stroke-width="0.8"/><g stroke="#5cb82a" stroke-width="0.8" opacity="0.75"><line x1="503.6" y1="82.5" x2="504.7" y2="83.2"/><line x1="553.2" y1="88.8" x2="554.0" y2="91.0"/><line x1="522.8" y1="184.6" x2="522.9" y2="186.3"/><line x1="534.0" y1="84.9" x2="532.5" y2="85.4"/><line x1="500.9" y1="149.3" x2="502.9" y2="150.4"/><line x1="567.1" y1="101.9" x2="565.2" y2="102.3"/><line x1="555.4" y1="119.5" x2="555.9" y2="120.9"/><line x1="450.0" y1="83.3" x2="448.1" y2="83.4"/><line x1="512.7" y1="178.7" x2="511.8" y2="181.5"/><line x1="498.3" y1="84.9" x2="497.1" y2="85.1"/><line x1="559.5" y1="137.7" x2="556.6" y2="137.8"/><line x1="538.9" y1="60.1" x2="540.7" y2="60.2"/><line x1="561.8" y1="65.8" x2="562.0" y2="66.8"/><line x1="490.6" y1="54.9" x2="491.6" y2="56.6"/><line x1="475.3" y1="164.3" x2="476.5" y2="164.5"/><line x1="484.4" y1="110.6" x2="483.2" y2="111.7"/><line x1="543.4" y1="182.6" x2="545.8" y2="183.7"/><line x1="531.6" y1="158.1" x2="531.1" y2="159.7"/><line x1="460.9" y1="74.7" x2="461.9" y2="75.3"/><line x1="468.5" y1="82.6" x2="468.0" y2="85.1"/><line x1="557.7" y1="172.1" x2="560.1" y2="173.1"/><line x1="473.2" y1="64.2" x2="474.5" y2="65.9"/><line x1="454.2" y1="83.8" x2="455.0" y2="86.3"/><line x1="503.3" y1="112.1" x2="503.7" y2="113.0"/><line x1="570.8" y1="182.7" x2="569.7" y2="183.9"/><line x1="510.2" y1="97.3" x2="509.2" y2="99.3"/><line x1="491.6" y1="176.0" x2="490.8" y2="177.0"/><line x1="560.0" y1="148.2" x2="561.0" y2="149.2"/><line x1="552.2" y1="64.7" x2="552.7" y2="67.6"/><line x1="484.9" y1="124.5" x2="482.3" y2="125.3"/><line x1="558.2" y1="129.0" x2="556.9" y2="129.3"/><line x1="571.1" y1="111.0" x2="570.0" y2="112.8"/><line x1="487.7" y1="147.9" x2="486.8" y2="150.7"/><line x1="540.2" y1="114.9" x2="541.2" y2="117.4"/><line x1="496.8" y1="146.5" x2="495.2" y2="148.9"/><line x1="473.9" y1="146.9" x2="475.8" y2="148.0"/><line x1="539.9" y1="158.0" x2="538.7" y2="158.5"/><line x1="567.4" y1="102.5" x2="567.8" y2="103.5"/><line x1="521.3" y1="54.2" x2="522.6" y2="56.1"/><line x1="552.6" y1="77.7" x2="551.2" y2="78.8"/><line x1="477.2" y1="158.4" x2="475.9" y2="159.7"/><line x1="522.3" y1="140.0" x2="521.3" y2="142.3"/><line x1="554.4" y1="82.8" x2="555.4" y2="82.9"/><line x1="491.6" y1="135.6" x2="489.9" y2="135.8"/><line x1="500.4" y1="132.3" x2="498.3" y2="132.6"/></g><g filter="url(#blur04)"><rect x="444" y="147.6" width="12" height="12.2" rx="2.5" fill="#e89a22"/><ellipse cx="450" cy="153.6" rx="3.8" ry="4.5" fill="#8c8a1e" transform="rotate(20 450 153.6)"/></g><g filter="url(#blur04)"><rect x="531.9" y="189" width="15.7" height="9" rx="2.5" fill="#e89a22"/><rect x="534" y="191.5" width="11.5" height="5" rx="1.5" fill="#a8a020"/></g><g filter="url(#blur04)"><path d="M564.5,62.0 L567.0,58.5 L571.0,57.5 L574.0,56.0 L576.5,55.2 L578.5,56.5 L576.0,60.0 L575.0,64.0 L572.0,67.0 L567.5,67.8 L564.0,66.0 Z" fill="#3a30ff" stroke="#6a5aff" stroke-width="1.2" stroke-linejoin="round"/><path d="M568.0,60.5 L571.0,60.0 L572.5,62.5 L570.5,65.0 L568.0,64.0 Z" fill="#0c0ce0"/></g><g filter="url(#blur04)"><path d="M544.8,118.0 L549.0,116.9 L554.5,117.5 L555.6,121.0 L555.0,127.0 L551.0,129.6 L546.0,128.5 L544.8,124.0 Z" fill="#3a30ff" stroke="#6a5aff" stroke-width="1.2" stroke-linejoin="round"/><path d="M547.5,120.0 L552.0,119.5 L553.0,124.0 L550.5,127.0 L548.0,125.0 Z" fill="#0c0ce0"/></g><g filter="url(#blur04)"><path d="M504.0,143.0 L508.0,141.7 L513.0,142.5 L514.0,147.0 L513.0,152.0 L508.0,153.3 L504.0,151.5 L503.7,147.0 Z" fill="#3a30ff" stroke="#6a5aff" stroke-width="1.2" stroke-linejoin="round"/><path d="M506.5,145.0 L510.5,145.0 L511.0,149.0 L508.0,151.0 L506.0,149.0 Z" fill="#0c0ce0"/></g><g filter="url(#blur04)"><path d="M551.0,145.0 L554.5,141.2 L559.5,143.0 L561.3,147.5 L559.0,151.5 L555.0,152.7 L551.5,150.0 L550.4,147.0 Z" fill="#3a30ff" stroke="#6a5aff" stroke-width="1.2" stroke-linejoin="round"/><path d="M553.5,145.5 L557.0,145.0 L558.5,148.5 L556.0,150.5 L553.5,149.0 Z" fill="#0c0ce0"/></g><g filter="url(#blur06)"><path d="M473.1,94.5 L477.1,88.5 L481.2,86.5 L484.4,88.1 L489.2,88.5 L493.7,89.3 L490.9,93.7 L488.4,97.8 L494.9,99.4 L492.5,101.4 L486.0,102.6 L482.8,106.5 L479.5,105.9 L474.7,101.0 Z" fill="#3a2cff" stroke="#6050ff" stroke-width="1.3" stroke-linejoin="round"/><path d="M478,94 L482,91.5 L487,91.5 L489.5,90.5 L487.5,95.5 L484,97.5 L480,96.5 Z" fill="#8a2ad8"/><path d="M475.5,97 L480.5,97.5 L486,100.5 L483,104 L478,101.5 Z" fill="#1010ee"/><path d="M479,88.2 L482,87.6 L484,89 L488,88.8 L492,89.6 L489,90.8 L484,90.6 L480,90.2 Z" fill="#40c8f0"/></g></g><g clip-path="url(#clipR)"><rect x="596" y="53.4" width="142" height="142.3" fill="#6a0504"/><rect x="596" y="53.4" width="142" height="142.3" filter="url(#spk2)" opacity="0.8"/><g fill="#200000" filter="url(#blur06)"><circle cx="642.0" cy="74.9" r="0.89" opacity="0.22"/><circle cx="672.1" cy="105.4" r="0.53" opacity="0.35"/><circle cx="601.3" cy="115.1" r="0.54" opacity="0.23"/><circle cx="656.3" cy="171.1" r="0.57" opacity="0.27"/><circle cx="685.1" cy="188.3" r="0.85" opacity="0.32"/><circle cx="734.6" cy="60.0" r="1.02" opacity="0.29"/><circle cx="616.5" cy="70.2" r="0.69" opacity="0.44"/><circle cx="621.7" cy="136.2" r="0.88" opacity="0.31"/><circle cx="673.8" cy="62.3" r="0.54" opacity="0.26"/><circle cx="692.6" cy="114.2" r="0.69" opacity="0.38"/><circle cx="660.4" cy="96.1" r="0.98" opacity="0.41"/><circle cx="630.7" cy="135.1" r="0.82" opacity="0.46"/><circle cx="699.6" cy="94.4" r="1.09" opacity="0.24"/><circle cx="655.4" cy="161.1" r="0.59" opacity="0.35"/><circle cx="601.6" cy="148.5" r="0.96" opacity="0.37"/><circle cx="720.3" cy="98.0" r="0.92" opacity="0.38"/><circle cx="678.3" cy="118.3" r="1.00" opacity="0.48"/><circle cx="663.3" cy="147.9" r="0.54" opacity="0.41"/><circle cx="687.9" cy="194.7" r="0.99" opacity="0.29"/><circle cx="650.8" cy="148.5" r="0.51" opacity="0.34"/><circle cx="619.9" cy="70.1" r="0.54" opacity="0.43"/><circle cx="614.4" cy="88.6" r="0.73" opacity="0.46"/><circle cx="607.4" cy="117.3" r="0.83" opacity="0.47"/><circle cx="712.3" cy="176.3" r="0.67" opacity="0.32"/><circle cx="646.9" cy="179.2" r="1.07" opacity="0.25"/><circle cx="621.0" cy="86.4" r="0.64" opacity="0.35"/><circle cx="679.7" cy="90.8" r="0.50" opacity="0.33"/><circle cx="648.4" cy="134.0" r="1.07" opacity="0.41"/><circle cx="669.2" cy="141.3" r="0.91" opacity="0.22"/><circle cx="723.7" cy="164.4" r="1.02" opacity="0.44"/><circle cx="651.7" cy="110.2" r="0.56" opacity="0.39"/><circle cx="604.8" cy="63.0" r="0.63" opacity="0.25"/><circle cx="644.3" cy="60.9" r="0.50" opacity="0.25"/><circle cx="610.4" cy="105.1" r="0.52" opacity="0.46"/><circle cx="683.2" cy="74.5" r="0.65" opacity="0.30"/><circle cx="647.7" cy="70.9" r="1.01" opacity="0.50"/><circle cx="662.2" cy="122.2" r="0.55" opacity="0.23"/><circle cx="644.7" cy="91.1" r="1.00" opacity="0.25"/><circle cx="599.3" cy="188.7" r="0.82" opacity="0.24"/><circle cx="673.1" cy="57.2" r="0.82" opacity="0.49"/><circle cx="718.6" cy="152.5" r="0.66" opacity="0.31"/><circle cx="619.7" cy="163.2" r="0.82" opacity="0.43"/><circle cx="642.8" cy="85.1" r="0.99" opacity="0.50"/><circle cx="717.1" cy="168.1" r="0.99" opacity="0.42"/><circle cx="628.2" cy="127.1" r="0.71" opacity="0.21"/><circle cx="600.0" cy="93.2" r="0.66" opacity="0.41"/><circle cx="731.8" cy="117.0" r="1.06" opacity="0.50"/><circle cx="731.6" cy="105.3" r="0.63" opacity="0.27"/><circle cx="623.9" cy="82.5" r="0.87" opacity="0.47"/><circle cx="715.3" cy="121.6" r="0.89" opacity="0.44"/><circle cx="608.0" cy="147.4" r="1.05" opacity="0.43"/><circle cx="702.5" cy="121.4" r="0.61" opacity="0.44"/><circle cx="643.2" cy="167.4" r="1.08" opacity="0.32"/><circle cx="653.0" cy="188.1" r="0.93" opacity="0.25"/><circle cx="614.0" cy="74.9" r="1.04" opacity="0.44"/><circle cx="616.8" cy="171.0" r="1.09" opacity="0.40"/><circle cx="645.8" cy="131.5" r="0.58" opacity="0.20"/><circle cx="733.9" cy="145.8" r="0.82" opacity="0.48"/><circle cx="657.6" cy="177.4" r="1.00" opacity="0.26"/><circle cx="631.8" cy="95.1" r="0.64" opacity="0.38"/><circle cx="632.8" cy="113.0" r="0.58" opacity="0.47"/><circle cx="646.2" cy="118.6" r="0.85" opacity="0.47"/><circle cx="655.7" cy="184.0" r="0.80" opacity="0.36"/><circle cx="670.3" cy="56.1" r="0.76" opacity="0.25"/><circle cx="596.6" cy="167.1" r="0.60" opacity="0.34"/><circle cx="699.0" cy="132.6" r="0.70" opacity="0.36"/><circle cx="674.9" cy="165.0" r="0.56" opacity="0.37"/><circle cx="631.3" cy="92.8" r="0.96" opacity="0.35"/><circle cx="675.8" cy="161.5" r="1.05" opacity="0.33"/><circle cx="683.0" cy="125.3" r="0.81" opacity="0.41"/><circle cx="660.2" cy="129.3" r="0.79" opacity="0.48"/><circle cx="695.3" cy="178.1" r="1.07" opacity="0.28"/><circle cx="675.5" cy="187.6" r="1.00" opacity="0.24"/><circle cx="613.3" cy="116.3" r="0.54" opacity="0.27"/><circle cx="606.4" cy="148.7" r="0.97" opacity="0.47"/><circle cx="617.9" cy="155.3" r="0.90" opacity="0.24"/><circle cx="721.4" cy="191.1" r="0.63" opacity="0.49"/><circle cx="652.6" cy="122.7" r="1.09" opacity="0.45"/><circle cx="618.9" cy="114.8" r="0.81" opacity="0.30"/><circle cx="623.8" cy="98.7" r="0.93" opacity="0.21"/><circle cx="674.7" cy="116.1" r="0.51" opacity="0.30"/><circle cx="684.6" cy="126.3" r="0.54" opacity="0.50"/><circle cx="707.9" cy="191.7" r="0.56" opacity="0.28"/><circle cx="601.6" cy="164.3" r="0.66" opacity="0.24"/><circle cx="656.0" cy="183.1" r="0.99" opacity="0.28"/><circle cx="617.2" cy="184.2" r="0.84" opacity="0.41"/><circle cx="608.7" cy="61.6" r="0.91" opacity="0.33"/><circle cx="606.3" cy="186.9" r="0.88" opacity="0.44"/><circle cx="607.9" cy="175.2" r="0.54" opacity="0.46"/><circle cx="660.4" cy="101.7" r="0.83" opacity="0.48"/><circle cx="634.0" cy="71.8" r="0.82" opacity="0.27"/><circle cx="611.5" cy="76.4" r="0.53" opacity="0.26"/><circle cx="640.3" cy="96.8" r="0.96" opacity="0.29"/><circle cx="667.0" cy="78.7" r="0.71" opacity="0.21"/><circle cx="631.6" cy="55.6" r="0.94" opacity="0.37"/><circle cx="622.9" cy="121.0" r="1.06" opacity="0.23"/><circle cx="712.3" cy="114.9" r="0.80" opacity="0.45"/><circle cx="651.8" cy="125.5" r="0.91" opacity="0.49"/><circle cx="644.7" cy="171.8" r="0.92" opacity="0.39"/><circle cx="653.5" cy="102.9" r="0.53" opacity="0.24"/><circle cx="606.0" cy="158.8" r="0.65" opacity="0.25"/><circle cx="608.0" cy="173.1" r="1.02" opacity="0.40"/><circle cx="636.0" cy="87.9" r="0.68" opacity="0.34"/><circle cx="618.4" cy="116.8" r="0.66" opacity="0.49"/><circle cx="734.1" cy="131.2" r="0.65" opacity="0.49"/><circle cx="640.0" cy="104.1" r="0.50" opacity="0.31"/><circle cx="663.4" cy="124.9" r="0.62" opacity="0.35"/><circle cx="596.7" cy="91.0" r="0.55" opacity="0.32"/><circle cx="601.9" cy="56.6" r="0.68" opacity="0.27"/><circle cx="679.2" cy="128.7" r="0.95" opacity="0.40"/><circle cx="697.7" cy="178.5" r="0.73" opacity="0.30"/><circle cx="735.8" cy="74.7" r="0.93" opacity="0.39"/><circle cx="602.2" cy="172.3" r="1.04" opacity="0.39"/><circle cx="700.2" cy="169.0" r="0.58" opacity="0.36"/><circle cx="667.6" cy="172.2" r="0.98" opacity="0.45"/><circle cx="678.9" cy="180.4" r="0.91" opacity="0.41"/><circle cx="628.7" cy="57.8" r="0.58" opacity="0.31"/><circle cx="610.9" cy="172.3" r="0.84" opacity="0.39"/><circle cx="684.9" cy="150.3" r="0.79" opacity="0.20"/><circle cx="709.3" cy="159.9" r="0.80" opacity="0.36"/><circle cx="689.6" cy="62.8" r="0.94" opacity="0.28"/><circle cx="606.6" cy="91.2" r="0.94" opacity="0.26"/><circle cx="701.1" cy="192.2" r="0.80" opacity="0.31"/><circle cx="664.0" cy="150.7" r="0.96" opacity="0.39"/><circle cx="687.3" cy="64.4" r="0.59" opacity="0.28"/><circle cx="701.5" cy="96.7" r="0.84" opacity="0.20"/><circle cx="604.6" cy="91.6" r="0.90" opacity="0.41"/><circle cx="692.0" cy="94.8" r="0.81" opacity="0.34"/><circle cx="662.2" cy="70.3" r="1.04" opacity="0.26"/><circle cx="734.9" cy="186.6" r="0.51" opacity="0.34"/><circle cx="712.4" cy="191.2" r="0.77" opacity="0.28"/><circle cx="625.8" cy="188.0" r="0.63" opacity="0.37"/><circle cx="616.1" cy="128.0" r="1.07" opacity="0.24"/><circle cx="712.5" cy="125.8" r="1.03" opacity="0.41"/><circle cx="628.9" cy="181.1" r="0.79" opacity="0.21"/><circle cx="596.5" cy="123.4" r="0.77" opacity="0.29"/><circle cx="616.0" cy="102.3" r="0.69" opacity="0.45"/><circle cx="596.2" cy="160.2" r="1.00" opacity="0.24"/><circle cx="727.5" cy="154.9" r="1.04" opacity="0.29"/><circle cx="648.9" cy="109.3" r="1.10" opacity="0.38"/><circle cx="647.2" cy="114.3" r="0.67" opacity="0.21"/><circle cx="610.4" cy="172.2" r="0.67" opacity="0.48"/><circle cx="631.4" cy="91.2" r="0.81" opacity="0.26"/><circle cx="649.0" cy="189.5" r="1.03" opacity="0.44"/><circle cx="685.6" cy="183.4" r="1.06" opacity="0.36"/><circle cx="698.2" cy="60.4" r="0.94" opacity="0.34"/><circle cx="702.9" cy="145.1" r="0.67" opacity="0.21"/><circle cx="727.6" cy="71.5" r="0.78" opacity="0.30"/><circle cx="638.3" cy="158.6" r="1.09" opacity="0.28"/><circle cx="689.2" cy="96.2" r="0.83" opacity="0.32"/><circle cx="619.8" cy="76.4" r="0.62" opacity="0.47"/><circle cx="666.6" cy="84.7" r="1.04" opacity="0.50"/><circle cx="659.9" cy="73.3" r="0.62" opacity="0.23"/><circle cx="644.6" cy="66.4" r="0.64" opacity="0.28"/><circle cx="676.9" cy="179.7" r="0.95" opacity="0.32"/><circle cx="654.8" cy="128.0" r="0.73" opacity="0.30"/><circle cx="604.8" cy="92.9" r="1.08" opacity="0.24"/><circle cx="667.5" cy="143.0" r="1.02" opacity="0.26"/><circle cx="634.5" cy="88.8" r="0.74" opacity="0.33"/><circle cx="731.5" cy="174.2" r="1.02" opacity="0.21"/><circle cx="600.6" cy="154.4" r="1.04" opacity="0.34"/><circle cx="679.4" cy="53.4" r="0.73" opacity="0.48"/><circle cx="713.2" cy="175.1" r="1.08" opacity="0.27"/><circle cx="611.5" cy="75.4" r="0.81" opacity="0.40"/><circle cx="729.7" cy="156.1" r="0.89" opacity="0.43"/><circle cx="660.9" cy="131.9" r="0.52" opacity="0.43"/><circle cx="629.0" cy="184.3" r="0.89" opacity="0.29"/><circle cx="614.2" cy="89.2" r="0.88" opacity="0.41"/><circle cx="611.9" cy="63.4" r="0.81" opacity="0.37"/><circle cx="651.1" cy="85.2" r="0.86" opacity="0.20"/><circle cx="638.8" cy="119.0" r="1.08" opacity="0.39"/><circle cx="721.5" cy="121.0" r="0.64" opacity="0.27"/><circle cx="732.4" cy="153.7" r="0.68" opacity="0.21"/><circle cx="666.8" cy="149.4" r="0.75" opacity="0.28"/><circle cx="690.8" cy="185.1" r="0.64" opacity="0.21"/><circle cx="644.0" cy="113.2" r="0.91" opacity="0.26"/><circle cx="709.2" cy="158.6" r="0.80" opacity="0.26"/><circle cx="733.7" cy="97.8" r="0.99" opacity="0.27"/><circle cx="627.4" cy="161.6" r="0.68" opacity="0.49"/><circle cx="666.4" cy="80.1" r="0.63" opacity="0.33"/><circle cx="690.5" cy="188.4" r="0.59" opacity="0.32"/><circle cx="626.2" cy="192.0" r="0.59" opacity="0.22"/><circle cx="604.5" cy="109.4" r="1.04" opacity="0.47"/><circle cx="700.0" cy="195.3" r="1.06" opacity="0.30"/><circle cx="622.3" cy="186.6" r="0.95" opacity="0.21"/><circle cx="690.3" cy="107.3" r="0.72" opacity="0.30"/><circle cx="620.0" cy="53.8" r="0.67" opacity="0.31"/><circle cx="731.7" cy="71.0" r="1.08" opacity="0.26"/><circle cx="646.6" cy="170.3" r="0.99" opacity="0.33"/><circle cx="603.0" cy="120.8" r="0.72" opacity="0.48"/><circle cx="623.4" cy="105.2" r="1.04" opacity="0.21"/><circle cx="654.3" cy="168.9" r="0.96" opacity="0.21"/><circle cx="600.9" cy="62.3" r="1.05" opacity="0.28"/><circle cx="702.1" cy="181.3" r="0.70" opacity="0.28"/><circle cx="732.0" cy="141.2" r="0.66" opacity="0.41"/><circle cx="640.9" cy="92.6" r="0.50" opacity="0.43"/><circle cx="726.1" cy="143.6" r="1.07" opacity="0.21"/><circle cx="629.2" cy="121.0" r="1.07" opacity="0.49"/><circle cx="650.9" cy="89.1" r="0.76" opacity="0.35"/><circle cx="727.8" cy="79.4" r="0.98" opacity="0.42"/><circle cx="712.8" cy="163.4" r="0.86" opacity="0.30"/><circle cx="641.4" cy="104.9" r="0.97" opacity="0.22"/><circle cx="624.0" cy="160.5" r="0.65" opacity="0.22"/><circle cx="600.8" cy="132.0" r="0.70" opacity="0.49"/><circle cx="721.5" cy="194.0" r="0.66" opacity="0.23"/><circle cx="609.7" cy="124.3" r="0.93" opacity="0.33"/><circle cx="629.3" cy="112.7" r="0.87" opacity="0.40"/><circle cx="702.2" cy="173.9" r="0.90" opacity="0.24"/><circle cx="715.4" cy="95.2" r="0.84" opacity="0.31"/><circle cx="700.8" cy="81.7" r="0.65" opacity="0.27"/><circle cx="617.8" cy="179.2" r="0.85" opacity="0.30"/><circle cx="652.2" cy="194.6" r="0.80" opacity="0.27"/><circle cx="710.8" cy="146.4" r="1.09" opacity="0.23"/><circle cx="663.4" cy="170.0" r="1.00" opacity="0.47"/><circle cx="601.7" cy="95.2" r="0.57" opacity="0.26"/><circle cx="734.2" cy="136.4" r="1.06" opacity="0.31"/><circle cx="719.0" cy="117.3" r="0.66" opacity="0.43"/><circle cx="730.3" cy="68.5" r="0.86" opacity="0.39"/><circle cx="626.9" cy="105.9" r="0.58" opacity="0.26"/><circle cx="632.2" cy="138.7" r="0.89" opacity="0.26"/><circle cx="597.6" cy="100.0" r="0.91" opacity="0.26"/><circle cx="640.3" cy="82.3" r="0.98" opacity="0.36"/><circle cx="605.0" cy="67.8" r="0.74" opacity="0.37"/><circle cx="686.8" cy="66.4" r="0.60" opacity="0.41"/><circle cx="654.2" cy="93.7" r="0.68" opacity="0.49"/><circle cx="640.4" cy="134.0" r="0.71" opacity="0.32"/><circle cx="718.7" cy="195.2" r="0.72" opacity="0.26"/><circle cx="699.4" cy="82.4" r="0.50" opacity="0.47"/><circle cx="656.2" cy="170.1" r="0.74" opacity="0.46"/><circle cx="661.4" cy="76.5" r="0.51" opacity="0.37"/><circle cx="687.0" cy="182.9" r="0.55" opacity="0.39"/><circle cx="648.7" cy="125.2" r="0.59" opacity="0.28"/><circle cx="670.0" cy="185.1" r="0.57" opacity="0.35"/><circle cx="710.3" cy="191.0" r="0.62" opacity="0.24"/><circle cx="729.9" cy="192.2" r="0.79" opacity="0.22"/><circle cx="727.5" cy="108.6" r="1.04" opacity="0.39"/><circle cx="713.1" cy="76.2" r="0.97" opacity="0.27"/><circle cx="653.4" cy="173.8" r="1.00" opacity="0.25"/><circle cx="627.0" cy="110.3" r="0.81" opacity="0.32"/><circle cx="613.5" cy="88.6" r="0.93" opacity="0.47"/><circle cx="601.8" cy="133.4" r="0.95" opacity="0.21"/><circle cx="715.0" cy="70.2" r="0.86" opacity="0.37"/><circle cx="685.0" cy="97.0" r="0.75" opacity="0.37"/><circle cx="656.5" cy="147.2" r="0.77" opacity="0.33"/><circle cx="599.3" cy="141.5" r="0.79" opacity="0.27"/><circle cx="704.4" cy="164.4" r="0.77" opacity="0.25"/><circle cx="663.2" cy="68.6" r="0.58" opacity="0.33"/><circle cx="609.0" cy="116.3" r="0.81" opacity="0.21"/><circle cx="686.4" cy="65.1" r="0.94" opacity="0.43"/><circle cx="668.6" cy="61.1" r="0.80" opacity="0.31"/><circle cx="731.0" cy="72.8" r="1.01" opacity="0.50"/><circle cx="700.0" cy="169.4" r="0.62" opacity="0.49"/><circle cx="665.8" cy="189.5" r="1.05" opacity="0.25"/><circle cx="708.0" cy="185.8" r="0.54" opacity="0.31"/><circle cx="703.4" cy="76.0" r="1.04" opacity="0.28"/><circle cx="711.8" cy="73.8" r="0.80" opacity="0.48"/><circle cx="625.6" cy="90.8" r="0.80" opacity="0.30"/><circle cx="601.2" cy="79.3" r="0.60" opacity="0.48"/><circle cx="692.5" cy="180.8" r="0.60" opacity="0.44"/><circle cx="612.3" cy="128.9" r="0.88" opacity="0.31"/><circle cx="720.0" cy="132.4" r="0.85" opacity="0.46"/><circle cx="610.9" cy="194.7" r="0.88" opacity="0.32"/><circle cx="709.3" cy="91.1" r="1.09" opacity="0.37"/><circle cx="647.2" cy="162.2" r="0.77" opacity="0.25"/><circle cx="701.6" cy="60.3" r="0.99" opacity="0.28"/><circle cx="686.8" cy="193.4" r="0.85" opacity="0.40"/><circle cx="640.4" cy="53.7" r="0.52" opacity="0.24"/><circle cx="683.5" cy="114.9" r="0.81" opacity="0.47"/><circle cx="614.7" cy="85.7" r="0.89" opacity="0.21"/><circle cx="596.4" cy="103.9" r="0.56" opacity="0.31"/><circle cx="627.8" cy="136.4" r="0.85" opacity="0.26"/><circle cx="684.6" cy="121.0" r="0.58" opacity="0.48"/><circle cx="630.6" cy="74.6" r="0.56" opacity="0.39"/><circle cx="719.7" cy="164.7" r="0.74" opacity="0.28"/><circle cx="597.6" cy="145.2" r="0.84" opacity="0.31"/><circle cx="687.7" cy="116.5" r="1.06" opacity="0.42"/><circle cx="631.3" cy="182.0" r="0.53" opacity="0.36"/><circle cx="653.7" cy="87.2" r="0.54" opacity="0.43"/><circle cx="597.8" cy="131.8" r="1.06" opacity="0.24"/><circle cx="624.3" cy="139.9" r="0.80" opacity="0.39"/><circle cx="711.5" cy="78.3" r="0.69" opacity="0.29"/><circle cx="602.9" cy="180.0" r="0.97" opacity="0.41"/><circle cx="596.9" cy="173.6" r="0.95" opacity="0.34"/><circle cx="701.3" cy="117.8" r="0.64" opacity="0.23"/><circle cx="629.0" cy="58.9" r="0.70" opacity="0.42"/><circle cx="694.7" cy="173.7" r="0.93" opacity="0.28"/><circle cx="674.6" cy="115.5" r="0.97" opacity="0.36"/><circle cx="633.7" cy="144.8" r="1.08" opacity="0.27"/><circle cx="721.0" cy="55.6" r="0.66" opacity="0.27"/><circle cx="701.6" cy="187.8" r="0.95" opacity="0.30"/><circle cx="721.0" cy="100.2" r="0.64" opacity="0.47"/><circle cx="685.6" cy="152.0" r="0.90" opacity="0.49"/><circle cx="662.7" cy="172.9" r="0.92" opacity="0.46"/><circle cx="658.1" cy="156.5" r="0.84" opacity="0.29"/><circle cx="626.1" cy="142.0" r="0.55" opacity="0.47"/><circle cx="616.5" cy="57.2" r="0.56" opacity="0.48"/><circle cx="645.0" cy="73.6" r="0.52" opacity="0.21"/><circle cx="694.4" cy="143.6" r="0.92" opacity="0.42"/><circle cx="605.3" cy="137.4" r="0.72" opacity="0.45"/><circle cx="712.4" cy="180.2" r="0.54" opacity="0.46"/><circle cx="725.8" cy="187.8" r="0.56" opacity="0.26"/><circle cx="611.9" cy="58.3" r="1.01" opacity="0.44"/><circle cx="686.1" cy="170.8" r="0.88" opacity="0.29"/><circle cx="610.2" cy="67.3" r="0.95" opacity="0.26"/><circle cx="641.3" cy="113.7" r="0.51" opacity="0.28"/><circle cx="636.1" cy="155.3" r="0.72" opacity="0.30"/><circle cx="732.9" cy="125.1" r="1.01" opacity="0.39"/><circle cx="600.4" cy="112.2" r="0.76" opacity="0.43"/><circle cx="645.2" cy="153.7" r="0.82" opacity="0.26"/><circle cx="718.4" cy="66.3" r="0.99" opacity="0.25"/><circle cx="596.2" cy="82.1" r="0.96" opacity="0.49"/><circle cx="596.6" cy="123.2" r="0.79" opacity="0.44"/><circle cx="622.2" cy="123.8" r="0.71" opacity="0.45"/><circle cx="633.0" cy="187.7" r="0.67" opacity="0.26"/><circle cx="695.3" cy="124.3" r="0.57" opacity="0.39"/><circle cx="607.5" cy="165.5" r="0.92" opacity="0.44"/><circle cx="685.2" cy="104.0" r="0.74" opacity="0.32"/><circle cx="722.4" cy="65.7" r="1.03" opacity="0.21"/><circle cx="625.3" cy="90.9" r="1.04" opacity="0.35"/><circle cx="649.9" cy="179.2" r="0.64" opacity="0.34"/><circle cx="671.5" cy="160.8" r="0.95" opacity="0.39"/><circle cx="645.5" cy="99.9" r="0.59" opacity="0.45"/><circle cx="690.0" cy="159.0" r="0.60" opacity="0.33"/><circle cx="705.8" cy="135.8" r="0.58" opacity="0.34"/><circle cx="721.7" cy="87.3" r="0.61" opacity="0.29"/><circle cx="695.8" cy="173.5" r="0.59" opacity="0.25"/><circle cx="631.2" cy="99.9" r="0.81" opacity="0.25"/><circle cx="642.6" cy="80.3" r="1.09" opacity="0.42"/><circle cx="610.5" cy="190.3" r="0.56" opacity="0.32"/><circle cx="735.7" cy="166.5" r="0.94" opacity="0.33"/><circle cx="623.9" cy="144.2" r="0.56" opacity="0.26"/><circle cx="651.1" cy="58.2" r="0.74" opacity="0.44"/><circle cx="694.5" cy="124.6" r="0.88" opacity="0.34"/><circle cx="616.1" cy="139.3" r="0.74" opacity="0.42"/><circle cx="724.9" cy="114.6" r="0.84" opacity="0.42"/><circle cx="655.8" cy="85.9" r="0.93" opacity="0.46"/><circle cx="705.9" cy="153.0" r="1.01" opacity="0.40"/><circle cx="687.1" cy="118.0" r="0.69" opacity="0.39"/><circle cx="609.9" cy="113.1" r="0.97" opacity="0.41"/><circle cx="685.4" cy="89.0" r="0.75" opacity="0.34"/><circle cx="684.3" cy="111.6" r="0.91" opacity="0.48"/><circle cx="622.0" cy="146.5" r="0.97" opacity="0.32"/><circle cx="665.6" cy="192.1" r="0.52" opacity="0.36"/><circle cx="618.8" cy="164.6" r="1.06" opacity="0.36"/><circle cx="610.4" cy="135.2" r="0.82" opacity="0.42"/><circle cx="668.7" cy="144.4" r="1.00" opacity="0.36"/><circle cx="654.3" cy="188.3" r="0.63" opacity="0.41"/><circle cx="651.7" cy="161.9" r="0.57" opacity="0.50"/><circle cx="646.5" cy="61.5" r="0.66" opacity="0.32"/><circle cx="597.9" cy="113.0" r="0.75" opacity="0.41"/><circle cx="646.0" cy="91.1" r="0.63" opacity="0.42"/><circle cx="729.5" cy="128.4" r="0.63" opacity="0.44"/><circle cx="651.7" cy="83.6" r="0.58" opacity="0.43"/><circle cx="711.0" cy="143.7" r="0.78" opacity="0.37"/><circle cx="628.1" cy="190.6" r="0.71" opacity="0.39"/><circle cx="712.3" cy="169.5" r="0.78" opacity="0.29"/><circle cx="673.9" cy="71.2" r="1.00" opacity="0.31"/><circle cx="716.8" cy="91.5" r="0.73" opacity="0.28"/><circle cx="656.5" cy="79.9" r="0.50" opacity="0.42"/><circle cx="635.9" cy="88.3" r="0.68" opacity="0.34"/><circle cx="656.8" cy="144.1" r="0.90" opacity="0.31"/><circle cx="727.9" cy="175.0" r="0.53" opacity="0.45"/><circle cx="724.6" cy="165.0" r="0.58" opacity="0.45"/><circle cx="685.9" cy="55.5" r="0.51" opacity="0.49"/><circle cx="689.1" cy="89.0" r="0.56" opacity="0.24"/><circle cx="629.2" cy="163.9" r="0.71" opacity="0.25"/><circle cx="724.4" cy="166.1" r="0.60" opacity="0.47"/><circle cx="682.4" cy="164.6" r="0.90" opacity="0.47"/><circle cx="707.9" cy="172.8" r="0.62" opacity="0.41"/><circle cx="671.4" cy="159.0" r="0.76" opacity="0.46"/><circle cx="674.8" cy="91.0" r="0.64" opacity="0.24"/><circle cx="666.0" cy="61.7" r="0.78" opacity="0.24"/><circle cx="665.8" cy="124.3" r="0.82" opacity="0.46"/><circle cx="596.9" cy="173.0" r="0.78" opacity="0.37"/><circle cx="690.5" cy="173.0" r="0.72" opacity="0.33"/><circle cx="732.4" cy="64.1" r="0.88" opacity="0.39"/><circle cx="600.1" cy="140.2" r="0.91" opacity="0.48"/><circle cx="642.9" cy="193.1" r="0.81" opacity="0.35"/><circle cx="723.5" cy="58.2" r="0.93" opacity="0.39"/><circle cx="644.1" cy="176.0" r="0.72" opacity="0.34"/></g><path d="M596,53 L739,53 L739,72 C734,70 724,66 714,64 C700,61 690,59 674,57.5 C660,56 640,55.5 630,56 C616,56.5 604,58 596,61 Z" fill="#050000"/><path d="M610,134 C620,131 630,128.2 640,126.6 C655,124.6 668,123 682,120.8 C698,118 712,115 726,112.3 C731,111.4 735,110.6 739,110 L739,111 C734,112 729,113 724,114.6 C710,117.8 697,120.8 682,123.6 C668,126 654,127.8 640,129.6 C630,131 620,133 610,134 Z" fill="#260000" filter="url(#blur04)"/><path d="M604,136 C608,135 611,134 613,133" fill="none" stroke="#3a0202" stroke-width="1.2" opacity="0.7"/><path d="M731,119 L739,112 L739,160 L715,160 L719,153 L723,145 L726,138 L729,134 L730,126 Z" fill="#080000"/><path d="M596,192.5 C603,191 608,190.5 612,191.5 C618,190 624,189 630,190.5 C634,191 637,192.5 640,193" fill="none" stroke="#1a0000" stroke-width="1.6" opacity="0.9"/><circle cx="618.4" cy="67.6" r="2.1" fill="#4fd030"/><circle cx="640.0" cy="61.0" r="0.6" fill="#4fd030"/><circle cx="663.0" cy="68.0" r="0.6" fill="#4fd030"/><circle cx="688.0" cy="75.0" r="0.6" fill="#4fd030"/><circle cx="700.0" cy="128.0" r="0.6" fill="#4fd030"/><circle cx="658.0" cy="149.0" r="0.6" fill="#4fd030"/><circle cx="614.0" cy="164.0" r="0.7" fill="#4fd030"/><circle cx="668.0" cy="160.0" r="0.6" fill="#4fd030"/><circle cx="720.0" cy="88.0" r="0.6" fill="#4fd030"/><circle cx="707.0" cy="96.0" r="0.6" fill="#4fd030"/><circle cx="645.0" cy="92.0" r="0.5" fill="#4fd030"/><circle cx="630.0" cy="140.0" r="0.7" fill="#4fd030"/><circle cx="676.0" cy="110.0" r="0.6" fill="#4fd030"/><circle cx="718.0" cy="184.0" r="0.7" fill="#4fd030"/><circle cx="735.0" cy="171.0" r="0.6" fill="#4fd030"/><circle cx="612.0" cy="96.0" r="0.6" fill="#4fd030"/><circle cx="650.0" cy="172.0" r="0.6" fill="#4fd030"/><g stroke="#6ab82a" stroke-width="0.8" opacity="0.7"><line x1="605.1" y1="73.0" x2="605.4" y2="74.0"/><line x1="722.4" y1="66.3" x2="722.3" y2="67.8"/><line x1="715.2" y1="82.4" x2="715.9" y2="83.7"/><line x1="631.7" y1="61.7" x2="631.9" y2="62.7"/><line x1="680.0" y1="70.5" x2="680.9" y2="71.9"/><line x1="721.9" y1="73.7" x2="724.0" y2="74.8"/><line x1="601.1" y1="181.6" x2="600.8" y2="182.9"/><line x1="713.1" y1="162.4" x2="714.2" y2="164.5"/><line x1="626.6" y1="141.2" x2="626.4" y2="143.6"/><line x1="642.2" y1="114.0" x2="640.8" y2="115.2"/><line x1="693.2" y1="145.1" x2="691.9" y2="147.4"/><line x1="664.9" y1="149.8" x2="665.3" y2="150.6"/><line x1="703.2" y1="85.3" x2="701.0" y2="86.7"/><line x1="688.4" y1="83.8" x2="689.2" y2="85.1"/><line x1="608.3" y1="121.6" x2="607.9" y2="123.0"/><line x1="624.3" y1="73.3" x2="623.9" y2="74.0"/><line x1="646.7" y1="91.1" x2="646.5" y2="93.4"/><line x1="724.8" y1="146.3" x2="722.1" y2="146.4"/><line x1="684.9" y1="92.2" x2="685.0" y2="93.4"/><line x1="735.2" y1="120.4" x2="734.6" y2="121.0"/><line x1="616.1" y1="87.0" x2="617.1" y2="88.0"/><line x1="635.4" y1="118.8" x2="635.7" y2="119.8"/><line x1="605.8" y1="108.6" x2="607.4" y2="109.1"/><line x1="598.1" y1="132.5" x2="600.2" y2="133.0"/><line x1="653.2" y1="191.4" x2="654.4" y2="192.7"/><line x1="701.1" y1="105.3" x2="702.1" y2="107.1"/><line x1="731.5" y1="177.6" x2="732.1" y2="179.8"/><line x1="691.4" y1="110.8" x2="692.1" y2="111.4"/><line x1="719.3" y1="68.6" x2="719.2" y2="70.5"/><line x1="619.3" y1="148.3" x2="617.0" y2="148.9"/><line x1="652.6" y1="78.6" x2="650.8" y2="78.8"/><line x1="684.7" y1="167.5" x2="685.0" y2="168.3"/><line x1="616.2" y1="149.1" x2="617.3" y2="151.4"/><line x1="700.5" y1="190.8" x2="699.8" y2="192.0"/><line x1="707.3" y1="64.5" x2="707.1" y2="67.0"/><line x1="669.0" y1="79.2" x2="669.0" y2="81.1"/><line x1="648.6" y1="179.3" x2="649.2" y2="180.5"/><line x1="667.4" y1="88.2" x2="668.3" y2="89.5"/><line x1="727.0" y1="72.3" x2="728.0" y2="73.0"/><line x1="734.6" y1="179.0" x2="736.1" y2="180.1"/><line x1="609.3" y1="103.0" x2="610.2" y2="104.7"/><line x1="726.4" y1="167.6" x2="726.1" y2="170.0"/><line x1="665.3" y1="158.0" x2="664.3" y2="158.9"/><line x1="712.9" y1="137.5" x2="713.0" y2="139.1"/><line x1="628.0" y1="127.8" x2="629.9" y2="128.6"/><line x1="722.3" y1="165.5" x2="721.7" y2="167.2"/><line x1="692.8" y1="77.9" x2="695.3" y2="78.4"/><line x1="647.7" y1="149.6" x2="648.1" y2="151.0"/><line x1="705.2" y1="106.4" x2="703.4" y2="108.1"/><line x1="622.1" y1="190.8" x2="623.7" y2="191.2"/></g><g filter="url(#blur04)"><path d="M619.7,145.4 C623,143.8 627,143 630.1,143.3 C632.5,145 632.5,148 631.9,150.2 C630,153 627,156.5 625.2,159.2 L618.5,159.5 C617,157 617,155 617.6,153 Z" fill="#e89a22"/><path d="M621.5,148 C624,146.5 627,146 628.5,146.5 C628.5,149 626,151.5 623.5,155 L620.5,155.5 C620,153 620.5,150 621.5,148 Z" fill="#8c8a1e"/></g><g filter="url(#blur04)"><path d="M695.5,147 C697,145 699,145.5 700,146.5 C701.5,146 703,147 703.5,149 L705.4,151 L705.2,157 L696,157.4 C694.8,155 694.8,150 695.5,147 Z" fill="#e89a22"/><ellipse cx="700" cy="152.5" rx="2.2" ry="2.6" fill="#9c8a1e"/></g><g filter="url(#blur04)"><path d="M643.5,181.0 L648.0,179.0 L652.5,178.6 L652.9,183.0 L651.0,187.3 L646.0,187.6 L643.2,186.0 Z" fill="#3a30ff" stroke="#6a5aff" stroke-width="1.2" stroke-linejoin="round"/><path d="M646.5,182.5 L650.0,181.5 L649.5,185.0 L647.0,185.5 Z" fill="#0c0ce0"/></g><text x="705" y="183.7" font-size="6.9" fill="#fff">200μm</text><rect x="700.2" y="187" width="32.2" height="1.9" fill="#fff"/></g><rect x="606.1" y="200.5" width="28" height="9.2" fill="#0000ff"/><text x="636.4" y="209.1" font-size="10" fill="#222">PT area</text><rect x="675.2" y="200.5" width="28.1" height="9.2" fill="#ffbf50"/><text x="705.8" y="209.1" font-size="10" fill="#222">CV area</text></g>
<g id="panelC"><text transform="translate(-0.4 233.2) scale(0.95 1)" font-size="17.5" fill="#111">(C)</text><line x1="61" y1="248.3" x2="61" y2="397.5" stroke="#383838" stroke-width="1.2"/><line x1="55" y1="248.8" x2="61" y2="248.8" stroke="#383838" stroke-width="1.2"/><text x="49.6" y="252.3" font-size="10" font-weight="bold" fill="#111" stroke="#111" stroke-width="0.25" text-anchor="end">20</text><line x1="55" y1="278.4" x2="61" y2="278.4" stroke="#383838" stroke-width="1.2"/><text x="49.6" y="281.9" font-size="10" font-weight="bold" fill="#111" stroke="#111" stroke-width="0.25" text-anchor="end">15</text><line x1="55" y1="308.1" x2="61" y2="308.1" stroke="#383838" stroke-width="1.2"/><text x="49.6" y="311.6" font-size="10" font-weight="bold" fill="#111" stroke="#111" stroke-width="0.25" text-anchor="end">10</text><line x1="55" y1="337.7" x2="61" y2="337.7" stroke="#383838" stroke-width="1.2"/><text x="49.6" y="341.2" font-size="10" font-weight="bold" fill="#111" stroke="#111" stroke-width="0.25" text-anchor="end">5</text><line x1="55" y1="367.3" x2="61" y2="367.3" stroke="#383838" stroke-width="1.2"/><text x="49.6" y="370.8" font-size="10" font-weight="bold" fill="#111" stroke="#111" stroke-width="0.25" text-anchor="end">0</text><line x1="55" y1="397.0" x2="61" y2="397.0" stroke="#383838" stroke-width="1.2"/><text x="49.6" y="400.5" font-size="10" font-weight="bold" fill="#111" stroke="#111" stroke-width="0.25" text-anchor="end">-5</text><line x1="55" y1="397" x2="284.5" y2="397" stroke="#383838" stroke-width="1.2"/><line x1="80.6" y1="397" x2="80.6" y2="403.4" stroke="#383838" stroke-width="1.2"/><text x="80.6" y="415" font-size="10" font-weight="bold" fill="#111" stroke="#111" stroke-width="0.25" text-anchor="middle">sham</text><line x1="126.4" y1="397" x2="126.4" y2="403.4" stroke="#383838" stroke-width="1.2"/><text x="126.4" y="415" font-size="10" font-weight="bold" fill="#111" stroke="#111" stroke-width="0.25" text-anchor="middle">1</text><line x1="172.2" y1="397" x2="172.2" y2="403.4" stroke="#383838" stroke-width="1.2"/><text x="172.2" y="415" font-size="10" font-weight="bold" fill="#111" stroke="#111" stroke-width="0.25" text-anchor="middle">2</text><line x1="217.9" y1="397" x2="217.9" y2="403.4" stroke="#383838" stroke-width="1.2"/><text x="217.9" y="415" font-size="10" font-weight="bold" fill="#111" stroke="#111" stroke-width="0.25" text-anchor="middle">4</text><line x1="263.6" y1="397" x2="263.6" y2="403.4" stroke="#383838" stroke-width="1.2"/><text x="263.6" y="415" font-size="10" font-weight="bold" fill="#111" stroke="#111" stroke-width="0.25" text-anchor="middle">6</text><line x1="63.7" y1="367.6" x2="282" y2="367.6" stroke="#111" stroke-width="1.7" stroke-dasharray="2 1.84"/><text x="172.9" y="430.2" font-size="10" font-weight="bold" fill="#111" stroke="#111" stroke-width="0.25" text-anchor="middle">Elapsed days post PHx</text><text transform="translate(29.4 322.6) rotate(-90)" font-size="11.7" font-weight="bold" fill="#111" stroke="#111" stroke-width="0.2" text-anchor="middle">Density of PT area per 1mm<tspan font-size="7.5" dy="-4.5">2</tspan></text><rect x="242" y="242" width="11.2" height="10.7" fill="#000"/><rect x="242" y="256.8" width="11.2" height="10.9" fill="#0000ff"/><text x="260.3" y="250.9" font-size="11.6" fill="#222">PHx + Gln</text><text x="260.3" y="266.8" font-size="11.6" fill="#222">PHx – Gln</text><text x="155.0" y="254.9" font-size="9.9" fill="#222"><tspan font-style="italic">p</tspan>=0.018*</text><path d="M163.4,256.3 V263.4 M163.4,260 H181 M181,256.3 V263.4" fill="none" stroke="#555" stroke-width="1.2"/><text x="197.3" y="308.1" font-size="9.9" fill="#222"><tspan font-style="italic">p</tspan>=0.0367*</text><path d="M209.5,310.8 V317 M209.5,313.8 H226.2 M226.2,310.8 V317" fill="none" stroke="#555" stroke-width="1.2"/><text x="268.6" y="391.8" font-size="9" fill="#111">¶<tspan font-size="8.5" dy="-0.3">**</tspan></text><path d="M73.05,323.10 C73.05,324.08 72.69,327.35 73.05,329.00 C73.41,330.65 74.52,331.67 75.20,333.00 C75.87,334.33 76.80,335.67 77.10,337.00 C77.40,338.33 77.10,339.83 77.00,341.00 C76.90,342.17 76.43,342.83 76.50,344.00 C76.57,345.17 77.13,346.55 77.40,348.00 C77.67,349.45 78.23,351.20 78.10,352.70 C77.97,354.20 77.28,355.62 76.60,357.00 C75.92,358.38 74.59,359.57 74.00,361.00 C73.41,362.43 73.21,364.83 73.05,365.60 L72.15,365.60 C71.99,364.83 71.79,362.43 71.20,361.00 C70.61,359.57 69.28,358.38 68.60,357.00 C67.92,355.62 67.23,354.20 67.10,352.70 C66.97,351.20 67.53,349.45 67.80,348.00 C68.07,346.55 68.63,345.17 68.70,344.00 C68.77,342.83 68.30,342.17 68.20,341.00 C68.10,339.83 67.80,338.33 68.10,337.00 C68.40,335.67 69.33,334.33 70.00,333.00 C70.67,331.67 71.79,330.65 72.15,329.00 C72.51,327.35 72.15,324.08 72.15,323.10 Z" fill="#0505fa" stroke="#000" stroke-width="0.80" stroke-linejoin="round"/><line x1="68.74" y1="348.40" x2="76.46" y2="348.40" stroke="#fff" stroke-width="1.7"/><path d="M90.05,334.20 C90.05,334.75 89.53,336.45 90.05,337.50 C90.57,338.55 92.36,339.25 93.20,340.50 C94.04,341.75 95.17,343.67 95.10,345.00 C95.03,346.33 93.64,347.50 92.80,348.50 C91.96,349.50 90.51,350.00 90.05,351.00 C89.59,352.00 90.05,353.92 90.05,354.50 L89.15,354.50 C89.15,353.92 89.61,352.00 89.15,351.00 C88.69,350.00 87.24,349.50 86.40,348.50 C85.56,347.50 84.17,346.33 84.10,345.00 C84.03,343.67 85.16,341.75 86.00,340.50 C86.84,339.25 88.62,338.55 89.15,337.50 C89.67,336.45 89.15,334.75 89.15,334.20 Z" fill="#000" stroke="#000" stroke-width="0.80" stroke-linejoin="round"/><line x1="85.10" y1="345.00" x2="94.10" y2="345.00" stroke="#fff" stroke-width="1.6" stroke-dasharray="1.3 0.9"/><path d="M118.35,321.80 C118.35,322.58 117.88,324.97 118.35,326.50 C118.83,328.03 120.51,329.42 121.20,331.00 C121.89,332.58 122.37,334.42 122.50,336.00 C122.63,337.58 121.93,338.83 122.00,340.50 C122.07,342.17 122.80,344.25 122.90,346.00 C123.00,347.75 122.90,349.33 122.60,351.00 C122.30,352.67 121.70,354.33 121.10,356.00 C120.50,357.67 119.46,359.33 119.00,361.00 C118.54,362.67 118.46,364.40 118.35,366.00 C118.24,367.60 118.35,369.83 118.35,370.60 L117.45,370.60 C117.45,369.83 117.56,367.60 117.45,366.00 C117.34,364.40 117.26,362.67 116.80,361.00 C116.34,359.33 115.30,357.67 114.70,356.00 C114.10,354.33 113.50,352.67 113.20,351.00 C112.90,349.33 112.80,347.75 112.90,346.00 C113.00,344.25 113.73,342.17 113.80,340.50 C113.87,338.83 113.17,337.58 113.30,336.00 C113.43,334.42 113.91,332.58 114.60,331.00 C115.29,329.42 116.98,328.03 117.45,326.50 C117.92,324.97 117.45,322.58 117.45,321.80 Z" fill="#0505fa" stroke="#000" stroke-width="0.80" stroke-linejoin="round"/><line x1="114.06" y1="348.60" x2="121.74" y2="348.60" stroke="#fff" stroke-width="1.7"/><path d="M135.85,301.80 C135.85,302.67 135.46,305.47 135.85,307.00 C136.24,308.53 137.58,309.40 138.20,311.00 C138.83,312.60 139.57,314.85 139.60,316.60 C139.63,318.35 138.73,319.77 138.40,321.50 C138.07,323.23 137.47,324.92 137.60,327.00 C137.73,329.08 138.67,331.67 139.20,334.00 C139.73,336.33 140.48,338.83 140.80,341.00 C141.12,343.17 141.30,345.00 141.10,347.00 C140.90,349.00 140.18,351.00 139.60,353.00 C139.02,355.00 138.22,357.00 137.60,359.00 C136.97,361.00 136.14,362.20 135.85,365.00 C135.56,367.80 135.85,374.00 135.85,375.80 L134.95,375.80 C134.95,374.00 135.24,367.80 134.95,365.00 C134.66,362.20 133.83,361.00 133.20,359.00 C132.58,357.00 131.78,355.00 131.20,353.00 C130.62,351.00 129.90,349.00 129.70,347.00 C129.50,345.00 129.68,343.17 130.00,341.00 C130.32,338.83 131.07,336.33 131.60,334.00 C132.13,331.67 133.07,329.08 133.20,327.00 C133.33,324.92 132.73,323.23 132.40,321.50 C132.07,319.77 131.17,318.35 131.20,316.60 C131.23,314.85 131.97,312.60 132.60,311.00 C133.22,309.40 134.56,308.53 134.95,307.00 C135.34,305.47 134.95,302.67 134.95,301.80 Z" fill="#000" stroke="#000" stroke-width="0.80" stroke-linejoin="round"/><line x1="130.95" y1="342.00" x2="139.85" y2="342.00" stroke="#fff" stroke-width="1.7"/><path d="M163.95,318.40 C163.95,319.67 163.69,323.90 163.95,326.00 C164.21,328.10 165.04,329.17 165.50,331.00 C165.96,332.83 166.60,335.33 166.70,337.00 C166.80,338.67 166.37,339.77 166.10,341.00 C165.83,342.23 164.93,343.07 165.10,344.40 C165.27,345.73 166.53,347.48 167.10,349.00 C167.67,350.52 168.47,352.00 168.50,353.50 C168.53,355.00 167.87,356.58 167.30,358.00 C166.73,359.42 165.66,360.83 165.10,362.00 C164.54,363.17 164.14,363.67 163.95,365.00 C163.76,366.33 163.95,369.17 163.95,370.00 L163.05,370.00 C163.05,369.17 163.24,366.33 163.05,365.00 C162.86,363.67 162.46,363.17 161.90,362.00 C161.34,360.83 160.27,359.42 159.70,358.00 C159.13,356.58 158.47,355.00 158.50,353.50 C158.53,352.00 159.33,350.52 159.90,349.00 C160.47,347.48 161.73,345.73 161.90,344.40 C162.07,343.07 161.17,342.23 160.90,341.00 C160.63,339.77 160.20,338.67 160.30,337.00 C160.40,335.33 161.04,332.83 161.50,331.00 C161.96,329.17 162.79,328.10 163.05,326.00 C163.31,323.90 163.05,319.67 163.05,318.40 Z" fill="#0505fa" stroke="#000" stroke-width="0.80" stroke-linejoin="round"/><line x1="160.15" y1="351.40" x2="166.85" y2="351.40" stroke="#fff" stroke-width="1.7"/><path d="M181.35,272.50 C181.35,273.25 181.12,275.25 181.35,277.00 C181.57,278.75 182.39,280.67 182.70,283.00 C183.01,285.33 183.05,288.17 183.20,291.00 C183.35,293.83 183.42,296.67 183.60,300.00 C183.78,303.33 184.02,308.00 184.30,311.00 C184.58,314.00 184.88,315.83 185.30,318.00 C185.72,320.17 186.40,321.83 186.80,324.00 C187.20,326.17 187.65,329.00 187.70,331.00 C187.75,333.00 187.47,334.45 187.10,336.00 C186.73,337.55 186.13,338.97 185.50,340.30 C184.87,341.63 183.88,342.88 183.30,344.00 C182.72,345.12 182.32,346.00 182.00,347.00 C181.68,348.00 181.46,348.77 181.35,350.00 C181.24,351.23 181.35,353.67 181.35,354.40 L180.45,354.40 C180.45,353.67 180.56,351.23 180.45,350.00 C180.34,348.77 180.12,348.00 179.80,347.00 C179.48,346.00 179.08,345.12 178.50,344.00 C177.92,342.88 176.93,341.63 176.30,340.30 C175.67,338.97 175.07,337.55 174.70,336.00 C174.33,334.45 174.05,333.00 174.10,331.00 C174.15,329.00 174.60,326.17 175.00,324.00 C175.40,321.83 176.08,320.17 176.50,318.00 C176.92,315.83 177.22,314.00 177.50,311.00 C177.78,308.00 178.02,303.33 178.20,300.00 C178.38,296.67 178.45,293.83 178.60,291.00 C178.75,288.17 178.79,285.33 179.10,283.00 C179.41,280.67 180.23,278.75 180.45,277.00 C180.68,275.25 180.45,273.25 180.45,272.50 Z" fill="#000" stroke="#000" stroke-width="0.80" stroke-linejoin="round"/><line x1="175.29" y1="329.50" x2="186.51" y2="329.50" stroke="#fff" stroke-width="1.7"/><path d="M209.95,333.00 C209.95,333.75 209.62,336.33 209.95,337.50 C210.27,338.67 211.49,339.18 211.90,340.00 C212.31,340.82 212.42,341.57 212.40,342.40 C212.38,343.23 212.02,344.15 211.80,345.00 C211.58,345.85 210.85,346.50 211.10,347.50 C211.35,348.50 212.62,349.75 213.30,351.00 C213.98,352.25 215.17,353.75 215.20,355.00 C215.23,356.25 214.15,357.33 213.50,358.50 C212.85,359.67 211.89,360.92 211.30,362.00 C210.71,363.08 210.17,363.73 209.95,365.00 C209.72,366.27 209.95,368.83 209.95,369.60 L209.05,369.60 C209.05,368.83 209.28,366.27 209.05,365.00 C208.83,363.73 208.29,363.08 207.70,362.00 C207.11,360.92 206.15,359.67 205.50,358.50 C204.85,357.33 203.77,356.25 203.80,355.00 C203.83,353.75 205.02,352.25 205.70,351.00 C206.38,349.75 207.65,348.50 207.90,347.50 C208.15,346.50 207.42,345.85 207.20,345.00 C206.98,344.15 206.62,343.23 206.60,342.40 C206.58,341.57 206.69,340.82 207.10,340.00 C207.51,339.18 208.73,338.67 209.05,337.50 C209.38,336.33 209.05,333.75 209.05,333.00 Z" fill="#0505fa" stroke="#000" stroke-width="0.80" stroke-linejoin="round"/><line x1="205.13" y1="354.30" x2="213.87" y2="354.30" stroke="#fff" stroke-width="1.7"/><path d="M226.65,322.00 C226.65,322.58 226.37,324.50 226.65,325.50 C226.92,326.50 227.99,327.17 228.30,328.00 C228.61,328.83 228.53,329.58 228.50,330.50 C228.47,331.42 228.02,332.58 228.10,333.50 C228.18,334.42 228.55,335.08 229.00,336.00 C229.45,336.92 230.42,338.17 230.80,339.00 C231.18,339.83 231.37,340.25 231.30,341.00 C231.23,341.75 231.03,342.67 230.40,343.50 C229.77,344.33 228.12,345.13 227.50,346.00 C226.88,346.87 226.79,348.25 226.65,348.70 L225.75,348.70 C225.61,348.25 225.52,346.87 224.90,346.00 C224.27,345.13 222.63,344.33 222.00,343.50 C221.37,342.67 221.17,341.75 221.10,341.00 C221.03,340.25 221.22,339.83 221.60,339.00 C221.98,338.17 222.95,336.92 223.40,336.00 C223.85,335.08 224.22,334.42 224.30,333.50 C224.38,332.58 223.93,331.42 223.90,330.50 C223.87,329.58 223.79,328.83 224.10,328.00 C224.41,327.17 225.47,326.50 225.75,325.50 C226.03,324.50 225.75,322.58 225.75,322.00 Z" fill="#000" stroke="#000" stroke-width="0.80" stroke-linejoin="round"/><line x1="222.10" y1="341.00" x2="230.30" y2="341.00" stroke="#fff" stroke-width="1.6" stroke-dasharray="1.3 0.9"/><path d="M255.65,331.70 C255.65,332.42 255.37,334.70 255.65,336.00 C255.92,337.30 256.96,338.43 257.30,339.50 C257.64,340.57 257.70,341.48 257.70,342.40 C257.70,343.32 257.40,344.15 257.30,345.00 C257.20,345.85 256.83,346.50 257.10,347.50 C257.37,348.50 258.43,349.75 258.90,351.00 C259.37,352.25 259.92,353.75 259.90,355.00 C259.88,356.25 259.32,357.33 258.80,358.50 C258.28,359.67 257.33,360.92 256.80,362.00 C256.27,363.08 255.84,363.40 255.65,365.00 C255.46,366.60 255.65,370.50 255.65,371.60 L254.75,371.60 C254.75,370.50 254.94,366.60 254.75,365.00 C254.56,363.40 254.12,363.08 253.60,362.00 C253.07,360.92 252.12,359.67 251.60,358.50 C251.08,357.33 250.52,356.25 250.50,355.00 C250.48,353.75 251.03,352.25 251.50,351.00 C251.97,349.75 253.03,348.50 253.30,347.50 C253.57,346.50 253.20,345.85 253.10,345.00 C253.00,344.15 252.70,343.32 252.70,342.40 C252.70,341.48 252.76,340.57 253.10,339.50 C253.44,338.43 254.47,337.30 254.75,336.00 C255.03,334.70 254.75,332.42 254.75,331.70 Z" fill="#0505fa" stroke="#000" stroke-width="0.80" stroke-linejoin="round"/><line x1="251.60" y1="354.60" x2="258.80" y2="354.60" stroke="#fff" stroke-width="1.7"/><path d="M272.95,324.60 C272.95,325.17 272.59,326.93 272.95,328.00 C273.31,329.07 274.68,330.00 275.10,331.00 C275.53,332.00 275.48,332.92 275.50,334.00 C275.52,335.08 275.20,336.33 275.20,337.50 C275.20,338.67 275.08,339.58 275.50,341.00 C275.92,342.42 277.20,344.28 277.70,346.00 C278.20,347.72 278.60,349.80 278.50,351.30 C278.40,352.80 277.50,353.97 277.10,355.00 C276.70,356.03 276.20,356.67 276.10,357.50 C276.00,358.33 276.67,359.17 276.50,360.00 C276.33,360.83 275.69,361.75 275.10,362.50 C274.51,363.25 273.31,363.62 272.95,364.50 C272.59,365.38 272.95,367.25 272.95,367.80 L272.05,367.80 C272.05,367.25 272.41,365.38 272.05,364.50 C271.69,363.62 270.49,363.25 269.90,362.50 C269.31,361.75 268.67,360.83 268.50,360.00 C268.33,359.17 269.00,358.33 268.90,357.50 C268.80,356.67 268.30,356.03 267.90,355.00 C267.50,353.97 266.60,352.80 266.50,351.30 C266.40,349.80 266.80,347.72 267.30,346.00 C267.80,344.28 269.08,342.42 269.50,341.00 C269.92,339.58 269.80,338.67 269.80,337.50 C269.80,336.33 269.48,335.08 269.50,334.00 C269.52,332.92 269.47,332.00 269.90,331.00 C270.32,330.00 271.69,329.07 272.05,328.00 C272.41,326.93 272.05,325.17 272.05,324.60 Z" fill="#000" stroke="#000" stroke-width="0.80" stroke-linejoin="round"/><line x1="267.50" y1="351.30" x2="277.50" y2="351.30" stroke="#fff" stroke-width="1.7"/></g>
<g id="panelD"><text transform="translate(437.9 233.4) scale(0.95 1)" font-size="17.5" fill="#111">(D)</text><line x1="476.4" y1="248.2" x2="476.4" y2="397.8" stroke="#383838" stroke-width="1.2"/><line x1="470.3" y1="248.7" x2="476.4" y2="248.7" stroke="#383838" stroke-width="1.2"/><text x="464.9" y="252.2" font-size="10" font-weight="bold" fill="#111" stroke="#111" stroke-width="0.25" text-anchor="end">6</text><line x1="470.3" y1="291.1" x2="476.4" y2="291.1" stroke="#383838" stroke-width="1.2"/><text x="464.9" y="294.6" font-size="10" font-weight="bold" fill="#111" stroke="#111" stroke-width="0.25" text-anchor="end">4</text><line x1="470.3" y1="333.6" x2="476.4" y2="333.6" stroke="#383838" stroke-width="1.2"/><text x="464.9" y="337.1" font-size="10" font-weight="bold" fill="#111" stroke="#111" stroke-width="0.25" text-anchor="end">2</text><line x1="470.3" y1="376.0" x2="476.4" y2="376.0" stroke="#383838" stroke-width="1.2"/><text x="464.9" y="379.5" font-size="10" font-weight="bold" fill="#111" stroke="#111" stroke-width="0.25" text-anchor="end">0</text><line x1="476.4" y1="397.2" x2="704.2" y2="397.2" stroke="#383838" stroke-width="1.2"/><line x1="496.5" y1="397.2" x2="496.5" y2="403.5" stroke="#383838" stroke-width="1.2"/><text x="496.5" y="415" font-size="10" font-weight="bold" fill="#111" stroke="#111" stroke-width="0.25" text-anchor="middle">sham</text><line x1="543.3" y1="397.2" x2="543.3" y2="403.5" stroke="#383838" stroke-width="1.2"/><text x="543.3" y="415" font-size="10" font-weight="bold" fill="#111" stroke="#111" stroke-width="0.25" text-anchor="middle">1</text><line x1="590.1" y1="397.2" x2="590.1" y2="403.5" stroke="#383838" stroke-width="1.2"/><text x="590.1" y="415" font-size="10" font-weight="bold" fill="#111" stroke="#111" stroke-width="0.25" text-anchor="middle">2</text><line x1="636.9" y1="397.2" x2="636.9" y2="403.5" stroke="#383838" stroke-width="1.2"/><text x="636.9" y="415" font-size="10" font-weight="bold" fill="#111" stroke="#111" stroke-width="0.25" text-anchor="middle">4</text><line x1="683.7" y1="397.2" x2="683.7" y2="403.5" stroke="#383838" stroke-width="1.2"/><text x="683.7" y="415" font-size="10" font-weight="bold" fill="#111" stroke="#111" stroke-width="0.25" text-anchor="middle">6</text><line x1="479.1" y1="376.2" x2="701.5" y2="376.2" stroke="#111" stroke-width="1.7" stroke-dasharray="2 1.84"/><text x="586.2" y="430.2" font-size="10" font-weight="bold" fill="#111" stroke="#111" stroke-width="0.25" text-anchor="middle">Elapsed days post PHx</text><text transform="translate(450.7 322.4) rotate(-90)" font-size="11.7" font-weight="bold" fill="#111" stroke="#111" stroke-width="0.2" text-anchor="middle">Density of CV area per 1mm<tspan font-size="7.5" dy="-4.5">2</tspan></text><rect x="663.4" y="242.2" width="11.4" height="11" fill="#000"/><rect x="663.4" y="257.3" width="11.4" height="11" fill="#0000ff"/><text x="681.2" y="250.6" font-size="11.6" fill="#222">PHx + Gln</text><text x="681.2" y="266.8" font-size="11.6" fill="#222">PHx – Gln</text><path d="M488.25,306.00 C488.25,307.00 487.89,310.00 488.25,312.00 C488.61,314.00 489.66,316.00 490.40,318.00 C491.14,320.00 492.17,322.07 492.70,324.00 C493.23,325.93 493.82,327.93 493.60,329.60 C493.38,331.27 492.13,332.68 491.40,334.00 C490.67,335.32 489.73,336.40 489.20,337.50 C488.67,338.60 488.22,339.52 488.25,340.60 C488.28,341.68 489.08,342.93 489.40,344.00 C489.73,345.07 490.05,345.95 490.20,347.00 C490.35,348.05 490.38,349.22 490.30,350.30 C490.22,351.38 490.04,352.38 489.70,353.50 C489.36,354.62 488.49,354.53 488.25,357.00 C488.01,359.47 488.25,366.42 488.25,368.30 L487.35,368.30 C487.35,366.42 487.59,359.47 487.35,357.00 C487.11,354.53 486.24,354.62 485.90,353.50 C485.56,352.38 485.38,351.38 485.30,350.30 C485.22,349.22 485.25,348.05 485.40,347.00 C485.55,345.95 485.88,345.07 486.20,344.00 C486.52,342.93 487.32,341.68 487.35,340.60 C487.38,339.52 486.93,338.60 486.40,337.50 C485.88,336.40 484.93,335.32 484.20,334.00 C483.47,332.68 482.22,331.27 482.00,329.60 C481.78,327.93 482.37,325.93 482.90,324.00 C483.43,322.07 484.46,320.00 485.20,318.00 C485.94,316.00 486.99,314.00 487.35,312.00 C487.71,310.00 487.35,307.00 487.35,306.00 Z" fill="#0505fa" stroke="#000" stroke-width="0.80" stroke-linejoin="round"/><line x1="483.00" y1="329.60" x2="492.60" y2="329.60" stroke="#fff" stroke-width="1.7"/><path d="M505.95,311.60 C505.95,312.33 505.72,314.60 505.95,316.00 C506.18,317.40 506.91,318.50 507.30,320.00 C507.69,321.50 508.10,323.33 508.30,325.00 C508.50,326.67 508.53,328.33 508.50,330.00 C508.47,331.67 508.17,333.50 508.10,335.00 C508.03,336.50 507.90,337.50 508.10,339.00 C508.30,340.50 508.90,342.50 509.30,344.00 C509.70,345.50 510.22,346.58 510.50,348.00 C510.78,349.42 511.10,351.00 511.00,352.50 C510.90,354.00 510.42,355.58 509.90,357.00 C509.38,358.42 508.56,359.67 507.90,361.00 C507.24,362.33 506.27,363.00 505.95,365.00 C505.62,367.00 505.95,371.67 505.95,373.00 L505.05,373.00 C505.05,371.67 505.38,367.00 505.05,365.00 C504.73,363.00 503.76,362.33 503.10,361.00 C502.44,359.67 501.62,358.42 501.10,357.00 C500.58,355.58 500.10,354.00 500.00,352.50 C499.90,351.00 500.22,349.42 500.50,348.00 C500.78,346.58 501.30,345.50 501.70,344.00 C502.10,342.50 502.70,340.50 502.90,339.00 C503.10,337.50 502.97,336.50 502.90,335.00 C502.83,333.50 502.53,331.67 502.50,330.00 C502.47,328.33 502.50,326.67 502.70,325.00 C502.90,323.33 503.31,321.50 503.70,320.00 C504.09,318.50 504.82,317.40 505.05,316.00 C505.28,314.60 505.05,312.33 505.05,311.60 Z" fill="#000" stroke="#000" stroke-width="0.80" stroke-linejoin="round"/><line x1="501.00" y1="352.50" x2="510.00" y2="352.50" stroke="#fff" stroke-width="1.6" stroke-dasharray="1.3 0.9"/><path d="M535.05,296.90 C535.05,297.58 534.88,299.82 535.05,301.00 C535.23,302.18 535.84,302.93 536.10,304.00 C536.36,305.07 536.60,306.32 536.60,307.40 C536.60,308.48 536.36,309.57 536.10,310.50 C535.84,311.43 535.23,307.75 535.05,313.00 C534.88,318.25 534.71,336.67 535.05,342.00 C535.39,347.33 536.34,343.92 537.10,345.00 C537.86,346.08 538.98,347.25 539.60,348.50 C540.22,349.75 540.90,351.25 540.80,352.50 C540.70,353.75 539.77,354.92 539.00,356.00 C538.23,357.08 536.86,358.17 536.20,359.00 C535.54,359.83 535.24,360.13 535.05,361.00 C534.86,361.87 535.05,363.67 535.05,364.20 L534.15,364.20 C534.15,363.67 534.34,361.87 534.15,361.00 C533.96,360.13 533.66,359.83 533.00,359.00 C532.34,358.17 530.97,357.08 530.20,356.00 C529.43,354.92 528.50,353.75 528.40,352.50 C528.30,351.25 528.98,349.75 529.60,348.50 C530.22,347.25 531.34,346.08 532.10,345.00 C532.86,343.92 533.81,347.33 534.15,342.00 C534.49,336.67 534.32,318.25 534.15,313.00 C533.98,307.75 533.36,311.43 533.10,310.50 C532.84,309.57 532.60,308.48 532.60,307.40 C532.60,306.32 532.84,305.07 533.10,304.00 C533.36,302.93 533.98,302.18 534.15,301.00 C534.32,299.82 534.15,297.58 534.15,296.90 Z" fill="#0505fa" stroke="#000" stroke-width="0.80" stroke-linejoin="round"/><line x1="529.40" y1="352.50" x2="539.80" y2="352.50" stroke="#fff" stroke-width="1.7"/><path d="M553.05,283.90 C553.05,284.92 552.86,287.98 553.05,290.00 C553.24,292.02 553.84,294.00 554.20,296.00 C554.56,298.00 554.80,300.00 555.20,302.00 C555.60,304.00 556.17,306.00 556.60,308.00 C557.03,310.00 557.55,312.00 557.80,314.00 C558.05,316.00 558.13,318.00 558.10,320.00 C558.07,322.00 557.85,324.00 557.60,326.00 C557.35,328.00 556.85,330.00 556.60,332.00 C556.35,334.00 555.93,336.00 556.10,338.00 C556.27,340.00 557.15,341.95 557.60,344.00 C558.05,346.05 558.80,348.30 558.80,350.30 C558.80,352.30 558.23,354.22 557.60,356.00 C556.97,357.78 555.76,359.33 555.00,361.00 C554.24,362.67 553.38,364.00 553.05,366.00 C552.73,368.00 553.05,371.83 553.05,373.00 L552.15,373.00 C552.15,371.83 552.47,368.00 552.15,366.00 C551.83,364.00 550.96,362.67 550.20,361.00 C549.44,359.33 548.23,357.78 547.60,356.00 C546.97,354.22 546.40,352.30 546.40,350.30 C546.40,348.30 547.15,346.05 547.60,344.00 C548.05,341.95 548.93,340.00 549.10,338.00 C549.27,336.00 548.85,334.00 548.60,332.00 C548.35,330.00 547.85,328.00 547.60,326.00 C547.35,324.00 547.13,322.00 547.10,320.00 C547.07,318.00 547.15,316.00 547.40,314.00 C547.65,312.00 548.17,310.00 548.60,308.00 C549.03,306.00 549.60,304.00 550.00,302.00 C550.40,300.00 550.64,298.00 551.00,296.00 C551.36,294.00 551.96,292.02 552.15,290.00 C552.34,287.98 552.15,284.92 552.15,283.90 Z" fill="#000" stroke="#000" stroke-width="0.80" stroke-linejoin="round"/><line x1="549.33" y1="330.40" x2="555.87" y2="330.40" stroke="#fff" stroke-width="1.7"/><path d="M581.55,317.60 C581.68,317.92 582.13,318.90 582.30,319.50 C582.48,320.10 582.62,320.53 582.60,321.20 C582.58,321.87 582.38,322.62 582.20,323.50 C582.03,324.38 581.32,325.62 581.55,326.50 C581.78,327.38 582.71,328.15 583.60,328.80 C584.49,329.45 586.90,329.87 586.90,330.40 C586.90,330.93 584.49,331.40 583.60,332.00 C582.71,332.60 581.89,332.67 581.55,334.00 C581.21,335.33 581.41,338.67 581.55,340.00 C581.69,341.33 582.23,341.43 582.40,342.00 C582.57,342.57 582.74,342.85 582.60,343.40 C582.46,343.95 581.73,344.98 581.55,345.30 L580.65,345.30 C580.48,344.98 579.74,343.95 579.60,343.40 C579.46,342.85 579.63,342.57 579.80,342.00 C579.98,341.43 580.51,341.33 580.65,340.00 C580.79,338.67 580.99,335.33 580.65,334.00 C580.31,332.67 579.49,332.60 578.60,332.00 C577.71,331.40 575.30,330.93 575.30,330.40 C575.30,329.87 577.71,329.45 578.60,328.80 C579.49,328.15 580.42,327.38 580.65,326.50 C580.88,325.62 580.17,324.38 580.00,323.50 C579.83,322.62 579.62,321.87 579.60,321.20 C579.58,320.53 579.73,320.10 579.90,319.50 C580.07,318.90 580.52,317.92 580.65,317.60 Z" fill="#0505fa" stroke="#000" stroke-width="0.80" stroke-linejoin="round"/><line x1="576.30" y1="330.40" x2="585.90" y2="330.40" stroke="#fff" stroke-width="1.7"/><path d="M598.95,317.10 C598.95,317.67 598.53,319.35 598.95,320.50 C599.38,321.65 600.71,322.83 601.50,324.00 C602.29,325.17 603.20,326.43 603.70,327.50 C604.20,328.57 604.58,329.32 604.50,330.40 C604.42,331.48 603.77,332.73 603.20,334.00 C602.63,335.27 601.62,336.67 601.10,338.00 C600.58,339.33 600.10,340.67 600.10,342.00 C600.10,343.33 600.80,344.83 601.10,346.00 C601.40,347.17 601.73,348.05 601.90,349.00 C602.07,349.95 602.20,350.78 602.10,351.70 C602.00,352.62 601.82,353.45 601.30,354.50 C600.77,355.55 599.34,356.15 598.95,358.00 C598.56,359.85 598.95,364.33 598.95,365.60 L598.05,365.60 C598.05,364.33 598.44,359.85 598.05,358.00 C597.66,356.15 596.23,355.55 595.70,354.50 C595.18,353.45 595.00,352.62 594.90,351.70 C594.80,350.78 594.93,349.95 595.10,349.00 C595.27,348.05 595.60,347.17 595.90,346.00 C596.20,344.83 596.90,343.33 596.90,342.00 C596.90,340.67 596.42,339.33 595.90,338.00 C595.38,336.67 594.37,335.27 593.80,334.00 C593.23,332.73 592.58,331.48 592.50,330.40 C592.42,329.32 592.80,328.57 593.30,327.50 C593.80,326.43 594.71,325.17 595.50,324.00 C596.29,322.83 597.62,321.65 598.05,320.50 C598.47,319.35 598.05,317.67 598.05,317.10 Z" fill="#000" stroke="#000" stroke-width="0.80" stroke-linejoin="round"/><line x1="593.50" y1="330.40" x2="603.50" y2="330.40" stroke="#fff" stroke-width="1.6" stroke-dasharray="1.3 0.9"/><path d="M628.05,283.30 C628.05,284.42 627.79,287.88 628.05,290.00 C628.31,292.12 629.08,294.00 629.60,296.00 C630.12,298.00 630.77,300.17 631.20,302.00 C631.63,303.83 631.97,305.40 632.20,307.00 C632.43,308.60 632.60,309.77 632.60,311.60 C632.60,313.43 632.43,315.77 632.20,318.00 C631.97,320.23 631.50,322.67 631.20,325.00 C630.90,327.33 630.58,329.85 630.40,332.00 C630.22,334.15 629.97,336.07 630.10,337.90 C630.23,339.73 630.85,341.40 631.20,343.00 C631.55,344.60 631.97,346.05 632.20,347.50 C632.43,348.95 632.63,350.28 632.60,351.70 C632.57,353.12 632.37,354.45 632.00,356.00 C631.63,357.55 630.93,359.33 630.40,361.00 C629.87,362.67 629.19,364.17 628.80,366.00 C628.41,367.83 628.18,370.08 628.05,372.00 C627.93,373.92 628.05,376.58 628.05,377.50 L627.15,377.50 C627.15,376.58 627.27,373.92 627.15,372.00 C627.02,370.08 626.79,367.83 626.40,366.00 C626.01,364.17 625.33,362.67 624.80,361.00 C624.27,359.33 623.57,357.55 623.20,356.00 C622.83,354.45 622.63,353.12 622.60,351.70 C622.57,350.28 622.77,348.95 623.00,347.50 C623.23,346.05 623.65,344.60 624.00,343.00 C624.35,341.40 624.97,339.73 625.10,337.90 C625.23,336.07 624.98,334.15 624.80,332.00 C624.62,329.85 624.30,327.33 624.00,325.00 C623.70,322.67 623.23,320.23 623.00,318.00 C622.77,315.77 622.60,313.43 622.60,311.60 C622.60,309.77 622.77,308.60 623.00,307.00 C623.23,305.40 623.57,303.83 624.00,302.00 C624.43,300.17 625.08,298.00 625.60,296.00 C626.12,294.00 626.89,292.12 627.15,290.00 C627.41,287.88 627.15,284.42 627.15,283.30 Z" fill="#0505fa" stroke="#000" stroke-width="0.80" stroke-linejoin="round"/><line x1="625.37" y1="328.20" x2="629.83" y2="328.20" stroke="#fff" stroke-width="1.7"/><path d="M645.75,278.90 C645.75,279.92 645.39,282.98 645.75,285.00 C646.11,287.02 647.17,289.00 647.90,291.00 C648.62,293.00 649.50,295.17 650.10,297.00 C650.70,298.83 651.15,300.50 651.50,302.00 C651.85,303.50 652.18,304.50 652.20,306.00 C652.22,307.50 651.92,309.33 651.60,311.00 C651.28,312.67 650.63,314.42 650.30,316.00 C649.97,317.58 649.77,318.93 649.60,320.50 C649.43,322.07 649.25,323.65 649.30,325.40 C649.35,327.15 649.65,329.07 649.90,331.00 C650.15,332.93 650.57,335.17 650.80,337.00 C651.03,338.83 651.22,340.23 651.30,342.00 C651.38,343.77 651.43,345.77 651.30,347.60 C651.17,349.43 650.92,351.27 650.50,353.00 C650.08,354.73 649.40,356.17 648.80,358.00 C648.20,359.83 647.41,362.00 646.90,364.00 C646.39,366.00 645.94,367.57 645.75,370.00 C645.56,372.43 645.75,377.17 645.75,378.60 L644.85,378.60 C644.85,377.17 645.04,372.43 644.85,370.00 C644.66,367.57 644.21,366.00 643.70,364.00 C643.19,362.00 642.40,359.83 641.80,358.00 C641.20,356.17 640.52,354.73 640.10,353.00 C639.68,351.27 639.43,349.43 639.30,347.60 C639.17,345.77 639.22,343.77 639.30,342.00 C639.38,340.23 639.57,338.83 639.80,337.00 C640.03,335.17 640.45,332.93 640.70,331.00 C640.95,329.07 641.25,327.15 641.30,325.40 C641.35,323.65 641.17,322.07 641.00,320.50 C640.83,318.93 640.63,317.58 640.30,316.00 C639.97,314.42 639.32,312.67 639.00,311.00 C638.68,309.33 638.38,307.50 638.40,306.00 C638.42,304.50 638.75,303.50 639.10,302.00 C639.45,300.50 639.90,298.83 640.50,297.00 C641.10,295.17 641.97,293.00 642.70,291.00 C643.42,289.00 644.49,287.02 644.85,285.00 C645.21,282.98 644.85,279.92 644.85,278.90 Z" fill="#000" stroke="#000" stroke-width="0.80" stroke-linejoin="round"/><line x1="641.76" y1="330.40" x2="648.84" y2="330.40" stroke="#fff" stroke-width="1.7"/><path d="M675.45,316.60 C675.45,317.25 675.09,319.27 675.45,320.50 C675.81,321.73 676.91,322.75 677.60,324.00 C678.29,325.25 679.15,326.73 679.60,328.00 C680.05,329.27 680.35,330.43 680.30,331.60 C680.25,332.77 679.77,333.85 679.30,335.00 C678.83,336.15 677.97,337.30 677.50,338.50 C677.03,339.70 676.52,340.95 676.50,342.20 C676.48,343.45 677.15,344.87 677.40,346.00 C677.65,347.13 677.90,348.13 678.00,349.00 C678.10,349.87 678.10,350.37 678.00,351.20 C677.90,352.03 677.82,352.87 677.40,354.00 C676.98,355.13 675.78,356.07 675.45,358.00 C675.12,359.93 675.45,364.33 675.45,365.60 L674.55,365.60 C674.55,364.33 674.88,359.93 674.55,358.00 C674.22,356.07 673.02,355.13 672.60,354.00 C672.18,352.87 672.10,352.03 672.00,351.20 C671.90,350.37 671.90,349.87 672.00,349.00 C672.10,348.13 672.35,347.13 672.60,346.00 C672.85,344.87 673.52,343.45 673.50,342.20 C673.48,340.95 672.97,339.70 672.50,338.50 C672.03,337.30 671.17,336.15 670.70,335.00 C670.23,333.85 669.75,332.77 669.70,331.60 C669.65,330.43 669.95,329.27 670.40,328.00 C670.85,326.73 671.71,325.25 672.40,324.00 C673.09,322.75 674.19,321.73 674.55,320.50 C674.91,319.27 674.55,317.25 674.55,316.60 Z" fill="#0505fa" stroke="#000" stroke-width="0.80" stroke-linejoin="round"/><line x1="670.70" y1="331.60" x2="679.30" y2="331.60" stroke="#fff" stroke-width="1.7"/><path d="M692.55,313.60 C692.55,314.25 692.29,316.27 692.55,317.50 C692.81,318.73 693.68,319.83 694.10,321.00 C694.52,322.17 694.85,323.23 695.10,324.50 C695.35,325.77 695.60,327.18 695.60,328.60 C695.60,330.02 695.32,331.60 695.10,333.00 C694.88,334.40 694.47,335.73 694.30,337.00 C694.13,338.27 693.83,339.43 694.10,340.60 C694.37,341.77 695.23,342.85 695.90,344.00 C696.57,345.15 697.57,346.30 698.10,347.50 C698.63,348.70 699.10,349.95 699.10,351.20 C699.10,352.45 698.67,353.78 698.10,355.00 C697.53,356.22 696.50,357.33 695.70,358.50 C694.90,359.67 693.83,360.47 693.30,362.00 C692.78,363.53 692.68,366.75 692.55,367.70 L691.65,367.70 C691.52,366.75 691.42,363.53 690.90,362.00 C690.38,360.47 689.30,359.67 688.50,358.50 C687.70,357.33 686.67,356.22 686.10,355.00 C685.53,353.78 685.10,352.45 685.10,351.20 C685.10,349.95 685.57,348.70 686.10,347.50 C686.63,346.30 687.63,345.15 688.30,344.00 C688.97,342.85 689.83,341.77 690.10,340.60 C690.37,339.43 690.07,338.27 689.90,337.00 C689.73,335.73 689.32,334.40 689.10,333.00 C688.88,331.60 688.60,330.02 688.60,328.60 C688.60,327.18 688.85,325.77 689.10,324.50 C689.35,323.23 689.68,322.17 690.10,321.00 C690.52,319.83 691.39,318.73 691.65,317.50 C691.91,316.27 691.65,314.25 691.65,313.60 Z" fill="#000" stroke="#000" stroke-width="0.80" stroke-linejoin="round"/><line x1="686.10" y1="351.20" x2="698.10" y2="351.20" stroke="#fff" stroke-width="1.6" stroke-dasharray="1.3 0.9"/></g>
<text transform="translate(-1.0 12) scale(0.95 1)" font-size="17.5" fill="#111">(A)</text>
</svg></body></html>
